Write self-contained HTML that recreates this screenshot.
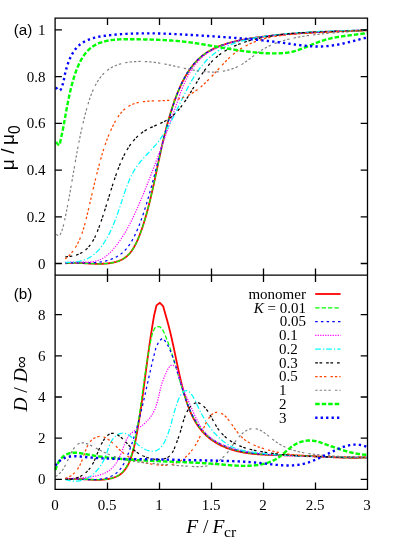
<!DOCTYPE html>
<html><head><meta charset="utf-8"><title>Mobility and diffusion</title>
<style>
html,body{margin:0;padding:0;background:#fff;}
body{width:415px;height:551px;overflow:hidden;font-family:"Liberation Sans",sans-serif;}
svg{display:block;}
</style></head><body>
<svg width="415" height="551" viewBox="0 0 415 551">
<rect width="415" height="551" fill="#fff"/>
<g stroke-linecap="butt" stroke-linejoin="round">
<path d="M65.30 263.30 L65.97 263.23 L66.65 263.16 L67.32 263.10 L68.00 263.04 L68.68 263.00 L69.36 262.96 L70.04 262.93 L70.72 262.90 L71.41 262.88 L72.09 262.86 L72.78 262.85 L73.47 262.85 L74.16 262.85 L74.86 262.85 L75.55 262.86 L76.24 262.87 L76.94 262.89 L77.64 262.91 L78.34 262.93 L79.04 262.96 L79.74 262.99 L80.44 263.02 L81.15 263.05 L81.85 263.09 L82.56 263.12 L83.26 263.16 L83.97 263.20 L84.68 263.24 L85.39 263.28 L86.10 263.32 L86.81 263.36 L87.52 263.41 L88.24 263.45 L88.95 263.49 L89.67 263.52 L90.38 263.56 L91.10 263.60 L91.82 263.63 L92.53 263.67 L93.25 263.70 L93.97 263.72 L94.69 263.75 L95.41 263.77 L96.13 263.79 L96.85 263.80 L97.58 263.81 L98.30 263.82 L99.02 263.82 L99.74 263.82 L100.47 263.81 L101.19 263.80 L101.91 263.78 L102.64 263.76 L103.36 263.73 L104.08 263.69 L104.80 263.65 L105.52 263.60 L106.24 263.54 L106.96 263.48 L107.67 263.41 L108.38 263.33 L109.09 263.24 L109.80 263.15 L110.50 263.04 L111.20 262.93 L111.89 262.81 L112.58 262.68 L113.27 262.54 L113.95 262.39 L114.62 262.23 L115.29 262.06 L115.95 261.88 L116.61 261.68 L117.26 261.48 L117.90 261.27 L118.53 261.04 L119.16 260.80 L119.78 260.55 L120.39 260.29 L120.99 260.02 L121.59 259.73 L122.17 259.43 L122.74 259.11 L123.31 258.79 L123.86 258.45 L124.40 258.09 L124.94 257.72 L125.46 257.34 L125.97 256.94 L126.47 256.53 L126.96 256.11 L127.45 255.67 L127.92 255.22 L128.38 254.76 L128.83 254.29 L129.28 253.81 L129.71 253.31 L130.14 252.81 L130.56 252.29 L130.97 251.77 L131.37 251.23 L131.77 250.69 L132.15 250.14 L132.53 249.57 L132.91 249.00 L133.27 248.43 L133.63 247.84 L133.98 247.25 L134.32 246.65 L134.66 246.04 L134.99 245.43 L135.32 244.81 L135.64 244.19 L135.96 243.56 L136.27 242.92 L136.57 242.28 L136.87 241.64 L137.16 240.99 L137.46 240.34 L137.74 239.69 L138.02 239.03 L138.30 238.37 L138.57 237.71 L138.84 237.04 L139.11 236.37 L139.37 235.71 L139.63 235.04 L139.89 234.37 L140.15 233.70 L140.40 233.03 L140.65 232.36 L140.89 231.68 L141.14 231.01 L141.38 230.34 L141.62 229.66 L141.85 228.99 L142.09 228.31 L142.32 227.63 L142.55 226.96 L142.77 226.28 L143.00 225.60 L143.22 224.92 L143.44 224.24 L143.65 223.56 L143.87 222.88 L144.08 222.20 L144.29 221.52 L144.50 220.84 L144.71 220.16 L144.91 219.48 L145.12 218.80 L145.32 218.11 L145.52 217.43 L145.71 216.75 L145.91 216.07 L146.10 215.39 L146.30 214.70 L146.49 214.02 L146.68 213.34 L146.86 212.65 L147.05 211.97 L147.24 211.29 L147.42 210.61 L147.60 209.92 L147.78 209.24 L147.96 208.56 L148.14 207.88 L148.32 207.20 L148.49 206.51 L148.67 205.83 L148.84 205.15 L149.02 204.47 L149.19 203.79 L149.36 203.11 L149.53 202.43 L149.70 201.74 L149.86 201.06 L150.03 200.38 L150.20 199.70 L150.36 199.02 L150.52 198.34 L150.69 197.66 L150.85 196.98 L151.01 196.30 L151.17 195.62 L151.33 194.94 L151.49 194.26 L151.64 193.58 L151.80 192.90 L151.96 192.22 L152.11 191.54 L152.27 190.87 L152.42 190.19 L152.57 189.51 L152.73 188.83 L152.88 188.15 L153.03 187.47 L153.18 186.79 L153.33 186.11 L153.48 185.44 L153.63 184.76 L153.78 184.08 L153.93 183.40 L154.08 182.72 L154.22 182.04 L154.37 181.37 L154.52 180.69 L154.66 180.01 L154.81 179.33 L154.95 178.66 L155.10 177.98 L155.24 177.30 L155.39 176.62 L155.53 175.95 L155.67 175.27 L155.82 174.59 L155.96 173.91 L156.10 173.24 L156.25 172.56 L156.39 171.88 L156.53 171.21 L156.68 170.53 L156.82 169.85 L156.96 169.17 L157.10 168.50 L157.25 167.82 L157.39 167.14 L157.53 166.47 L157.67 165.79 L157.82 165.11 L157.96 164.44 L158.10 163.76 L158.24 163.08 L158.39 162.41 L158.53 161.73 L158.67 161.06 L158.82 160.38 L158.96 159.70 L159.10 159.03 L159.25 158.35 L159.39 157.67 L159.54 157.00 L159.68 156.32 L159.83 155.64 L159.97 154.97 L160.12 154.29 L160.27 153.62 L160.41 152.94 L160.56 152.26 L160.71 151.59 L160.86 150.91 L161.00 150.23 L161.15 149.56 L161.30 148.88 L161.45 148.21 L161.60 147.53 L161.76 146.85 L161.91 146.18 L162.06 145.50 L162.22 144.82 L162.37 144.15 L162.52 143.47 L162.68 142.79 L162.84 142.12 L162.99 141.44 L163.15 140.76 L163.31 140.09 L163.47 139.41 L163.63 138.74 L163.79 138.06 L163.95 137.38 L164.12 136.71 L164.28 136.03 L164.44 135.35 L164.61 134.68 L164.78 134.00 L164.94 133.32 L165.11 132.64 L165.28 131.97 L165.45 131.29 L165.63 130.61 L165.80 129.94 L165.97 129.26 L166.15 128.58 L166.33 127.91 L166.50 127.23 L166.68 126.55 L166.86 125.87 L167.04 125.20 L167.23 124.52 L167.41 123.84 L167.60 123.16 L167.78 122.48 L167.97 121.81 L168.16 121.13 L168.35 120.45 L168.54 119.77 L168.74 119.10 L168.93 118.42 L169.13 117.74 L169.32 117.06 L169.52 116.38 L169.73 115.70 L169.93 115.02 L170.13 114.35 L170.34 113.67 L170.54 112.99 L170.75 112.31 L170.96 111.63 L171.18 110.95 L171.39 110.27 L171.61 109.59 L171.82 108.91 L172.04 108.23 L172.26 107.55 L172.49 106.87 L172.71 106.19 L172.94 105.51 L173.16 104.83 L173.39 104.15 L173.63 103.47 L173.86 102.79 L174.10 102.11 L174.33 101.44 L174.57 100.76 L174.82 100.08 L175.06 99.40 L175.31 98.72 L175.56 98.05 L175.81 97.37 L176.06 96.70 L176.32 96.02 L176.58 95.35 L176.84 94.68 L177.10 94.01 L177.36 93.34 L177.63 92.67 L177.90 92.00 L178.18 91.34 L178.45 90.67 L178.73 90.01 L179.01 89.35 L179.30 88.69 L179.59 88.04 L179.88 87.38 L180.17 86.73 L180.47 86.08 L180.76 85.43 L181.07 84.78 L181.37 84.14 L181.68 83.50 L181.99 82.86 L182.31 82.22 L182.62 81.59 L182.94 80.96 L183.27 80.33 L183.60 79.70 L183.93 79.08 L184.26 78.46 L184.60 77.84 L184.94 77.23 L185.29 76.62 L185.63 76.01 L185.99 75.41 L186.34 74.81 L186.70 74.21 L187.06 73.62 L187.43 73.03 L187.80 72.44 L188.18 71.86 L188.55 71.28 L188.94 70.71 L189.32 70.14 L189.71 69.58 L190.11 69.01 L190.51 68.46 L190.91 67.90 L191.32 67.36 L191.73 66.81 L192.14 66.27 L192.56 65.74 L192.98 65.21 L193.41 64.68 L193.84 64.16 L194.28 63.65 L194.72 63.14 L195.17 62.63 L195.62 62.13 L196.07 61.64 L196.53 61.15 L197.00 60.67 L197.47 60.19 L197.94 59.72 L198.42 59.25 L198.90 58.79 L199.39 58.33 L199.88 57.89 L200.38 57.44 L200.88 57.00 L201.39 56.57 L201.90 56.15 L202.42 55.73 L202.94 55.32 L203.47 54.91 L204.00 54.51 L204.54 54.12 L205.09 53.73 L205.63 53.35 L206.19 52.98 L206.75 52.61 L207.31 52.25 L207.87 51.89 L208.45 51.54 L209.02 51.20 L209.60 50.86 L210.19 50.52 L210.78 50.20 L211.37 49.88 L211.97 49.56 L212.57 49.25 L213.18 48.94 L213.78 48.64 L214.40 48.35 L215.01 48.06 L215.64 47.77 L216.26 47.49 L216.89 47.22 L217.52 46.95 L218.15 46.68 L218.79 46.42 L219.43 46.17 L220.08 45.92 L220.73 45.67 L221.38 45.43 L222.03 45.19 L222.69 44.96 L223.35 44.73 L224.01 44.50 L224.67 44.28 L225.34 44.07 L226.01 43.85 L226.68 43.65 L227.36 43.44 L228.03 43.24 L228.71 43.04 L229.40 42.85 L230.08 42.66 L230.77 42.48 L231.45 42.29 L232.14 42.11 L232.83 41.94 L233.53 41.77 L234.22 41.60 L234.92 41.43 L235.62 41.27 L236.32 41.11 L237.02 40.95 L237.72 40.80 L238.42 40.65 L239.13 40.50 L239.83 40.35 L240.54 40.21 L241.25 40.07 L241.96 39.93 L242.67 39.80 L243.38 39.66 L244.09 39.53 L244.80 39.41 L245.51 39.28 L246.22 39.16 L246.94 39.03 L247.65 38.91 L248.36 38.80 L249.08 38.68 L249.79 38.57 L250.50 38.45 L251.22 38.34 L251.93 38.23 L252.65 38.12 L253.36 38.02 L254.07 37.91 L254.78 37.81 L255.50 37.71 L256.21 37.60 L256.92 37.50 L257.63 37.41 L258.34 37.31 L259.05 37.21 L259.76 37.11 L260.46 37.02 L261.17 36.93 L261.88 36.83 L262.58 36.74 L263.29 36.65 L264.00 36.56 L264.70 36.47 L265.40 36.39 L266.11 36.30 L266.81 36.21 L267.51 36.13 L268.21 36.05 L268.92 35.96 L269.62 35.88 L270.32 35.80 L271.02 35.72 L271.72 35.64 L272.42 35.56 L273.12 35.49 L273.81 35.41 L274.51 35.34 L275.21 35.26 L275.91 35.19 L276.60 35.12 L277.30 35.05 L278.00 34.98 L278.69 34.91 L279.39 34.84 L280.08 34.77 L280.78 34.70 L281.47 34.64 L282.16 34.57 L282.86 34.50 L283.55 34.44 L284.24 34.38 L284.94 34.32 L285.63 34.25 L286.32 34.19 L287.01 34.13 L287.70 34.07 L288.39 34.02 L289.09 33.96 L289.78 33.90 L290.47 33.84 L291.16 33.79 L291.85 33.73 L292.54 33.68 L293.23 33.63 L293.92 33.57 L294.61 33.52 L295.30 33.47 L295.98 33.42 L296.67 33.37 L297.36 33.32 L298.05 33.27 L298.74 33.22 L299.43 33.18 L300.12 33.13 L300.80 33.08 L301.49 33.04 L302.18 32.99 L302.87 32.95 L303.56 32.90 L304.24 32.86 L304.93 32.82 L305.62 32.78 L306.31 32.73 L307.00 32.69 L307.68 32.65 L308.37 32.61 L309.06 32.57 L309.75 32.53 L310.43 32.49 L311.12 32.46 L311.81 32.42 L312.50 32.38 L313.19 32.35 L313.87 32.31 L314.56 32.27 L315.25 32.24 L315.94 32.20 L316.63 32.17 L317.32 32.13 L318.00 32.10 L318.69 32.07 L319.38 32.04 L320.07 32.00 L320.76 31.97 L321.45 31.94 L322.14 31.91 L322.83 31.88 L323.52 31.85 L324.21 31.82 L324.90 31.79 L325.59 31.76 L326.28 31.73 L326.97 31.70 L327.66 31.67 L328.35 31.64 L329.04 31.61 L329.74 31.59 L330.43 31.56 L331.12 31.53 L331.81 31.50 L332.51 31.48 L333.20 31.45 L333.89 31.42 L334.59 31.40 L335.28 31.37 L335.98 31.35 L336.67 31.32 L337.37 31.30 L338.06 31.27 L338.76 31.25 L339.46 31.22 L340.15 31.20 L340.85 31.17 L341.55 31.15 L342.24 31.12 L342.94 31.10 L343.64 31.08 L344.34 31.05 L345.04 31.03 L345.74 31.00 L346.44 30.98 L347.14 30.96 L347.84 30.93 L348.55 30.91 L349.25 30.89 L349.95 30.86 L350.66 30.84 L351.36 30.82 L352.06 30.79 L352.77 30.77 L353.48 30.75 L354.18 30.72 L354.89 30.70 L355.60 30.68 L356.30 30.66 L357.01 30.63 L357.72 30.61 L358.43 30.59 L359.14 30.56 L359.85 30.54 L360.57 30.52 L361.28 30.49 L361.99 30.47 L362.70 30.44 L363.42 30.42 L364.13 30.40 L364.85 30.37 L365.57 30.35 L366.28 30.32 L367.00 30.30" fill="none" stroke="#ff0000" stroke-width="1.8"/>
<path d="M65.30 263.30 L65.97 263.23 L66.65 263.16 L67.32 263.10 L68.00 263.04 L68.68 263.00 L69.36 262.96 L70.04 262.93 L70.72 262.90 L71.41 262.88 L72.09 262.86 L72.78 262.85 L73.47 262.85 L74.16 262.85 L74.86 262.85 L75.55 262.86 L76.24 262.87 L76.94 262.89 L77.64 262.91 L78.34 262.93 L79.04 262.96 L79.74 262.99 L80.44 263.02 L81.15 263.05 L81.85 263.09 L82.56 263.12 L83.26 263.16 L83.97 263.20 L84.68 263.24 L85.39 263.28 L86.10 263.32 L86.81 263.36 L87.52 263.41 L88.24 263.45 L88.95 263.49 L89.67 263.52 L90.38 263.56 L91.10 263.60 L91.82 263.63 L92.53 263.67 L93.25 263.70 L93.97 263.72 L94.69 263.75 L95.41 263.77 L96.13 263.79 L96.85 263.80 L97.58 263.81 L98.30 263.82 L99.02 263.82 L99.74 263.82 L100.47 263.81 L101.19 263.80 L101.91 263.78 L102.64 263.76 L103.36 263.73 L104.08 263.69 L104.80 263.65 L105.52 263.60 L106.24 263.54 L106.96 263.48 L107.67 263.41 L108.38 263.33 L109.09 263.24 L109.80 263.15 L110.50 263.04 L111.20 262.93 L111.89 262.81 L112.58 262.68 L113.27 262.54 L113.95 262.39 L114.62 262.23 L115.29 262.06 L115.95 261.88 L116.61 261.68 L117.26 261.48 L117.90 261.27 L118.53 261.04 L119.16 260.80 L119.78 260.55 L120.39 260.29 L120.99 260.02 L121.59 259.73 L122.17 259.43 L122.74 259.11 L123.31 258.79 L123.86 258.45 L124.40 258.09 L124.94 257.72 L125.46 257.34 L125.97 256.94 L126.47 256.53 L126.96 256.11 L127.45 255.67 L127.92 255.22 L128.38 254.76 L128.83 254.29 L129.28 253.81 L129.71 253.31 L130.14 252.81 L130.56 252.29 L130.97 251.77 L131.37 251.23 L131.77 250.69 L132.15 250.14 L132.53 249.57 L132.91 249.00 L133.27 248.43 L133.63 247.84 L133.98 247.25 L134.32 246.65 L134.66 246.04 L134.99 245.43 L135.32 244.81 L135.64 244.19 L135.96 243.56 L136.27 242.92 L136.57 242.28 L136.87 241.64 L137.16 240.99 L137.46 240.34 L137.74 239.69 L138.02 239.03 L138.30 238.37 L138.57 237.71 L138.84 237.04 L139.11 236.37 L139.37 235.71 L139.63 235.04 L139.89 234.37 L140.15 233.70 L140.40 233.03 L140.65 232.36 L140.89 231.68 L141.14 231.01 L141.38 230.34 L141.62 229.66 L141.85 228.99 L142.09 228.31 L142.32 227.63 L142.55 226.96 L142.77 226.28 L143.00 225.60 L143.22 224.92 L143.44 224.24 L143.65 223.56 L143.87 222.88 L144.08 222.20 L144.29 221.52 L144.50 220.84 L144.71 220.16 L144.91 219.48 L145.12 218.80 L145.32 218.11 L145.52 217.43 L145.71 216.75 L145.91 216.07 L146.10 215.39 L146.30 214.70 L146.49 214.02 L146.68 213.34 L146.86 212.65 L147.05 211.97 L147.24 211.29 L147.42 210.61 L147.60 209.92 L147.78 209.24 L147.96 208.56 L148.14 207.88 L148.32 207.20 L148.49 206.51 L148.67 205.83 L148.84 205.15 L149.02 204.47 L149.19 203.79 L149.36 203.11 L149.53 202.43 L149.70 201.74 L149.86 201.06 L150.03 200.38 L150.20 199.70 L150.36 199.02 L150.52 198.34 L150.69 197.66 L150.85 196.98 L151.01 196.30 L151.17 195.62 L151.33 194.94 L151.49 194.26 L151.64 193.58 L151.80 192.90 L151.96 192.22 L152.11 191.54 L152.27 190.87 L152.42 190.19 L152.57 189.51 L152.73 188.83 L152.88 188.15 L153.03 187.47 L153.18 186.79 L153.33 186.11 L153.48 185.44 L153.63 184.76 L153.78 184.08 L153.93 183.40 L154.08 182.72 L154.22 182.04 L154.37 181.37 L154.52 180.69 L154.66 180.01 L154.81 179.33 L154.95 178.66 L155.10 177.98 L155.24 177.30 L155.39 176.62 L155.53 175.95 L155.67 175.27 L155.82 174.59 L155.96 173.91 L156.10 173.24 L156.25 172.56 L156.39 171.88 L156.53 171.21 L156.68 170.53 L156.82 169.85 L156.96 169.17 L157.10 168.50 L157.25 167.82 L157.39 167.14 L157.53 166.47 L157.67 165.79 L157.82 165.11 L157.96 164.44 L158.10 163.76 L158.24 163.08 L158.39 162.41 L158.53 161.73 L158.67 161.06 L158.82 160.38 L158.96 159.70 L159.10 159.03 L159.25 158.35 L159.39 157.67 L159.54 157.00 L159.68 156.32 L159.83 155.64 L159.97 154.97 L160.12 154.29 L160.27 153.62 L160.41 152.94 L160.56 152.26 L160.71 151.59 L160.86 150.91 L161.00 150.23 L161.15 149.56 L161.30 148.88 L161.45 148.21 L161.60 147.53 L161.76 146.85 L161.91 146.18 L162.06 145.50 L162.22 144.82 L162.37 144.15 L162.52 143.47 L162.68 142.79 L162.84 142.12 L162.99 141.44 L163.15 140.76 L163.31 140.09 L163.47 139.41 L163.63 138.74 L163.79 138.06 L163.95 137.38 L164.12 136.71 L164.28 136.03 L164.44 135.35 L164.61 134.68 L164.78 134.00 L164.94 133.32 L165.11 132.64 L165.28 131.97 L165.45 131.29 L165.63 130.61 L165.80 129.94 L165.97 129.26 L166.15 128.58 L166.33 127.91 L166.50 127.23 L166.68 126.55 L166.86 125.87 L167.04 125.20 L167.23 124.52 L167.41 123.84 L167.60 123.16 L167.78 122.48 L167.97 121.81 L168.16 121.13 L168.35 120.45 L168.54 119.77 L168.74 119.10 L168.93 118.42 L169.13 117.74 L169.32 117.06 L169.52 116.38 L169.73 115.70 L169.93 115.02 L170.13 114.35 L170.34 113.67 L170.54 112.99 L170.75 112.31 L170.96 111.63 L171.18 110.95 L171.39 110.27 L171.61 109.59 L171.82 108.91 L172.04 108.23 L172.26 107.55 L172.49 106.87 L172.71 106.19 L172.94 105.51 L173.16 104.83 L173.39 104.15 L173.63 103.47 L173.86 102.79 L174.10 102.11 L174.33 101.44 L174.57 100.76 L174.82 100.08 L175.06 99.40 L175.31 98.72 L175.56 98.05 L175.81 97.37 L176.06 96.70 L176.32 96.02 L176.58 95.35 L176.84 94.68 L177.10 94.01 L177.36 93.34 L177.63 92.67 L177.90 92.00 L178.18 91.34 L178.45 90.67 L178.73 90.01 L179.01 89.35 L179.30 88.69 L179.59 88.04 L179.88 87.38 L180.17 86.73 L180.47 86.08 L180.76 85.43 L181.07 84.78 L181.37 84.14 L181.68 83.50 L181.99 82.86 L182.31 82.22 L182.62 81.59 L182.94 80.96 L183.27 80.33 L183.60 79.70 L183.93 79.08 L184.26 78.46 L184.60 77.84 L184.94 77.23 L185.29 76.62 L185.63 76.01 L185.99 75.41 L186.34 74.81 L186.70 74.21 L187.06 73.62 L187.43 73.03 L187.80 72.44 L188.18 71.86 L188.55 71.28 L188.94 70.71 L189.32 70.14 L189.71 69.58 L190.11 69.01 L190.51 68.46 L190.91 67.90 L191.32 67.36 L191.73 66.81 L192.14 66.27 L192.56 65.74 L192.98 65.21 L193.41 64.68 L193.84 64.16 L194.28 63.65 L194.72 63.14 L195.17 62.63 L195.62 62.13 L196.07 61.64 L196.53 61.15 L197.00 60.67 L197.47 60.19 L197.94 59.72 L198.42 59.25 L198.90 58.79 L199.39 58.33 L199.88 57.89 L200.38 57.44 L200.88 57.00 L201.39 56.57 L201.90 56.15 L202.42 55.73 L202.94 55.32 L203.47 54.91 L204.00 54.51 L204.54 54.12 L205.09 53.73 L205.63 53.35 L206.19 52.98 L206.75 52.61 L207.31 52.25 L207.87 51.89 L208.45 51.54 L209.02 51.20 L209.60 50.86 L210.19 50.52 L210.78 50.20 L211.37 49.88 L211.97 49.56 L212.57 49.25 L213.18 48.94 L213.78 48.64 L214.40 48.35 L215.01 48.06 L215.64 47.77 L216.26 47.49 L216.89 47.22 L217.52 46.95 L218.15 46.68 L218.79 46.42 L219.43 46.17 L220.08 45.92 L220.73 45.67 L221.38 45.43 L222.03 45.19 L222.69 44.96 L223.35 44.73 L224.01 44.50 L224.67 44.28 L225.34 44.07 L226.01 43.85 L226.68 43.65 L227.36 43.44 L228.03 43.24 L228.71 43.04 L229.40 42.85 L230.08 42.66 L230.77 42.48 L231.45 42.29 L232.14 42.11 L232.83 41.94 L233.53 41.77 L234.22 41.60 L234.92 41.43 L235.62 41.27 L236.32 41.11 L237.02 40.95 L237.72 40.80 L238.42 40.65 L239.13 40.50 L239.83 40.35 L240.54 40.21 L241.25 40.07 L241.96 39.93 L242.67 39.80 L243.38 39.66 L244.09 39.53 L244.80 39.41 L245.51 39.28 L246.22 39.16 L246.94 39.03 L247.65 38.91 L248.36 38.80 L249.08 38.68 L249.79 38.57 L250.50 38.45 L251.22 38.34 L251.93 38.23 L252.65 38.12 L253.36 38.02 L254.07 37.91 L254.78 37.81 L255.50 37.71 L256.21 37.60 L256.92 37.50 L257.63 37.41 L258.34 37.31 L259.05 37.21 L259.76 37.11 L260.46 37.02 L261.17 36.93 L261.88 36.83 L262.58 36.74 L263.29 36.65 L264.00 36.56 L264.70 36.47 L265.40 36.39 L266.11 36.30 L266.81 36.21 L267.51 36.13 L268.21 36.05 L268.92 35.96 L269.62 35.88 L270.32 35.80 L271.02 35.72 L271.72 35.64 L272.42 35.56 L273.12 35.49 L273.81 35.41 L274.51 35.34 L275.21 35.26 L275.91 35.19 L276.60 35.12 L277.30 35.05 L278.00 34.98 L278.69 34.91 L279.39 34.84 L280.08 34.77 L280.78 34.70 L281.47 34.64 L282.16 34.57 L282.86 34.50 L283.55 34.44 L284.24 34.38 L284.94 34.32 L285.63 34.25 L286.32 34.19 L287.01 34.13 L287.70 34.07 L288.39 34.02 L289.09 33.96 L289.78 33.90 L290.47 33.84 L291.16 33.79 L291.85 33.73 L292.54 33.68 L293.23 33.63 L293.92 33.57 L294.61 33.52 L295.30 33.47 L295.98 33.42 L296.67 33.37 L297.36 33.32 L298.05 33.27 L298.74 33.22 L299.43 33.18 L300.12 33.13 L300.80 33.08 L301.49 33.04 L302.18 32.99 L302.87 32.95 L303.56 32.90 L304.24 32.86 L304.93 32.82 L305.62 32.78 L306.31 32.73 L307.00 32.69 L307.68 32.65 L308.37 32.61 L309.06 32.57 L309.75 32.53 L310.43 32.49 L311.12 32.46 L311.81 32.42 L312.50 32.38 L313.19 32.35 L313.87 32.31 L314.56 32.27 L315.25 32.24 L315.94 32.20 L316.63 32.17 L317.32 32.13 L318.00 32.10 L318.69 32.07 L319.38 32.04 L320.07 32.00 L320.76 31.97 L321.45 31.94 L322.14 31.91 L322.83 31.88 L323.52 31.85 L324.21 31.82 L324.90 31.79 L325.59 31.76 L326.28 31.73 L326.97 31.70 L327.66 31.67 L328.35 31.64 L329.04 31.61 L329.74 31.59 L330.43 31.56 L331.12 31.53 L331.81 31.50 L332.51 31.48 L333.20 31.45 L333.89 31.42 L334.59 31.40 L335.28 31.37 L335.98 31.35 L336.67 31.32 L337.37 31.30 L338.06 31.27 L338.76 31.25 L339.46 31.22 L340.15 31.20 L340.85 31.17 L341.55 31.15 L342.24 31.12 L342.94 31.10 L343.64 31.08 L344.34 31.05 L345.04 31.03 L345.74 31.00 L346.44 30.98 L347.14 30.96 L347.84 30.93 L348.55 30.91 L349.25 30.89 L349.95 30.86 L350.66 30.84 L351.36 30.82 L352.06 30.79 L352.77 30.77 L353.48 30.75 L354.18 30.72 L354.89 30.70 L355.60 30.68 L356.30 30.66 L357.01 30.63 L357.72 30.61 L358.43 30.59 L359.14 30.56 L359.85 30.54 L360.57 30.52 L361.28 30.49 L361.99 30.47 L362.70 30.44 L363.42 30.42 L364.13 30.40 L364.85 30.37 L365.57 30.35 L366.28 30.32 L367.00 30.30" fill="none" stroke="#00ff00" stroke-width="1.25" stroke-dasharray="4.4 2"/>
<path d="M65.30 263.00 L65.95 262.95 L66.60 262.91 L67.26 262.88 L67.93 262.85 L68.60 262.83 L69.27 262.80 L69.95 262.79 L70.63 262.78 L71.31 262.77 L72.00 262.76 L72.69 262.76 L73.38 262.76 L74.08 262.76 L74.78 262.77 L75.49 262.78 L76.19 262.78 L76.90 262.79 L77.61 262.80 L78.32 262.82 L79.04 262.83 L79.76 262.84 L80.47 262.85 L81.19 262.86 L81.92 262.88 L82.64 262.89 L83.36 262.89 L84.09 262.90 L84.81 262.91 L85.54 262.91 L86.27 262.91 L86.99 262.91 L87.72 262.90 L88.45 262.90 L89.17 262.88 L89.90 262.87 L90.63 262.85 L91.35 262.82 L92.08 262.79 L92.80 262.76 L93.52 262.72 L94.24 262.68 L94.96 262.63 L95.68 262.57 L96.40 262.51 L97.11 262.44 L97.82 262.36 L98.53 262.27 L99.24 262.18 L99.95 262.08 L100.65 261.98 L101.35 261.86 L102.05 261.74 L102.74 261.61 L103.43 261.48 L104.12 261.33 L104.80 261.18 L105.48 261.02 L106.15 260.85 L106.82 260.67 L107.49 260.49 L108.15 260.29 L108.81 260.09 L109.46 259.88 L110.11 259.66 L110.75 259.43 L111.39 259.20 L112.02 258.95 L112.65 258.70 L113.27 258.43 L113.89 258.16 L114.49 257.87 L115.10 257.58 L115.69 257.28 L116.28 256.97 L116.87 256.65 L117.44 256.32 L118.01 255.98 L118.57 255.63 L119.13 255.26 L119.67 254.89 L120.21 254.51 L120.74 254.12 L121.27 253.72 L121.78 253.31 L122.29 252.88 L122.79 252.45 L123.28 252.01 L123.76 251.55 L124.24 251.09 L124.70 250.61 L125.16 250.13 L125.61 249.64 L126.06 249.14 L126.50 248.63 L126.93 248.11 L127.35 247.59 L127.77 247.06 L128.18 246.51 L128.58 245.97 L128.98 245.41 L129.37 244.85 L129.76 244.28 L130.14 243.71 L130.51 243.13 L130.88 242.54 L131.24 241.95 L131.60 241.35 L131.95 240.74 L132.30 240.14 L132.64 239.52 L132.97 238.91 L133.31 238.28 L133.63 237.66 L133.96 237.03 L134.28 236.40 L134.59 235.76 L134.90 235.12 L135.21 234.48 L135.51 233.84 L135.81 233.19 L136.11 232.54 L136.40 231.89 L136.69 231.24 L136.98 230.59 L137.27 229.93 L137.55 229.28 L137.82 228.62 L138.10 227.96 L138.37 227.30 L138.64 226.64 L138.91 225.98 L139.17 225.31 L139.43 224.65 L139.69 223.98 L139.95 223.31 L140.20 222.65 L140.45 221.98 L140.70 221.31 L140.95 220.64 L141.19 219.96 L141.43 219.29 L141.67 218.62 L141.91 217.95 L142.15 217.27 L142.38 216.60 L142.61 215.92 L142.84 215.25 L143.07 214.57 L143.30 213.90 L143.52 213.22 L143.74 212.54 L143.97 211.87 L144.18 211.19 L144.40 210.51 L144.62 209.84 L144.83 209.16 L145.05 208.48 L145.26 207.81 L145.47 207.13 L145.68 206.46 L145.89 205.78 L146.10 205.10 L146.31 204.43 L146.51 203.75 L146.72 203.08 L146.92 202.40 L147.12 201.73 L147.32 201.06 L147.52 200.38 L147.72 199.71 L147.92 199.04 L148.12 198.36 L148.31 197.69 L148.51 197.02 L148.70 196.34 L148.89 195.67 L149.09 195.00 L149.28 194.33 L149.47 193.65 L149.66 192.98 L149.85 192.31 L150.03 191.64 L150.22 190.97 L150.41 190.30 L150.59 189.62 L150.78 188.95 L150.96 188.28 L151.14 187.61 L151.33 186.94 L151.51 186.27 L151.69 185.60 L151.87 184.93 L152.05 184.26 L152.23 183.59 L152.41 182.92 L152.59 182.25 L152.76 181.58 L152.94 180.91 L153.12 180.24 L153.29 179.57 L153.47 178.90 L153.64 178.23 L153.82 177.56 L153.99 176.89 L154.16 176.22 L154.33 175.55 L154.51 174.89 L154.68 174.22 L154.85 173.55 L155.02 172.88 L155.19 172.21 L155.36 171.54 L155.53 170.87 L155.70 170.20 L155.87 169.53 L156.04 168.86 L156.21 168.20 L156.38 167.53 L156.55 166.86 L156.72 166.19 L156.89 165.52 L157.05 164.85 L157.22 164.18 L157.39 163.51 L157.56 162.84 L157.73 162.17 L157.89 161.51 L158.06 160.84 L158.23 160.17 L158.40 159.50 L158.56 158.83 L158.73 158.16 L158.90 157.49 L159.07 156.82 L159.23 156.15 L159.40 155.48 L159.57 154.81 L159.74 154.14 L159.90 153.47 L160.07 152.80 L160.24 152.13 L160.41 151.46 L160.58 150.79 L160.75 150.12 L160.91 149.45 L161.08 148.78 L161.25 148.11 L161.42 147.44 L161.59 146.77 L161.76 146.10 L161.93 145.43 L162.11 144.75 L162.28 144.08 L162.45 143.41 L162.62 142.74 L162.79 142.07 L162.97 141.40 L163.14 140.72 L163.31 140.05 L163.49 139.38 L163.66 138.71 L163.84 138.03 L164.01 137.36 L164.19 136.69 L164.37 136.01 L164.54 135.34 L164.72 134.66 L164.90 133.99 L165.08 133.32 L165.26 132.64 L165.44 131.97 L165.62 131.29 L165.80 130.62 L165.99 129.94 L166.17 129.27 L166.35 128.59 L166.54 127.91 L166.73 127.24 L166.91 126.56 L167.10 125.88 L167.29 125.21 L167.48 124.53 L167.67 123.85 L167.86 123.17 L168.05 122.49 L168.24 121.82 L168.43 121.14 L168.63 120.46 L168.82 119.78 L169.02 119.10 L169.22 118.42 L169.42 117.74 L169.62 117.06 L169.82 116.38 L170.02 115.70 L170.22 115.01 L170.42 114.33 L170.63 113.65 L170.83 112.97 L171.04 112.28 L171.25 111.60 L171.46 110.92 L171.67 110.23 L171.88 109.55 L172.09 108.86 L172.31 108.18 L172.52 107.49 L172.74 106.81 L172.96 106.12 L173.18 105.44 L173.40 104.75 L173.62 104.07 L173.85 103.38 L174.08 102.70 L174.30 102.02 L174.53 101.33 L174.77 100.65 L175.00 99.97 L175.24 99.29 L175.47 98.61 L175.71 97.93 L175.96 97.25 L176.20 96.57 L176.45 95.90 L176.69 95.22 L176.95 94.55 L177.20 93.88 L177.46 93.20 L177.71 92.53 L177.97 91.87 L178.24 91.20 L178.50 90.54 L178.77 89.87 L179.04 89.21 L179.32 88.55 L179.60 87.90 L179.88 87.24 L180.16 86.59 L180.44 85.94 L180.73 85.29 L181.03 84.64 L181.32 84.00 L181.62 83.36 L181.92 82.72 L182.23 82.09 L182.53 81.45 L182.85 80.83 L183.16 80.20 L183.48 79.57 L183.80 78.95 L184.13 78.34 L184.46 77.72 L184.79 77.11 L185.13 76.50 L185.47 75.90 L185.81 75.30 L186.16 74.70 L186.52 74.11 L186.87 73.52 L187.23 72.93 L187.60 72.35 L187.97 71.77 L188.34 71.20 L188.72 70.63 L189.10 70.07 L189.48 69.50 L189.87 68.95 L190.27 68.39 L190.67 67.85 L191.07 67.30 L191.48 66.77 L191.90 66.23 L192.31 65.70 L192.74 65.18 L193.16 64.66 L193.60 64.15 L194.04 63.64 L194.48 63.13 L194.93 62.63 L195.38 62.14 L195.84 61.65 L196.30 61.17 L196.77 60.69 L197.24 60.22 L197.72 59.76 L198.20 59.30 L198.69 58.84 L199.19 58.40 L199.69 57.95 L200.20 57.52 L200.71 57.09 L201.23 56.67 L201.75 56.25 L202.28 55.84 L202.81 55.43 L203.35 55.03 L203.90 54.64 L204.44 54.25 L205.00 53.87 L205.56 53.49 L206.12 53.12 L206.69 52.75 L207.26 52.39 L207.84 52.04 L208.42 51.69 L209.01 51.35 L209.60 51.01 L210.20 50.68 L210.80 50.35 L211.40 50.02 L212.01 49.71 L212.62 49.39 L213.24 49.09 L213.86 48.78 L214.48 48.48 L215.11 48.19 L215.74 47.90 L216.37 47.62 L217.01 47.34 L217.65 47.07 L218.30 46.80 L218.94 46.53 L219.59 46.27 L220.25 46.01 L220.90 45.76 L221.56 45.51 L222.22 45.27 L222.89 45.03 L223.56 44.79 L224.23 44.56 L224.90 44.33 L225.57 44.11 L226.25 43.89 L226.93 43.67 L227.61 43.46 L228.29 43.25 L228.98 43.05 L229.67 42.85 L230.35 42.65 L231.05 42.46 L231.74 42.27 L232.43 42.08 L233.13 41.90 L233.82 41.72 L234.52 41.54 L235.22 41.37 L235.92 41.20 L236.63 41.03 L237.33 40.86 L238.03 40.70 L238.74 40.54 L239.44 40.39 L240.15 40.24 L240.86 40.09 L241.56 39.94 L242.27 39.79 L242.98 39.65 L243.69 39.51 L244.40 39.38 L245.11 39.24 L245.81 39.11 L246.52 38.98 L247.23 38.85 L247.94 38.73 L248.65 38.61 L249.36 38.48 L250.07 38.37 L250.77 38.25 L251.48 38.13 L252.19 38.02 L252.89 37.91 L253.60 37.80 L254.30 37.70 L255.00 37.59 L255.71 37.49 L256.41 37.38 L257.11 37.28 L257.81 37.19 L258.51 37.09 L259.21 36.99 L259.91 36.90 L260.60 36.81 L261.30 36.72 L261.99 36.63 L262.69 36.54 L263.38 36.45 L264.08 36.37 L264.77 36.29 L265.47 36.21 L266.16 36.12 L266.85 36.05 L267.54 35.97 L268.23 35.89 L268.92 35.82 L269.61 35.74 L270.30 35.67 L270.99 35.60 L271.68 35.53 L272.37 35.46 L273.06 35.39 L273.74 35.32 L274.43 35.26 L275.12 35.19 L275.81 35.13 L276.49 35.07 L277.18 35.00 L277.87 34.94 L278.55 34.88 L279.24 34.83 L279.92 34.77 L280.61 34.71 L281.29 34.65 L281.98 34.60 L282.66 34.54 L283.35 34.49 L284.03 34.44 L284.72 34.38 L285.40 34.33 L286.09 34.28 L286.77 34.23 L287.46 34.18 L288.14 34.13 L288.83 34.08 L289.52 34.04 L290.20 33.99 L290.89 33.94 L291.57 33.89 L292.26 33.85 L292.94 33.80 L293.63 33.76 L294.32 33.71 L295.00 33.67 L295.69 33.62 L296.38 33.58 L297.06 33.54 L297.75 33.49 L298.44 33.45 L299.13 33.41 L299.82 33.36 L300.51 33.32 L301.20 33.28 L301.89 33.24 L302.58 33.19 L303.27 33.15 L303.96 33.11 L304.65 33.07 L305.34 33.03 L306.04 32.98 L306.73 32.94 L307.43 32.90 L308.12 32.86 L308.82 32.82 L309.51 32.77 L310.21 32.73 L310.90 32.69 L311.60 32.64 L312.30 32.60 L313.00 32.56 L313.70 32.52 L314.40 32.47 L315.10 32.43 L315.80 32.38 L316.50 32.34 L317.21 32.30 L317.91 32.25 L318.61 32.21 L319.31 32.17 L320.02 32.12 L320.72 32.08 L321.43 32.04 L322.13 31.99 L322.84 31.95 L323.54 31.91 L324.25 31.87 L324.95 31.82 L325.66 31.78 L326.37 31.74 L327.07 31.70 L327.78 31.66 L328.48 31.61 L329.19 31.57 L329.90 31.53 L330.61 31.49 L331.31 31.45 L332.02 31.41 L332.73 31.37 L333.43 31.34 L334.14 31.30 L334.85 31.26 L335.56 31.22 L336.26 31.18 L336.97 31.15 L337.68 31.11 L338.38 31.08 L339.09 31.04 L339.80 31.01 L340.50 30.97 L341.21 30.94 L341.91 30.91 L342.62 30.88 L343.32 30.84 L344.03 30.81 L344.73 30.78 L345.44 30.76 L346.14 30.73 L346.85 30.70 L347.55 30.67 L348.25 30.65 L348.95 30.62 L349.66 30.60 L350.36 30.57 L351.06 30.55 L351.76 30.53 L352.46 30.51 L353.16 30.49 L353.86 30.47 L354.56 30.45 L355.25 30.43 L355.95 30.41 L356.65 30.40 L357.34 30.39 L358.04 30.37 L358.73 30.36 L359.42 30.35 L360.12 30.34 L360.81 30.33 L361.50 30.32 L362.19 30.31 L362.88 30.31 L363.57 30.30 L364.26 30.30 L364.94 30.30 L365.63 30.30 L366.32 30.30 L367.00 30.30" fill="none" stroke="#0000ff" stroke-width="1.25" stroke-dasharray="2.5 3.2"/>
<path d="M65.30 262.80 L65.92 262.69 L66.54 262.58 L67.18 262.49 L67.83 262.42 L68.48 262.35 L69.15 262.29 L69.82 262.24 L70.50 262.20 L71.19 262.16 L71.89 262.14 L72.59 262.12 L73.30 262.11 L74.01 262.10 L74.73 262.09 L75.46 262.09 L76.18 262.10 L76.92 262.10 L77.65 262.11 L78.39 262.12 L79.14 262.13 L79.88 262.14 L80.63 262.15 L81.37 262.16 L82.12 262.16 L82.87 262.17 L83.62 262.17 L84.37 262.16 L85.12 262.16 L85.87 262.14 L86.61 262.13 L87.35 262.10 L88.09 262.07 L88.83 262.03 L89.56 261.98 L90.29 261.92 L91.02 261.85 L91.74 261.77 L92.45 261.68 L93.16 261.58 L93.86 261.47 L94.55 261.34 L95.24 261.20 L95.91 261.05 L96.58 260.88 L97.24 260.69 L97.89 260.49 L98.53 260.27 L99.16 260.04 L99.78 259.79 L100.39 259.52 L101.00 259.24 L101.59 258.95 L102.18 258.64 L102.76 258.32 L103.32 257.99 L103.89 257.64 L104.44 257.28 L104.99 256.91 L105.53 256.53 L106.06 256.13 L106.58 255.73 L107.10 255.31 L107.61 254.89 L108.12 254.45 L108.61 254.01 L109.11 253.56 L109.59 253.10 L110.08 252.63 L110.55 252.15 L111.02 251.67 L111.49 251.18 L111.95 250.68 L112.40 250.18 L112.85 249.67 L113.30 249.16 L113.74 248.64 L114.18 248.11 L114.62 247.59 L115.05 247.05 L115.48 246.52 L115.90 245.98 L116.32 245.44 L116.74 244.90 L117.16 244.35 L117.57 243.80 L117.98 243.25 L118.38 242.70 L118.78 242.14 L119.18 241.58 L119.58 241.02 L119.97 240.45 L120.37 239.88 L120.75 239.31 L121.14 238.74 L121.52 238.16 L121.90 237.58 L122.28 237.00 L122.65 236.42 L123.02 235.83 L123.39 235.24 L123.76 234.65 L124.12 234.06 L124.48 233.46 L124.84 232.87 L125.20 232.27 L125.55 231.67 L125.90 231.06 L126.25 230.46 L126.60 229.85 L126.94 229.24 L127.28 228.63 L127.62 228.02 L127.96 227.41 L128.30 226.79 L128.63 226.17 L128.96 225.55 L129.29 224.93 L129.62 224.31 L129.94 223.68 L130.26 223.06 L130.58 222.43 L130.90 221.80 L131.22 221.17 L131.54 220.54 L131.85 219.91 L132.16 219.28 L132.47 218.64 L132.78 218.01 L133.09 217.37 L133.39 216.73 L133.70 216.09 L134.00 215.45 L134.30 214.81 L134.60 214.17 L134.90 213.53 L135.19 212.88 L135.49 212.24 L135.78 211.59 L136.07 210.95 L136.36 210.30 L136.65 209.65 L136.94 209.01 L137.23 208.36 L137.51 207.71 L137.80 207.06 L138.08 206.41 L138.36 205.76 L138.65 205.11 L138.93 204.46 L139.21 203.81 L139.49 203.16 L139.76 202.51 L140.04 201.86 L140.32 201.21 L140.59 200.56 L140.87 199.90 L141.14 199.25 L141.41 198.60 L141.69 197.95 L141.96 197.30 L142.23 196.65 L142.50 196.00 L142.77 195.35 L143.04 194.70 L143.31 194.05 L143.58 193.40 L143.84 192.75 L144.11 192.10 L144.38 191.45 L144.64 190.80 L144.91 190.15 L145.17 189.50 L145.44 188.85 L145.70 188.20 L145.96 187.55 L146.23 186.90 L146.49 186.26 L146.75 185.61 L147.01 184.96 L147.27 184.31 L147.53 183.66 L147.79 183.01 L148.05 182.36 L148.30 181.71 L148.56 181.06 L148.82 180.42 L149.08 179.77 L149.33 179.12 L149.59 178.47 L149.84 177.82 L150.10 177.17 L150.35 176.52 L150.60 175.88 L150.86 175.23 L151.11 174.58 L151.36 173.93 L151.61 173.28 L151.86 172.63 L152.11 171.98 L152.36 171.34 L152.61 170.69 L152.86 170.04 L153.11 169.39 L153.36 168.74 L153.61 168.09 L153.86 167.44 L154.10 166.79 L154.35 166.15 L154.60 165.50 L154.84 164.85 L155.09 164.20 L155.33 163.55 L155.58 162.90 L155.82 162.25 L156.07 161.60 L156.31 160.95 L156.55 160.30 L156.80 159.65 L157.04 159.00 L157.28 158.35 L157.52 157.70 L157.76 157.05 L158.01 156.40 L158.25 155.75 L158.49 155.10 L158.73 154.45 L158.97 153.80 L159.21 153.15 L159.45 152.50 L159.69 151.85 L159.92 151.20 L160.16 150.55 L160.40 149.90 L160.64 149.25 L160.88 148.60 L161.11 147.94 L161.35 147.29 L161.59 146.64 L161.82 145.99 L162.06 145.34 L162.30 144.68 L162.53 144.03 L162.77 143.38 L163.00 142.72 L163.24 142.07 L163.47 141.42 L163.71 140.76 L163.94 140.11 L164.18 139.46 L164.41 138.80 L164.65 138.15 L164.88 137.49 L165.11 136.84 L165.35 136.18 L165.58 135.53 L165.81 134.87 L166.05 134.22 L166.28 133.56 L166.51 132.91 L166.74 132.25 L166.98 131.59 L167.21 130.94 L167.44 130.28 L167.67 129.62 L167.91 128.96 L168.14 128.31 L168.37 127.65 L168.60 126.99 L168.83 126.33 L169.06 125.67 L169.29 125.01 L169.53 124.35 L169.76 123.69 L169.99 123.03 L170.22 122.37 L170.45 121.71 L170.68 121.05 L170.91 120.39 L171.14 119.73 L171.37 119.07 L171.60 118.41 L171.83 117.74 L172.07 117.08 L172.30 116.42 L172.53 115.75 L172.76 115.09 L172.99 114.43 L173.22 113.76 L173.45 113.10 L173.68 112.43 L173.91 111.77 L174.14 111.10 L174.37 110.43 L174.60 109.77 L174.83 109.10 L175.06 108.43 L175.29 107.77 L175.53 107.10 L175.76 106.43 L175.99 105.76 L176.22 105.09 L176.45 104.42 L176.68 103.75 L176.91 103.08 L177.14 102.41 L177.38 101.74 L177.61 101.07 L177.84 100.40 L178.07 99.73 L178.31 99.06 L178.54 98.39 L178.78 97.72 L179.02 97.05 L179.26 96.38 L179.49 95.71 L179.74 95.05 L179.98 94.38 L180.22 93.71 L180.47 93.05 L180.71 92.39 L180.96 91.72 L181.21 91.06 L181.46 90.40 L181.72 89.74 L181.97 89.08 L182.23 88.43 L182.49 87.77 L182.76 87.12 L183.02 86.47 L183.29 85.82 L183.56 85.17 L183.83 84.52 L184.11 83.88 L184.39 83.24 L184.67 82.60 L184.96 81.96 L185.24 81.33 L185.54 80.69 L185.83 80.06 L186.13 79.44 L186.43 78.81 L186.74 78.19 L187.05 77.57 L187.36 76.96 L187.68 76.34 L188.00 75.73 L188.32 75.13 L188.65 74.52 L188.99 73.92 L189.32 73.32 L189.67 72.73 L190.01 72.14 L190.36 71.55 L190.72 70.97 L191.08 70.39 L191.45 69.82 L191.82 69.25 L192.19 68.68 L192.58 68.12 L192.96 67.56 L193.35 67.00 L193.75 66.45 L194.15 65.91 L194.56 65.37 L194.98 64.83 L195.40 64.30 L195.82 63.77 L196.26 63.25 L196.69 62.73 L197.14 62.22 L197.59 61.71 L198.05 61.21 L198.51 60.71 L198.98 60.22 L199.45 59.73 L199.94 59.25 L200.43 58.78 L200.92 58.31 L201.43 57.84 L201.94 57.39 L202.46 56.93 L202.98 56.49 L203.52 56.05 L204.06 55.61 L204.60 55.18 L205.16 54.76 L205.72 54.35 L206.29 53.94 L206.87 53.53 L207.45 53.14 L208.04 52.75 L208.63 52.36 L209.23 51.98 L209.84 51.61 L210.45 51.24 L211.07 50.88 L211.69 50.52 L212.32 50.17 L212.95 49.83 L213.59 49.49 L214.23 49.16 L214.88 48.83 L215.53 48.51 L216.18 48.19 L216.84 47.88 L217.50 47.58 L218.16 47.28 L218.82 46.98 L219.49 46.70 L220.16 46.41 L220.84 46.14 L221.51 45.87 L222.19 45.60 L222.87 45.34 L223.55 45.08 L224.23 44.83 L224.91 44.59 L225.60 44.35 L226.28 44.11 L226.97 43.88 L227.65 43.66 L228.34 43.44 L229.02 43.22 L229.70 43.01 L230.39 42.81 L231.07 42.61 L231.75 42.41 L232.43 42.22 L233.11 42.04 L233.79 41.86 L234.47 41.68 L235.15 41.51 L235.83 41.34 L236.51 41.18 L237.19 41.02 L237.86 40.86 L238.54 40.71 L239.22 40.56 L239.89 40.41 L240.57 40.27 L241.25 40.13 L241.92 40.00 L242.60 39.87 L243.27 39.74 L243.95 39.61 L244.62 39.49 L245.30 39.37 L245.97 39.25 L246.65 39.13 L247.33 39.02 L248.00 38.91 L248.68 38.80 L249.35 38.69 L250.03 38.58 L250.71 38.48 L251.39 38.38 L252.06 38.28 L252.74 38.18 L253.42 38.08 L254.10 37.98 L254.78 37.89 L255.46 37.79 L256.14 37.70 L256.82 37.61 L257.51 37.52 L258.19 37.43 L258.87 37.34 L259.56 37.25 L260.24 37.16 L260.93 37.07 L261.61 36.98 L262.30 36.89 L262.99 36.81 L263.68 36.72 L264.36 36.64 L265.05 36.56 L265.74 36.47 L266.43 36.39 L267.12 36.31 L267.82 36.23 L268.51 36.15 L269.20 36.07 L269.89 35.99 L270.59 35.91 L271.28 35.83 L271.97 35.76 L272.67 35.68 L273.36 35.61 L274.06 35.53 L274.75 35.46 L275.45 35.39 L276.15 35.31 L276.84 35.24 L277.54 35.17 L278.24 35.10 L278.94 35.03 L279.63 34.96 L280.33 34.89 L281.03 34.82 L281.73 34.76 L282.43 34.69 L283.13 34.62 L283.83 34.56 L284.53 34.49 L285.23 34.43 L285.93 34.37 L286.63 34.30 L287.33 34.24 L288.03 34.18 L288.73 34.12 L289.43 34.06 L290.14 34.00 L290.84 33.94 L291.54 33.88 L292.24 33.82 L292.94 33.77 L293.64 33.71 L294.35 33.65 L295.05 33.60 L295.75 33.54 L296.45 33.49 L297.15 33.43 L297.86 33.38 L298.56 33.33 L299.26 33.28 L299.96 33.22 L300.66 33.17 L301.36 33.12 L302.07 33.07 L302.77 33.02 L303.47 32.97 L304.17 32.92 L304.87 32.88 L305.57 32.83 L306.28 32.78 L306.98 32.74 L307.68 32.69 L308.38 32.64 L309.08 32.60 L309.78 32.56 L310.48 32.51 L311.18 32.47 L311.88 32.43 L312.58 32.38 L313.28 32.34 L313.98 32.30 L314.67 32.26 L315.37 32.22 L316.07 32.18 L316.77 32.14 L317.47 32.10 L318.16 32.06 L318.86 32.02 L319.56 31.99 L320.25 31.95 L320.95 31.91 L321.65 31.88 L322.34 31.84 L323.04 31.80 L323.74 31.77 L324.43 31.73 L325.13 31.70 L325.82 31.67 L326.52 31.63 L327.21 31.60 L327.91 31.57 L328.60 31.54 L329.30 31.50 L330.00 31.47 L330.69 31.44 L331.39 31.41 L332.08 31.38 L332.78 31.35 L333.47 31.32 L334.17 31.29 L334.86 31.27 L335.56 31.24 L336.25 31.21 L336.95 31.18 L337.64 31.15 L338.34 31.13 L339.03 31.10 L339.73 31.08 L340.42 31.05 L341.12 31.02 L341.81 31.00 L342.51 30.98 L343.21 30.95 L343.90 30.93 L344.60 30.90 L345.29 30.88 L345.99 30.86 L346.69 30.83 L347.38 30.81 L348.08 30.79 L348.78 30.77 L349.47 30.75 L350.17 30.73 L350.87 30.71 L351.57 30.68 L352.27 30.66 L352.96 30.64 L353.66 30.62 L354.36 30.61 L355.06 30.59 L355.76 30.57 L356.46 30.55 L357.16 30.53 L357.86 30.51 L358.56 30.49 L359.26 30.48 L359.96 30.46 L360.67 30.44 L361.37 30.43 L362.07 30.41 L362.77 30.39 L363.48 30.38 L364.18 30.36 L364.89 30.35 L365.59 30.33 L366.29 30.31 L367.00 30.30" fill="none" stroke="#ff00ff" stroke-width="1.25" stroke-dasharray="1.2 1.3"/>
<path d="M65.30 262.20 L66.01 262.25 L66.72 262.29 L67.44 262.33 L68.15 262.35 L68.87 262.36 L69.59 262.36 L70.31 262.35 L71.02 262.34 L71.74 262.31 L72.46 262.27 L73.17 262.22 L73.89 262.16 L74.60 262.09 L75.31 262.01 L76.02 261.92 L76.73 261.81 L77.43 261.70 L78.13 261.57 L78.83 261.44 L79.53 261.29 L80.22 261.13 L80.90 260.96 L81.58 260.78 L82.26 260.58 L82.93 260.38 L83.59 260.16 L84.25 259.93 L84.91 259.69 L85.55 259.44 L86.19 259.17 L86.82 258.89 L87.45 258.60 L88.06 258.30 L88.67 257.98 L89.27 257.66 L89.87 257.31 L90.45 256.96 L91.02 256.60 L91.59 256.22 L92.15 255.83 L92.70 255.43 L93.24 255.02 L93.77 254.60 L94.30 254.16 L94.81 253.72 L95.32 253.27 L95.83 252.81 L96.32 252.34 L96.81 251.86 L97.29 251.37 L97.76 250.88 L98.23 250.37 L98.69 249.86 L99.15 249.34 L99.59 248.81 L100.03 248.28 L100.47 247.74 L100.90 247.20 L101.32 246.65 L101.73 246.09 L102.14 245.53 L102.55 244.96 L102.95 244.39 L103.34 243.82 L103.73 243.24 L104.11 242.65 L104.49 242.07 L104.87 241.48 L105.23 240.88 L105.60 240.29 L105.96 239.69 L106.31 239.09 L106.66 238.49 L107.01 237.88 L107.35 237.28 L107.68 236.67 L108.02 236.06 L108.34 235.44 L108.67 234.83 L108.99 234.21 L109.31 233.59 L109.62 232.96 L109.93 232.34 L110.23 231.71 L110.54 231.08 L110.83 230.45 L111.13 229.82 L111.42 229.19 L111.71 228.55 L111.99 227.91 L112.28 227.27 L112.55 226.63 L112.83 225.99 L113.10 225.35 L113.37 224.70 L113.64 224.05 L113.91 223.41 L114.17 222.76 L114.43 222.11 L114.69 221.45 L114.94 220.80 L115.19 220.14 L115.44 219.49 L115.69 218.83 L115.94 218.17 L116.18 217.51 L116.43 216.85 L116.67 216.19 L116.91 215.53 L117.14 214.87 L117.38 214.21 L117.61 213.54 L117.85 212.88 L118.08 212.21 L118.31 211.54 L118.54 210.88 L118.77 210.21 L118.99 209.54 L119.22 208.87 L119.44 208.21 L119.67 207.54 L119.89 206.87 L120.11 206.20 L120.34 205.53 L120.56 204.86 L120.78 204.19 L121.00 203.52 L121.22 202.85 L121.44 202.18 L121.66 201.51 L121.89 200.84 L122.11 200.17 L122.33 199.50 L122.55 198.83 L122.77 198.16 L122.99 197.49 L123.21 196.82 L123.44 196.15 L123.66 195.48 L123.88 194.81 L124.11 194.15 L124.33 193.48 L124.56 192.82 L124.79 192.15 L125.02 191.49 L125.25 190.82 L125.48 190.16 L125.71 189.50 L125.95 188.84 L126.18 188.18 L126.42 187.52 L126.66 186.86 L126.90 186.20 L127.15 185.55 L127.40 184.90 L127.65 184.25 L127.90 183.60 L128.16 182.95 L128.42 182.30 L128.68 181.66 L128.95 181.01 L129.22 180.37 L129.49 179.74 L129.77 179.10 L130.06 178.47 L130.34 177.83 L130.63 177.21 L130.93 176.58 L131.23 175.96 L131.54 175.33 L131.85 174.72 L132.17 174.10 L132.49 173.49 L132.82 172.88 L133.15 172.27 L133.49 171.67 L133.83 171.07 L134.18 170.47 L134.54 169.88 L134.91 169.29 L135.28 168.70 L135.65 168.12 L136.04 167.54 L136.43 166.97 L136.83 166.39 L137.24 165.83 L137.65 165.26 L138.07 164.70 L138.49 164.14 L138.93 163.59 L139.36 163.04 L139.81 162.49 L140.25 161.95 L140.71 161.40 L141.16 160.86 L141.62 160.33 L142.09 159.79 L142.56 159.26 L143.03 158.73 L143.50 158.20 L143.98 157.67 L144.46 157.14 L144.94 156.61 L145.43 156.09 L145.91 155.57 L146.40 155.04 L146.89 154.52 L147.37 154.00 L147.86 153.48 L148.35 152.96 L148.84 152.44 L149.33 151.92 L149.82 151.40 L150.30 150.88 L150.79 150.35 L151.27 149.83 L151.75 149.31 L152.23 148.79 L152.71 148.26 L153.19 147.74 L153.66 147.21 L154.12 146.68 L154.59 146.15 L155.05 145.62 L155.50 145.08 L155.96 144.55 L156.40 144.01 L156.85 143.47 L157.28 142.93 L157.72 142.38 L158.15 141.84 L158.57 141.29 L158.99 140.74 L159.41 140.19 L159.82 139.63 L160.23 139.08 L160.63 138.52 L161.03 137.96 L161.43 137.40 L161.82 136.83 L162.21 136.27 L162.60 135.70 L162.98 135.13 L163.36 134.56 L163.73 133.99 L164.10 133.42 L164.47 132.84 L164.84 132.26 L165.20 131.68 L165.56 131.10 L165.92 130.52 L166.27 129.94 L166.62 129.35 L166.97 128.76 L167.32 128.17 L167.66 127.58 L168.00 126.99 L168.34 126.40 L168.68 125.80 L169.02 125.21 L169.35 124.61 L169.68 124.01 L170.01 123.41 L170.33 122.81 L170.66 122.20 L170.98 121.60 L171.30 120.99 L171.62 120.39 L171.94 119.78 L172.25 119.17 L172.57 118.56 L172.88 117.95 L173.20 117.34 L173.51 116.72 L173.82 116.11 L174.13 115.49 L174.43 114.87 L174.74 114.25 L175.05 113.63 L175.35 113.01 L175.66 112.39 L175.96 111.77 L176.27 111.15 L176.57 110.52 L176.88 109.90 L177.18 109.27 L177.48 108.64 L177.79 108.02 L178.09 107.39 L178.39 106.76 L178.69 106.13 L179.00 105.50 L179.30 104.86 L179.60 104.23 L179.91 103.60 L180.21 102.96 L180.52 102.33 L180.82 101.69 L181.13 101.06 L181.44 100.42 L181.75 99.79 L182.06 99.15 L182.37 98.51 L182.68 97.87 L182.99 97.23 L183.30 96.59 L183.62 95.95 L183.93 95.32 L184.25 94.68 L184.57 94.04 L184.89 93.40 L185.21 92.76 L185.53 92.12 L185.85 91.48 L186.18 90.85 L186.51 90.21 L186.83 89.57 L187.16 88.94 L187.50 88.31 L187.83 87.67 L188.17 87.04 L188.50 86.41 L188.84 85.78 L189.18 85.15 L189.53 84.52 L189.87 83.90 L190.22 83.27 L190.57 82.65 L190.92 82.03 L191.28 81.41 L191.63 80.79 L191.99 80.18 L192.35 79.57 L192.72 78.95 L193.08 78.35 L193.45 77.74 L193.82 77.13 L194.20 76.53 L194.57 75.93 L194.95 75.34 L195.33 74.74 L195.72 74.15 L196.11 73.56 L196.50 72.98 L196.89 72.40 L197.29 71.82 L197.69 71.24 L198.09 70.67 L198.50 70.10 L198.91 69.53 L199.32 68.97 L199.73 68.41 L200.15 67.86 L200.57 67.31 L201.00 66.76 L201.43 66.22 L201.86 65.68 L202.30 65.14 L202.74 64.61 L203.18 64.08 L203.63 63.56 L204.08 63.04 L204.54 62.53 L205.00 62.02 L205.46 61.52 L205.92 61.02 L206.40 60.52 L206.87 60.04 L207.35 59.55 L207.83 59.07 L208.32 58.60 L208.81 58.13 L209.31 57.67 L209.81 57.21 L210.31 56.76 L210.82 56.31 L211.33 55.87 L211.85 55.43 L212.37 55.00 L212.90 54.58 L213.43 54.16 L213.97 53.75 L214.51 53.35 L215.06 52.95 L215.61 52.56 L216.16 52.17 L216.72 51.79 L217.29 51.42 L217.86 51.05 L218.43 50.69 L219.01 50.33 L219.59 49.98 L220.18 49.64 L220.77 49.30 L221.36 48.97 L221.96 48.64 L222.57 48.32 L223.17 48.00 L223.78 47.69 L224.40 47.39 L225.01 47.09 L225.64 46.79 L226.26 46.50 L226.89 46.22 L227.52 45.94 L228.16 45.66 L228.79 45.39 L229.43 45.13 L230.08 44.87 L230.73 44.61 L231.38 44.36 L232.03 44.11 L232.68 43.87 L233.34 43.63 L234.00 43.40 L234.67 43.17 L235.33 42.95 L236.00 42.72 L236.67 42.51 L237.35 42.29 L238.02 42.09 L238.70 41.88 L239.38 41.68 L240.06 41.48 L240.74 41.29 L241.43 41.10 L242.11 40.91 L242.80 40.73 L243.49 40.55 L244.18 40.37 L244.88 40.20 L245.57 40.03 L246.27 39.86 L246.96 39.70 L247.66 39.53 L248.36 39.38 L249.06 39.22 L249.76 39.07 L250.47 38.92 L251.17 38.77 L251.87 38.63 L252.58 38.49 L253.28 38.35 L253.99 38.21 L254.69 38.07 L255.40 37.94 L256.10 37.81 L256.81 37.68 L257.52 37.56 L258.23 37.43 L258.93 37.31 L259.64 37.19 L260.35 37.07 L261.05 36.96 L261.76 36.84 L262.46 36.73 L263.17 36.62 L263.87 36.51 L264.58 36.40 L265.28 36.29 L265.99 36.19 L266.69 36.08 L267.39 35.98 L268.09 35.88 L268.80 35.78 L269.50 35.68 L270.20 35.58 L270.90 35.49 L271.60 35.39 L272.30 35.30 L273.00 35.21 L273.70 35.12 L274.40 35.03 L275.10 34.94 L275.80 34.85 L276.49 34.77 L277.19 34.68 L277.89 34.60 L278.59 34.52 L279.28 34.44 L279.98 34.36 L280.68 34.28 L281.37 34.21 L282.07 34.13 L282.76 34.06 L283.46 33.98 L284.15 33.91 L284.85 33.84 L285.54 33.77 L286.24 33.70 L286.93 33.64 L287.62 33.57 L288.32 33.50 L289.01 33.44 L289.70 33.38 L290.40 33.31 L291.09 33.25 L291.78 33.19 L292.47 33.13 L293.17 33.08 L293.86 33.02 L294.55 32.96 L295.24 32.91 L295.93 32.85 L296.63 32.80 L297.32 32.75 L298.01 32.69 L298.70 32.64 L299.39 32.59 L300.08 32.54 L300.77 32.50 L301.46 32.45 L302.15 32.40 L302.85 32.36 L303.54 32.31 L304.23 32.27 L304.92 32.22 L305.61 32.18 L306.30 32.14 L306.99 32.10 L307.68 32.06 L308.37 32.02 L309.06 31.98 L309.75 31.94 L310.44 31.90 L311.13 31.86 L311.82 31.83 L312.51 31.79 L313.20 31.75 L313.89 31.72 L314.58 31.68 L315.27 31.65 L315.96 31.62 L316.65 31.58 L317.35 31.55 L318.04 31.52 L318.73 31.49 L319.42 31.46 L320.11 31.43 L320.80 31.40 L321.49 31.37 L322.18 31.34 L322.88 31.31 L323.57 31.28 L324.26 31.26 L324.95 31.23 L325.64 31.20 L326.34 31.18 L327.03 31.15 L327.72 31.12 L328.41 31.10 L329.11 31.07 L329.80 31.05 L330.49 31.02 L331.19 31.00 L331.88 30.97 L332.57 30.95 L333.27 30.93 L333.96 30.90 L334.66 30.88 L335.35 30.86 L336.05 30.83 L336.74 30.81 L337.44 30.79 L338.14 30.77 L338.83 30.74 L339.53 30.72 L340.23 30.70 L340.92 30.68 L341.62 30.65 L342.32 30.63 L343.02 30.61 L343.72 30.59 L344.42 30.57 L345.12 30.54 L345.81 30.52 L346.51 30.50 L347.22 30.48 L347.92 30.46 L348.62 30.43 L349.32 30.41 L350.02 30.39 L350.72 30.37 L351.43 30.35 L352.13 30.32 L352.83 30.30 L353.54 30.28 L354.24 30.25 L354.95 30.23 L355.65 30.21 L356.36 30.18 L357.06 30.16 L357.77 30.14 L358.48 30.11 L359.18 30.09 L359.89 30.06 L360.60 30.04 L361.31 30.01 L362.02 29.99 L362.73 29.96 L363.44 29.94 L364.15 29.91 L364.86 29.88 L365.57 29.85 L366.29 29.83 L367.00 29.80" fill="none" stroke="#00ffff" stroke-width="1.25" stroke-dasharray="5.6 2.2 1.2 2"/>
<path d="M65.30 256.80 L66.07 256.77 L66.83 256.74 L67.58 256.69 L68.33 256.62 L69.07 256.55 L69.81 256.46 L70.54 256.35 L71.26 256.24 L71.98 256.11 L72.68 255.97 L73.38 255.81 L74.07 255.64 L74.76 255.46 L75.44 255.26 L76.10 255.06 L76.76 254.84 L77.41 254.60 L78.06 254.35 L78.69 254.09 L79.32 253.82 L79.93 253.53 L80.54 253.23 L81.13 252.92 L81.72 252.60 L82.30 252.26 L82.86 251.91 L83.42 251.54 L83.97 251.17 L84.50 250.78 L85.03 250.37 L85.54 249.96 L86.04 249.53 L86.54 249.09 L87.02 248.64 L87.49 248.17 L87.95 247.69 L88.39 247.21 L88.83 246.71 L89.26 246.20 L89.68 245.68 L90.10 245.15 L90.50 244.61 L90.89 244.06 L91.28 243.50 L91.65 242.93 L92.02 242.36 L92.38 241.78 L92.73 241.19 L93.08 240.59 L93.42 239.99 L93.75 239.38 L94.08 238.76 L94.39 238.14 L94.71 237.51 L95.01 236.88 L95.32 236.24 L95.61 235.60 L95.90 234.95 L96.19 234.30 L96.47 233.65 L96.75 233.00 L97.02 232.34 L97.29 231.68 L97.55 231.01 L97.81 230.35 L98.07 229.68 L98.33 229.02 L98.58 228.35 L98.83 227.68 L99.08 227.02 L99.32 226.35 L99.57 225.68 L99.81 225.02 L100.05 224.35 L100.29 223.69 L100.52 223.02 L100.76 222.36 L100.99 221.69 L101.22 221.03 L101.45 220.36 L101.68 219.70 L101.90 219.04 L102.13 218.37 L102.35 217.71 L102.57 217.05 L102.79 216.38 L103.01 215.72 L103.23 215.06 L103.45 214.40 L103.66 213.73 L103.88 213.07 L104.09 212.41 L104.30 211.75 L104.51 211.09 L104.72 210.42 L104.93 209.76 L105.14 209.10 L105.35 208.44 L105.55 207.78 L105.76 207.12 L105.97 206.46 L106.17 205.80 L106.38 205.13 L106.58 204.47 L106.78 203.81 L106.99 203.15 L107.19 202.49 L107.39 201.83 L107.60 201.17 L107.80 200.51 L108.00 199.85 L108.20 199.18 L108.41 198.52 L108.61 197.86 L108.81 197.20 L109.01 196.54 L109.22 195.88 L109.42 195.22 L109.62 194.55 L109.83 193.89 L110.03 193.23 L110.23 192.57 L110.44 191.91 L110.64 191.24 L110.85 190.58 L111.06 189.92 L111.26 189.26 L111.47 188.59 L111.68 187.93 L111.89 187.26 L112.10 186.60 L112.31 185.94 L112.52 185.27 L112.74 184.61 L112.95 183.94 L113.17 183.28 L113.38 182.61 L113.60 181.95 L113.82 181.28 L114.04 180.61 L114.26 179.95 L114.49 179.28 L114.71 178.61 L114.94 177.95 L115.16 177.28 L115.39 176.61 L115.63 175.94 L115.86 175.27 L116.09 174.60 L116.33 173.93 L116.57 173.26 L116.81 172.59 L117.05 171.92 L117.29 171.25 L117.54 170.58 L117.79 169.91 L118.04 169.24 L118.29 168.57 L118.55 167.90 L118.81 167.24 L119.07 166.57 L119.33 165.90 L119.60 165.24 L119.87 164.57 L120.14 163.91 L120.42 163.25 L120.69 162.59 L120.97 161.93 L121.26 161.28 L121.55 160.62 L121.84 159.97 L122.13 159.32 L122.43 158.67 L122.73 158.03 L123.04 157.38 L123.34 156.74 L123.66 156.11 L123.97 155.47 L124.29 154.84 L124.62 154.21 L124.95 153.58 L125.28 152.96 L125.61 152.34 L125.95 151.73 L126.30 151.11 L126.65 150.51 L127.00 149.90 L127.36 149.30 L127.72 148.71 L128.09 148.11 L128.46 147.53 L128.84 146.94 L129.22 146.36 L129.61 145.79 L130.00 145.22 L130.40 144.66 L130.80 144.10 L131.21 143.54 L131.62 143.00 L132.04 142.45 L132.47 141.91 L132.90 141.38 L133.33 140.86 L133.77 140.34 L134.22 139.82 L134.67 139.31 L135.13 138.81 L135.60 138.32 L136.07 137.83 L136.54 137.34 L137.03 136.87 L137.51 136.40 L138.01 135.94 L138.51 135.48 L139.02 135.03 L139.54 134.59 L140.06 134.16 L140.59 133.73 L141.12 133.31 L141.66 132.90 L142.21 132.50 L142.77 132.11 L143.33 131.72 L143.90 131.34 L144.48 130.97 L145.06 130.61 L145.66 130.26 L146.26 129.91 L146.86 129.57 L147.47 129.24 L148.09 128.92 L148.71 128.61 L149.34 128.29 L149.97 127.99 L150.61 127.69 L151.25 127.39 L151.89 127.10 L152.54 126.81 L153.19 126.52 L153.84 126.24 L154.49 125.96 L155.14 125.67 L155.79 125.39 L156.45 125.11 L157.10 124.83 L157.75 124.55 L158.40 124.27 L159.05 123.98 L159.69 123.70 L160.34 123.41 L160.98 123.11 L161.61 122.82 L162.24 122.52 L162.87 122.21 L163.50 121.90 L164.11 121.59 L164.73 121.26 L165.33 120.93 L165.93 120.60 L166.52 120.25 L167.11 119.90 L167.69 119.54 L168.25 119.17 L168.82 118.79 L169.37 118.40 L169.92 118.01 L170.46 117.61 L170.99 117.20 L171.52 116.78 L172.03 116.35 L172.55 115.92 L173.05 115.48 L173.55 115.04 L174.05 114.58 L174.54 114.12 L175.02 113.65 L175.50 113.18 L175.97 112.70 L176.43 112.22 L176.90 111.73 L177.35 111.23 L177.80 110.72 L178.25 110.22 L178.69 109.70 L179.13 109.18 L179.56 108.66 L179.99 108.13 L180.42 107.60 L180.84 107.06 L181.26 106.51 L181.67 105.97 L182.09 105.41 L182.49 104.86 L182.90 104.30 L183.30 103.74 L183.70 103.17 L184.10 102.60 L184.49 102.03 L184.89 101.45 L185.28 100.87 L185.67 100.29 L186.05 99.70 L186.44 99.11 L186.82 98.52 L187.20 97.93 L187.58 97.33 L187.96 96.74 L188.34 96.14 L188.72 95.54 L189.09 94.93 L189.46 94.33 L189.84 93.72 L190.21 93.12 L190.58 92.51 L190.95 91.90 L191.32 91.29 L191.69 90.68 L192.06 90.06 L192.43 89.45 L192.80 88.84 L193.17 88.22 L193.54 87.61 L193.91 86.99 L194.28 86.38 L194.65 85.76 L195.02 85.15 L195.39 84.53 L195.77 83.92 L196.14 83.31 L196.51 82.70 L196.89 82.08 L197.26 81.47 L197.64 80.86 L198.01 80.25 L198.39 79.65 L198.77 79.04 L199.15 78.44 L199.54 77.83 L199.92 77.23 L200.31 76.63 L200.70 76.04 L201.09 75.44 L201.48 74.85 L201.87 74.26 L202.27 73.67 L202.67 73.09 L203.07 72.51 L203.47 71.93 L203.88 71.35 L204.29 70.78 L204.70 70.21 L205.12 69.64 L205.54 69.08 L205.96 68.52 L206.38 67.96 L206.81 67.41 L207.24 66.86 L207.67 66.32 L208.11 65.78 L208.55 65.24 L209.00 64.71 L209.45 64.18 L209.90 63.66 L210.36 63.15 L210.82 62.63 L211.28 62.13 L211.75 61.63 L212.23 61.13 L212.71 60.64 L213.19 60.15 L213.68 59.67 L214.17 59.20 L214.67 58.73 L215.17 58.27 L215.68 57.81 L216.19 57.36 L216.71 56.92 L217.23 56.48 L217.76 56.05 L218.29 55.63 L218.83 55.21 L219.37 54.79 L219.91 54.38 L220.46 53.98 L221.02 53.58 L221.58 53.19 L222.14 52.81 L222.71 52.42 L223.28 52.05 L223.85 51.68 L224.43 51.31 L225.02 50.96 L225.60 50.60 L226.19 50.25 L226.79 49.91 L227.39 49.57 L227.99 49.24 L228.59 48.91 L229.20 48.58 L229.81 48.27 L230.43 47.95 L231.05 47.64 L231.67 47.34 L232.29 47.04 L232.92 46.74 L233.55 46.45 L234.19 46.17 L234.82 45.88 L235.46 45.61 L236.10 45.33 L236.75 45.07 L237.39 44.80 L238.04 44.54 L238.70 44.28 L239.35 44.03 L240.01 43.79 L240.67 43.54 L241.33 43.30 L241.99 43.07 L242.65 42.83 L243.32 42.61 L243.99 42.38 L244.66 42.16 L245.33 41.94 L246.01 41.73 L246.68 41.52 L247.36 41.32 L248.04 41.11 L248.72 40.91 L249.40 40.72 L250.08 40.52 L250.77 40.34 L251.45 40.15 L252.14 39.97 L252.82 39.79 L253.51 39.61 L254.20 39.44 L254.89 39.27 L255.58 39.10 L256.27 38.93 L256.96 38.77 L257.66 38.61 L258.35 38.45 L259.04 38.30 L259.73 38.15 L260.43 38.00 L261.12 37.85 L261.82 37.71 L262.51 37.57 L263.20 37.43 L263.90 37.29 L264.59 37.16 L265.29 37.03 L265.98 36.90 L266.67 36.77 L267.37 36.64 L268.06 36.52 L268.75 36.40 L269.45 36.28 L270.14 36.17 L270.84 36.05 L271.53 35.94 L272.22 35.83 L272.92 35.72 L273.61 35.61 L274.31 35.51 L275.00 35.41 L275.69 35.31 L276.39 35.21 L277.08 35.11 L277.77 35.02 L278.47 34.92 L279.16 34.83 L279.86 34.75 L280.55 34.66 L281.24 34.57 L281.94 34.49 L282.63 34.41 L283.32 34.33 L284.02 34.25 L284.71 34.17 L285.41 34.10 L286.10 34.02 L286.79 33.95 L287.49 33.88 L288.18 33.81 L288.88 33.74 L289.57 33.68 L290.26 33.61 L290.96 33.55 L291.65 33.49 L292.35 33.43 L293.04 33.37 L293.73 33.31 L294.43 33.25 L295.12 33.20 L295.82 33.15 L296.51 33.09 L297.20 33.04 L297.90 32.99 L298.59 32.94 L299.29 32.90 L299.98 32.85 L300.68 32.81 L301.37 32.76 L302.07 32.72 L302.76 32.68 L303.45 32.64 L304.15 32.60 L304.84 32.56 L305.54 32.52 L306.23 32.48 L306.93 32.45 L307.62 32.41 L308.32 32.38 L309.01 32.34 L309.71 32.31 L310.40 32.28 L311.10 32.25 L311.79 32.22 L312.49 32.19 L313.18 32.16 L313.88 32.13 L314.58 32.10 L315.27 32.08 L315.97 32.05 L316.66 32.03 L317.36 32.00 L318.05 31.98 L318.75 31.95 L319.45 31.93 L320.14 31.91 L320.84 31.88 L321.53 31.86 L322.23 31.84 L322.93 31.82 L323.62 31.80 L324.32 31.78 L325.02 31.76 L325.71 31.74 L326.41 31.72 L327.11 31.70 L327.80 31.68 L328.50 31.66 L329.20 31.65 L329.89 31.63 L330.59 31.61 L331.29 31.59 L331.99 31.57 L332.68 31.55 L333.38 31.54 L334.08 31.52 L334.78 31.50 L335.48 31.48 L336.17 31.47 L336.87 31.45 L337.57 31.43 L338.27 31.41 L338.97 31.39 L339.66 31.38 L340.36 31.36 L341.06 31.34 L341.76 31.32 L342.46 31.30 L343.16 31.28 L343.86 31.26 L344.56 31.24 L345.26 31.22 L345.96 31.20 L346.66 31.18 L347.36 31.16 L348.06 31.14 L348.76 31.11 L349.46 31.09 L350.16 31.07 L350.86 31.04 L351.56 31.02 L352.26 30.99 L352.96 30.97 L353.66 30.94 L354.36 30.91 L355.06 30.89 L355.76 30.86 L356.46 30.83 L357.16 30.80 L357.87 30.77 L358.57 30.74 L359.27 30.71 L359.97 30.67 L360.67 30.64 L361.38 30.61 L362.08 30.57 L362.78 30.54 L363.48 30.50 L364.19 30.46 L364.89 30.42 L365.59 30.38 L366.30 30.34 L367.00 30.30" fill="none" stroke="#000000" stroke-width="1.25" stroke-dasharray="2.7 1.6 2.7 3.9"/>
<path d="M65.30 259.00 L65.85 258.55 L66.38 258.10 L66.91 257.64 L67.42 257.17 L67.93 256.69 L68.43 256.21 L68.92 255.73 L69.40 255.23 L69.87 254.73 L70.33 254.22 L70.78 253.71 L71.23 253.19 L71.66 252.67 L72.09 252.14 L72.51 251.60 L72.93 251.06 L73.33 250.51 L73.73 249.96 L74.12 249.41 L74.50 248.84 L74.87 248.28 L75.24 247.70 L75.60 247.13 L75.95 246.54 L76.30 245.96 L76.64 245.37 L76.97 244.77 L77.30 244.17 L77.62 243.57 L77.93 242.96 L78.24 242.35 L78.54 241.73 L78.84 241.11 L79.13 240.49 L79.41 239.86 L79.69 239.23 L79.97 238.59 L80.23 237.95 L80.50 237.31 L80.76 236.67 L81.01 236.02 L81.26 235.37 L81.50 234.72 L81.74 234.06 L81.98 233.41 L82.21 232.74 L82.44 232.08 L82.66 231.42 L82.88 230.75 L83.09 230.08 L83.31 229.40 L83.52 228.73 L83.72 228.05 L83.92 227.38 L84.12 226.70 L84.32 226.02 L84.51 225.33 L84.70 224.65 L84.89 223.97 L85.07 223.28 L85.25 222.59 L85.43 221.90 L85.61 221.22 L85.79 220.53 L85.96 219.84 L86.13 219.14 L86.31 218.45 L86.47 217.76 L86.64 217.07 L86.81 216.38 L86.97 215.69 L87.14 214.99 L87.30 214.30 L87.47 213.61 L87.63 212.92 L87.79 212.23 L87.95 211.54 L88.11 210.85 L88.27 210.16 L88.43 209.47 L88.59 208.78 L88.75 208.09 L88.91 207.40 L89.07 206.72 L89.23 206.03 L89.39 205.34 L89.54 204.66 L89.70 203.97 L89.86 203.29 L90.02 202.60 L90.18 201.92 L90.33 201.24 L90.49 200.55 L90.65 199.87 L90.80 199.19 L90.96 198.51 L91.12 197.83 L91.27 197.14 L91.43 196.46 L91.59 195.78 L91.75 195.10 L91.90 194.42 L92.06 193.75 L92.22 193.07 L92.37 192.39 L92.53 191.71 L92.69 191.03 L92.85 190.35 L93.01 189.68 L93.16 189.00 L93.32 188.32 L93.48 187.65 L93.64 186.97 L93.80 186.30 L93.96 185.62 L94.12 184.95 L94.28 184.27 L94.44 183.60 L94.60 182.92 L94.76 182.25 L94.92 181.57 L95.09 180.90 L95.25 180.23 L95.41 179.56 L95.58 178.88 L95.74 178.21 L95.91 177.54 L96.07 176.87 L96.24 176.19 L96.40 175.52 L96.57 174.85 L96.74 174.18 L96.91 173.51 L97.08 172.84 L97.25 172.17 L97.42 171.50 L97.59 170.83 L97.76 170.16 L97.94 169.49 L98.11 168.82 L98.28 168.15 L98.46 167.48 L98.64 166.81 L98.81 166.14 L98.99 165.47 L99.17 164.80 L99.35 164.13 L99.53 163.46 L99.71 162.79 L99.90 162.12 L100.08 161.45 L100.27 160.79 L100.45 160.12 L100.64 159.45 L100.83 158.78 L101.02 158.11 L101.21 157.44 L101.40 156.77 L101.59 156.11 L101.79 155.44 L101.98 154.77 L102.18 154.10 L102.38 153.44 L102.58 152.77 L102.79 152.10 L102.99 151.43 L103.20 150.77 L103.41 150.10 L103.62 149.43 L103.83 148.76 L104.04 148.10 L104.26 147.43 L104.48 146.77 L104.70 146.10 L104.92 145.43 L105.15 144.77 L105.38 144.10 L105.61 143.44 L105.84 142.77 L106.08 142.11 L106.32 141.44 L106.56 140.78 L106.81 140.11 L107.05 139.45 L107.30 138.78 L107.56 138.12 L107.81 137.46 L108.07 136.79 L108.34 136.13 L108.60 135.47 L108.87 134.80 L109.15 134.14 L109.42 133.48 L109.70 132.82 L109.99 132.16 L110.28 131.50 L110.57 130.83 L110.86 130.17 L111.16 129.51 L111.46 128.85 L111.77 128.19 L112.08 127.53 L112.40 126.88 L112.72 126.22 L113.04 125.56 L113.37 124.91 L113.70 124.26 L114.04 123.61 L114.38 122.97 L114.73 122.33 L115.08 121.69 L115.44 121.06 L115.80 120.43 L116.17 119.81 L116.54 119.19 L116.92 118.58 L117.30 117.98 L117.69 117.38 L118.09 116.79 L118.49 116.21 L118.90 115.63 L119.31 115.06 L119.73 114.50 L120.16 113.95 L120.59 113.41 L121.03 112.88 L121.48 112.35 L121.94 111.84 L122.40 111.34 L122.86 110.85 L123.34 110.37 L123.82 109.90 L124.31 109.45 L124.81 109.01 L125.31 108.58 L125.82 108.16 L126.34 107.76 L126.87 107.37 L127.41 107.00 L127.95 106.64 L128.50 106.29 L129.06 105.96 L129.63 105.64 L130.20 105.34 L130.78 105.05 L131.37 104.78 L131.97 104.52 L132.57 104.27 L133.18 104.03 L133.80 103.80 L134.42 103.59 L135.05 103.39 L135.69 103.19 L136.33 103.01 L136.98 102.84 L137.63 102.68 L138.29 102.53 L138.95 102.38 L139.62 102.25 L140.29 102.12 L140.97 102.01 L141.65 101.90 L142.33 101.80 L143.02 101.70 L143.71 101.61 L144.41 101.53 L145.11 101.46 L145.82 101.39 L146.52 101.33 L147.23 101.27 L147.95 101.22 L148.66 101.17 L149.38 101.12 L150.10 101.08 L150.82 101.05 L151.55 101.01 L152.28 100.98 L153.00 100.95 L153.73 100.93 L154.46 100.90 L155.20 100.88 L155.93 100.86 L156.66 100.84 L157.40 100.82 L158.13 100.80 L158.87 100.78 L159.60 100.76 L160.33 100.74 L161.07 100.72 L161.80 100.70 L162.54 100.67 L163.27 100.65 L164.00 100.62 L164.73 100.59 L165.46 100.55 L166.19 100.51 L166.91 100.47 L167.63 100.42 L168.36 100.37 L169.07 100.32 L169.79 100.26 L170.51 100.19 L171.22 100.12 L171.93 100.04 L172.63 99.96 L173.33 99.87 L174.03 99.77 L174.73 99.67 L175.42 99.55 L176.11 99.43 L176.79 99.30 L177.47 99.17 L178.14 99.02 L178.81 98.86 L179.48 98.70 L180.13 98.52 L180.79 98.34 L181.44 98.14 L182.08 97.94 L182.72 97.72 L183.36 97.50 L183.99 97.26 L184.62 97.02 L185.24 96.77 L185.85 96.51 L186.47 96.24 L187.08 95.96 L187.68 95.68 L188.28 95.38 L188.88 95.08 L189.47 94.77 L190.06 94.46 L190.64 94.13 L191.22 93.80 L191.80 93.46 L192.37 93.11 L192.94 92.76 L193.51 92.40 L194.07 92.03 L194.63 91.65 L195.18 91.27 L195.73 90.88 L196.28 90.49 L196.83 90.09 L197.37 89.69 L197.91 89.28 L198.45 88.86 L198.98 88.44 L199.52 88.01 L200.05 87.58 L200.57 87.14 L201.10 86.69 L201.62 86.25 L202.14 85.80 L202.65 85.34 L203.17 84.88 L203.68 84.41 L204.19 83.94 L204.70 83.47 L205.20 82.99 L205.71 82.51 L206.21 82.03 L206.71 81.54 L207.21 81.05 L207.70 80.56 L208.20 80.06 L208.69 79.56 L209.19 79.06 L209.68 78.56 L210.17 78.05 L210.65 77.54 L211.14 77.03 L211.63 76.52 L212.11 76.01 L212.60 75.49 L213.08 74.98 L213.56 74.46 L214.05 73.94 L214.53 73.42 L215.01 72.90 L215.49 72.37 L215.97 71.85 L216.45 71.33 L216.93 70.80 L217.41 70.28 L217.88 69.76 L218.36 69.23 L218.84 68.71 L219.32 68.19 L219.80 67.67 L220.28 67.15 L220.76 66.63 L221.23 66.11 L221.71 65.59 L222.19 65.07 L222.68 64.56 L223.16 64.04 L223.64 63.53 L224.12 63.02 L224.61 62.51 L225.09 62.01 L225.58 61.50 L226.07 61.00 L226.56 60.50 L227.06 60.01 L227.55 59.51 L228.05 59.02 L228.55 58.54 L229.05 58.06 L229.55 57.58 L230.06 57.10 L230.57 56.63 L231.08 56.16 L231.60 55.70 L232.12 55.24 L232.64 54.79 L233.17 54.34 L233.70 53.89 L234.23 53.45 L234.77 53.01 L235.31 52.59 L235.86 52.16 L236.41 51.74 L236.97 51.33 L237.53 50.92 L238.09 50.52 L238.66 50.12 L239.23 49.73 L239.81 49.35 L240.40 48.97 L240.98 48.60 L241.57 48.23 L242.17 47.87 L242.77 47.52 L243.37 47.17 L243.98 46.83 L244.58 46.49 L245.20 46.16 L245.81 45.83 L246.43 45.51 L247.06 45.20 L247.68 44.89 L248.31 44.58 L248.94 44.28 L249.57 43.99 L250.21 43.70 L250.85 43.42 L251.49 43.15 L252.13 42.88 L252.77 42.61 L253.42 42.35 L254.07 42.09 L254.72 41.84 L255.37 41.60 L256.02 41.36 L256.67 41.13 L257.33 40.90 L257.99 40.67 L258.64 40.45 L259.30 40.24 L259.97 40.03 L260.63 39.82 L261.29 39.62 L261.96 39.43 L262.63 39.23 L263.29 39.05 L263.96 38.86 L264.63 38.69 L265.31 38.51 L265.98 38.34 L266.65 38.18 L267.33 38.01 L268.01 37.86 L268.68 37.70 L269.36 37.55 L270.04 37.41 L270.72 37.26 L271.41 37.12 L272.09 36.99 L272.77 36.86 L273.46 36.73 L274.15 36.60 L274.83 36.48 L275.52 36.36 L276.21 36.25 L276.90 36.13 L277.59 36.03 L278.28 35.92 L278.97 35.82 L279.66 35.72 L280.36 35.62 L281.05 35.52 L281.75 35.43 L282.44 35.34 L283.14 35.25 L283.83 35.17 L284.53 35.09 L285.23 35.01 L285.92 34.93 L286.62 34.85 L287.32 34.78 L288.02 34.71 L288.72 34.64 L289.42 34.57 L290.12 34.51 L290.82 34.44 L291.52 34.38 L292.23 34.32 L292.93 34.26 L293.63 34.21 L294.33 34.15 L295.03 34.10 L295.74 34.04 L296.44 33.99 L297.14 33.94 L297.85 33.89 L298.55 33.84 L299.25 33.80 L299.95 33.75 L300.66 33.71 L301.36 33.66 L302.06 33.62 L302.77 33.57 L303.47 33.53 L304.17 33.49 L304.87 33.45 L305.58 33.41 L306.28 33.37 L306.98 33.33 L307.68 33.29 L308.38 33.25 L309.09 33.21 L309.79 33.17 L310.49 33.13 L311.19 33.09 L311.89 33.05 L312.59 33.01 L313.29 32.97 L313.98 32.93 L314.68 32.89 L315.38 32.85 L316.08 32.81 L316.78 32.77 L317.47 32.73 L318.17 32.69 L318.87 32.65 L319.57 32.61 L320.26 32.57 L320.96 32.53 L321.65 32.49 L322.35 32.46 L323.05 32.42 L323.74 32.38 L324.44 32.34 L325.13 32.30 L325.83 32.26 L326.52 32.22 L327.22 32.18 L327.91 32.14 L328.61 32.10 L329.30 32.07 L330.00 32.03 L330.69 31.99 L331.39 31.95 L332.08 31.91 L332.78 31.88 L333.47 31.84 L334.17 31.80 L334.86 31.76 L335.55 31.73 L336.25 31.69 L336.94 31.66 L337.64 31.62 L338.33 31.58 L339.03 31.55 L339.72 31.51 L340.42 31.48 L341.11 31.44 L341.81 31.41 L342.50 31.37 L343.20 31.34 L343.89 31.30 L344.59 31.27 L345.29 31.24 L345.98 31.21 L346.68 31.17 L347.38 31.14 L348.07 31.11 L348.77 31.08 L349.47 31.05 L350.16 31.01 L350.86 30.98 L351.56 30.95 L352.26 30.92 L352.96 30.90 L353.65 30.87 L354.35 30.84 L355.05 30.81 L355.75 30.78 L356.45 30.75 L357.15 30.73 L357.85 30.70 L358.56 30.68 L359.26 30.65 L359.96 30.62 L360.66 30.60 L361.36 30.58 L362.07 30.55 L362.77 30.53 L363.47 30.51 L364.18 30.48 L364.88 30.46 L365.59 30.44 L366.29 30.42 L367.00 30.40" fill="none" stroke="#ff4500" stroke-width="1.25" stroke-dasharray="2.4 2 2.4 2 2.4 4.1"/>
<path d="M56.10 234.20 L56.35 234.41 L56.60 234.61 L56.85 234.80 L57.10 234.96 L57.35 235.09 L57.60 235.20 L57.85 235.27 L58.10 235.31 L58.35 235.34 L58.60 235.36 L58.85 235.38 L59.10 235.39 L59.35 235.40 L59.60 235.34 L59.85 235.13 L60.10 234.78 L60.35 234.32 L60.60 233.78 L60.85 233.18 L61.10 232.55 L61.35 231.92 L61.60 231.30 L61.85 230.67 L62.10 229.98 L62.35 229.24 L62.60 228.44 L62.85 227.59 L63.10 226.70 L63.35 225.77 L63.60 224.80 L63.80 224.00 L63.96 223.30 L64.11 222.60 L64.26 221.90 L64.42 221.20 L64.57 220.50 L64.72 219.81 L64.87 219.11 L65.02 218.41 L65.17 217.71 L65.31 217.02 L65.46 216.32 L65.60 215.63 L65.75 214.93 L65.89 214.24 L66.03 213.54 L66.17 212.85 L66.31 212.16 L66.45 211.46 L66.59 210.77 L66.73 210.08 L66.86 209.39 L67.00 208.69 L67.14 208.00 L67.27 207.31 L67.40 206.62 L67.54 205.93 L67.67 205.24 L67.80 204.55 L67.93 203.86 L68.06 203.18 L68.19 202.49 L68.32 201.80 L68.45 201.11 L68.57 200.42 L68.70 199.74 L68.83 199.05 L68.95 198.36 L69.08 197.68 L69.20 196.99 L69.33 196.30 L69.45 195.62 L69.57 194.93 L69.69 194.25 L69.82 193.56 L69.94 192.88 L70.06 192.20 L70.18 191.51 L70.30 190.83 L70.42 190.14 L70.54 189.46 L70.66 188.78 L70.78 188.09 L70.90 187.41 L71.02 186.73 L71.13 186.05 L71.25 185.36 L71.37 184.68 L71.49 184.00 L71.61 183.32 L71.72 182.64 L71.84 181.95 L71.96 181.27 L72.07 180.59 L72.19 179.91 L72.31 179.23 L72.42 178.55 L72.54 177.87 L72.65 177.19 L72.77 176.51 L72.89 175.82 L73.00 175.14 L73.12 174.46 L73.23 173.78 L73.35 173.10 L73.47 172.42 L73.58 171.74 L73.70 171.06 L73.82 170.38 L73.93 169.70 L74.05 169.02 L74.17 168.34 L74.28 167.66 L74.40 166.98 L74.52 166.30 L74.63 165.62 L74.75 164.94 L74.87 164.26 L74.99 163.58 L75.11 162.90 L75.23 162.22 L75.35 161.54 L75.47 160.86 L75.59 160.18 L75.71 159.50 L75.83 158.82 L75.95 158.14 L76.07 157.46 L76.19 156.78 L76.31 156.10 L76.44 155.42 L76.56 154.74 L76.68 154.06 L76.81 153.38 L76.93 152.69 L77.06 152.01 L77.18 151.33 L77.31 150.65 L77.44 149.97 L77.56 149.29 L77.69 148.60 L77.82 147.92 L77.95 147.24 L78.08 146.56 L78.21 145.87 L78.34 145.19 L78.48 144.51 L78.61 143.83 L78.74 143.14 L78.88 142.46 L79.01 141.77 L79.15 141.09 L79.29 140.41 L79.42 139.72 L79.56 139.04 L79.70 138.35 L79.84 137.67 L79.98 136.98 L80.13 136.30 L80.27 135.61 L80.41 134.92 L80.56 134.24 L80.70 133.55 L80.85 132.86 L81.00 132.18 L81.15 131.49 L81.30 130.80 L81.45 130.11 L81.60 129.42 L81.76 128.74 L81.91 128.05 L82.07 127.36 L82.22 126.67 L82.38 125.98 L82.54 125.29 L82.70 124.59 L82.86 123.90 L83.03 123.21 L83.19 122.52 L83.35 121.83 L83.52 121.13 L83.69 120.44 L83.86 119.75 L84.03 119.05 L84.20 118.36 L84.37 117.66 L84.55 116.97 L84.72 116.27 L84.90 115.58 L85.08 114.88 L85.26 114.18 L85.44 113.49 L85.63 112.79 L85.81 112.09 L86.00 111.39 L86.18 110.69 L86.37 109.99 L86.56 109.29 L86.76 108.59 L86.95 107.89 L87.15 107.19 L87.35 106.49 L87.55 105.80 L87.75 105.10 L87.96 104.40 L88.17 103.71 L88.38 103.01 L88.59 102.32 L88.81 101.63 L89.03 100.94 L89.25 100.25 L89.47 99.56 L89.70 98.88 L89.93 98.19 L90.17 97.51 L90.41 96.83 L90.65 96.16 L90.90 95.49 L91.15 94.82 L91.40 94.15 L91.66 93.49 L91.92 92.82 L92.18 92.17 L92.45 91.51 L92.73 90.86 L93.01 90.22 L93.29 89.58 L93.58 88.94 L93.87 88.30 L94.17 87.68 L94.47 87.05 L94.78 86.43 L95.09 85.82 L95.41 85.21 L95.73 84.60 L96.06 84.00 L96.39 83.41 L96.73 82.82 L97.08 82.23 L97.43 81.66 L97.78 81.09 L98.15 80.52 L98.51 79.96 L98.89 79.41 L99.27 78.86 L99.66 78.32 L100.05 77.79 L100.45 77.27 L100.86 76.75 L101.27 76.24 L101.69 75.73 L102.12 75.24 L102.55 74.75 L102.99 74.27 L103.44 73.79 L103.90 73.33 L104.36 72.87 L104.83 72.43 L105.31 71.99 L105.80 71.55 L106.29 71.13 L106.79 70.72 L107.30 70.32 L107.82 69.92 L108.35 69.54 L108.88 69.16 L109.42 68.79 L109.98 68.44 L110.54 68.09 L111.10 67.76 L111.68 67.43 L112.27 67.12 L112.86 66.81 L113.46 66.51 L114.07 66.23 L114.69 65.95 L115.32 65.69 L115.95 65.43 L116.59 65.18 L117.24 64.95 L117.89 64.72 L118.55 64.50 L119.21 64.29 L119.88 64.09 L120.55 63.89 L121.23 63.71 L121.92 63.53 L122.61 63.37 L123.30 63.21 L124.00 63.05 L124.70 62.91 L125.40 62.77 L126.10 62.64 L126.81 62.52 L127.53 62.41 L128.24 62.30 L128.95 62.20 L129.67 62.11 L130.39 62.02 L131.11 61.94 L131.83 61.87 L132.55 61.80 L133.27 61.74 L133.99 61.69 L134.71 61.64 L135.43 61.60 L136.15 61.56 L136.87 61.53 L137.59 61.51 L138.30 61.49 L139.02 61.47 L139.73 61.47 L140.44 61.46 L141.15 61.46 L141.86 61.47 L142.57 61.48 L143.27 61.50 L143.98 61.52 L144.68 61.54 L145.38 61.57 L146.08 61.61 L146.78 61.65 L147.48 61.69 L148.18 61.74 L148.88 61.79 L149.57 61.85 L150.27 61.91 L150.97 61.98 L151.66 62.05 L152.35 62.12 L153.05 62.20 L153.74 62.28 L154.43 62.36 L155.12 62.45 L155.82 62.54 L156.51 62.64 L157.20 62.74 L157.89 62.84 L158.58 62.95 L159.27 63.06 L159.96 63.17 L160.65 63.29 L161.34 63.41 L162.03 63.53 L162.72 63.65 L163.41 63.78 L164.10 63.91 L164.80 64.05 L165.49 64.18 L166.18 64.32 L166.87 64.46 L167.56 64.60 L168.25 64.74 L168.94 64.89 L169.63 65.04 L170.32 65.18 L171.01 65.33 L171.71 65.49 L172.40 65.64 L173.09 65.79 L173.78 65.94 L174.47 66.10 L175.16 66.25 L175.85 66.41 L176.54 66.57 L177.24 66.72 L177.93 66.88 L178.62 67.04 L179.31 67.19 L180.00 67.35 L180.69 67.50 L181.38 67.66 L182.07 67.81 L182.77 67.97 L183.46 68.12 L184.15 68.27 L184.84 68.42 L185.53 68.57 L186.22 68.72 L186.91 68.86 L187.60 69.01 L188.29 69.15 L188.99 69.29 L189.68 69.43 L190.37 69.57 L191.06 69.70 L191.75 69.83 L192.44 69.96 L193.13 70.09 L193.82 70.21 L194.51 70.34 L195.20 70.45 L195.89 70.57 L196.58 70.68 L197.27 70.79 L197.96 70.89 L198.65 70.99 L199.34 71.09 L200.03 71.18 L200.72 71.27 L201.41 71.36 L202.10 71.44 L202.79 71.51 L203.48 71.58 L204.17 71.65 L204.86 71.71 L205.55 71.77 L206.24 71.82 L206.93 71.87 L207.62 71.91 L208.31 71.95 L209.00 71.98 L209.69 72.00 L210.38 72.02 L211.07 72.03 L211.75 72.04 L212.44 72.04 L213.13 72.03 L213.82 72.02 L214.51 72.00 L215.19 71.98 L215.88 71.95 L216.57 71.91 L217.26 71.86 L217.94 71.81 L218.63 71.74 L219.32 71.68 L220.00 71.60 L220.69 71.52 L221.37 71.43 L222.06 71.33 L222.74 71.22 L223.42 71.11 L224.10 70.99 L224.78 70.86 L225.45 70.72 L226.13 70.58 L226.80 70.43 L227.47 70.27 L228.14 70.10 L228.81 69.92 L229.47 69.73 L230.13 69.54 L230.79 69.34 L231.45 69.12 L232.10 68.90 L232.76 68.67 L233.40 68.44 L234.05 68.19 L234.69 67.94 L235.33 67.67 L235.97 67.40 L236.60 67.11 L237.23 66.82 L237.85 66.52 L238.47 66.21 L239.09 65.89 L239.70 65.56 L240.31 65.22 L240.91 64.88 L241.51 64.52 L242.11 64.16 L242.70 63.78 L243.29 63.41 L243.88 63.02 L244.47 62.63 L245.05 62.23 L245.63 61.83 L246.21 61.42 L246.78 61.01 L247.36 60.59 L247.93 60.17 L248.50 59.75 L249.07 59.33 L249.64 58.90 L250.21 58.47 L250.77 58.04 L251.34 57.61 L251.91 57.17 L252.47 56.74 L253.04 56.31 L253.61 55.88 L254.17 55.45 L254.74 55.02 L255.31 54.59 L255.88 54.17 L256.45 53.75 L257.02 53.33 L257.60 52.92 L258.17 52.51 L258.75 52.11 L259.33 51.71 L259.92 51.32 L260.50 50.93 L261.09 50.55 L261.68 50.18 L262.27 49.81 L262.87 49.45 L263.47 49.09 L264.07 48.74 L264.67 48.40 L265.28 48.06 L265.89 47.73 L266.50 47.40 L267.11 47.08 L267.72 46.76 L268.34 46.45 L268.96 46.15 L269.58 45.85 L270.21 45.56 L270.83 45.27 L271.46 44.98 L272.09 44.71 L272.72 44.43 L273.36 44.16 L273.99 43.90 L274.63 43.64 L275.27 43.39 L275.92 43.14 L276.56 42.89 L277.21 42.66 L277.85 42.42 L278.50 42.19 L279.15 41.96 L279.81 41.74 L280.46 41.52 L281.12 41.31 L281.78 41.10 L282.44 40.90 L283.10 40.70 L283.76 40.50 L284.42 40.31 L285.09 40.12 L285.76 39.93 L286.42 39.75 L287.09 39.57 L287.76 39.40 L288.44 39.23 L289.11 39.06 L289.79 38.90 L290.46 38.74 L291.14 38.58 L291.82 38.43 L292.50 38.28 L293.18 38.13 L293.86 37.98 L294.54 37.84 L295.22 37.70 L295.91 37.57 L296.59 37.43 L297.28 37.30 L297.97 37.18 L298.66 37.05 L299.34 36.93 L300.03 36.81 L300.72 36.69 L301.42 36.58 L302.11 36.46 L302.80 36.35 L303.49 36.24 L304.19 36.14 L304.88 36.03 L305.58 35.93 L306.27 35.83 L306.97 35.73 L307.66 35.63 L308.36 35.54 L309.05 35.44 L309.75 35.35 L310.45 35.26 L311.15 35.17 L311.84 35.08 L312.54 35.00 L313.24 34.91 L313.94 34.83 L314.64 34.75 L315.34 34.67 L316.03 34.58 L316.73 34.50 L317.43 34.43 L318.13 34.35 L318.83 34.27 L319.53 34.20 L320.23 34.12 L320.93 34.05 L321.62 33.98 L322.32 33.90 L323.02 33.83 L323.72 33.76 L324.42 33.70 L325.12 33.63 L325.82 33.56 L326.52 33.49 L327.22 33.43 L327.92 33.36 L328.62 33.30 L329.32 33.24 L330.01 33.17 L330.71 33.11 L331.41 33.05 L332.11 32.99 L332.81 32.93 L333.51 32.88 L334.21 32.82 L334.91 32.76 L335.61 32.70 L336.31 32.65 L337.01 32.59 L337.70 32.54 L338.40 32.49 L339.10 32.43 L339.80 32.38 L340.50 32.33 L341.20 32.28 L341.90 32.23 L342.60 32.18 L343.30 32.13 L343.99 32.08 L344.69 32.03 L345.39 31.98 L346.09 31.94 L346.79 31.89 L347.49 31.84 L348.18 31.80 L348.88 31.75 L349.58 31.71 L350.28 31.66 L350.98 31.62 L351.67 31.58 L352.37 31.53 L353.07 31.49 L353.77 31.45 L354.47 31.41 L355.16 31.37 L355.86 31.32 L356.56 31.28 L357.25 31.24 L357.95 31.20 L358.65 31.16 L359.34 31.12 L360.04 31.08 L360.74 31.04 L361.43 31.00 L362.13 30.97 L362.83 30.93 L363.52 30.89 L364.22 30.85 L364.91 30.81 L365.61 30.77 L366.30 30.74 L367.00 30.70" fill="none" stroke="#808080" stroke-width="1.2" stroke-dasharray="2.4 2 2.4 2 2.4 2 2.4 4.15"/>
<path d="M56.10 141.80 L56.35 142.20 L56.60 142.57 L56.85 142.92 L57.10 143.25 L57.35 143.55 L57.60 143.82 L57.85 144.07 L58.10 144.29 L58.35 144.51 L58.60 144.72 L58.85 144.90 L59.10 145.04 L59.35 145.10 L59.60 144.89 L59.85 144.12 L60.10 142.95 L60.35 141.57 L60.60 140.13 L60.85 138.83 L61.10 137.70 L61.35 136.57 L61.60 135.44 L61.85 134.29 L62.10 133.13 L62.35 131.96 L62.60 130.79 L62.85 129.60 L63.10 128.40 L63.10 128.40 L63.24 127.66 L63.37 126.93 L63.51 126.20 L63.64 125.47 L63.77 124.75 L63.90 124.03 L64.03 123.32 L64.16 122.61 L64.29 121.90 L64.42 121.20 L64.54 120.50 L64.67 119.80 L64.79 119.10 L64.92 118.41 L65.04 117.72 L65.16 117.04 L65.28 116.35 L65.41 115.67 L65.53 114.99 L65.65 114.31 L65.77 113.64 L65.89 112.97 L66.01 112.29 L66.13 111.63 L66.26 110.96 L66.38 110.29 L66.50 109.63 L66.62 108.96 L66.74 108.30 L66.87 107.64 L66.99 106.98 L67.12 106.32 L67.24 105.66 L67.37 105.00 L67.49 104.34 L67.62 103.68 L67.75 103.02 L67.88 102.37 L68.01 101.71 L68.14 101.05 L68.27 100.39 L68.41 99.73 L68.54 99.07 L68.68 98.41 L68.82 97.75 L68.96 97.09 L69.10 96.43 L69.25 95.77 L69.39 95.10 L69.54 94.44 L69.69 93.77 L69.84 93.10 L69.99 92.43 L70.15 91.76 L70.30 91.08 L70.46 90.41 L70.63 89.73 L70.79 89.05 L70.96 88.37 L71.13 87.68 L71.30 87.00 L71.48 86.31 L71.65 85.61 L71.83 84.92 L72.02 84.22 L72.20 83.52 L72.39 82.82 L72.59 82.12 L72.78 81.41 L72.98 80.71 L73.18 80.00 L73.39 79.29 L73.60 78.59 L73.81 77.88 L74.03 77.17 L74.25 76.46 L74.48 75.76 L74.71 75.05 L74.94 74.35 L75.18 73.65 L75.42 72.94 L75.66 72.25 L75.91 71.55 L76.17 70.85 L76.43 70.16 L76.69 69.47 L76.96 68.78 L77.24 68.10 L77.52 67.42 L77.80 66.74 L78.09 66.07 L78.38 65.40 L78.68 64.74 L78.99 64.08 L79.30 63.43 L79.61 62.78 L79.94 62.14 L80.26 61.50 L80.60 60.87 L80.93 60.24 L81.28 59.62 L81.63 59.01 L81.99 58.40 L82.35 57.81 L82.72 57.21 L83.10 56.63 L83.48 56.06 L83.87 55.49 L84.26 54.93 L84.66 54.38 L85.07 53.84 L85.49 53.30 L85.91 52.78 L86.34 52.27 L86.78 51.76 L87.22 51.27 L87.67 50.78 L88.13 50.31 L88.60 49.85 L89.07 49.39 L89.56 48.95 L90.05 48.52 L90.54 48.11 L91.05 47.70 L91.56 47.31 L92.08 46.93 L92.61 46.56 L93.15 46.20 L93.69 45.85 L94.24 45.52 L94.80 45.19 L95.36 44.88 L95.94 44.58 L96.51 44.29 L97.10 44.01 L97.69 43.73 L98.29 43.47 L98.89 43.22 L99.50 42.98 L100.12 42.75 L100.74 42.53 L101.37 42.31 L102.00 42.11 L102.64 41.91 L103.28 41.73 L103.93 41.55 L104.59 41.38 L105.24 41.22 L105.91 41.06 L106.57 40.92 L107.24 40.78 L107.92 40.64 L108.60 40.52 L109.28 40.40 L109.97 40.29 L110.66 40.19 L111.35 40.09 L112.05 40.00 L112.75 39.91 L113.46 39.83 L114.16 39.76 L114.87 39.69 L115.58 39.63 L116.30 39.57 L117.02 39.51 L117.73 39.47 L118.46 39.42 L119.18 39.38 L119.90 39.35 L120.63 39.32 L121.36 39.29 L122.08 39.26 L122.81 39.24 L123.55 39.23 L124.28 39.21 L125.01 39.20 L125.74 39.20 L126.48 39.19 L127.21 39.19 L127.95 39.19 L128.68 39.19 L129.41 39.19 L130.15 39.20 L130.88 39.20 L131.61 39.21 L132.35 39.22 L133.08 39.23 L133.81 39.24 L134.54 39.25 L135.27 39.26 L135.99 39.27 L136.72 39.29 L137.44 39.30 L138.16 39.31 L138.88 39.32 L139.60 39.34 L140.32 39.35 L141.04 39.36 L141.75 39.37 L142.47 39.39 L143.18 39.40 L143.89 39.42 L144.60 39.43 L145.31 39.44 L146.02 39.46 L146.73 39.47 L147.43 39.49 L148.14 39.51 L148.84 39.52 L149.54 39.54 L150.24 39.56 L150.94 39.58 L151.64 39.60 L152.34 39.62 L153.04 39.64 L153.74 39.66 L154.43 39.68 L155.13 39.70 L155.82 39.73 L156.52 39.75 L157.21 39.78 L157.90 39.80 L158.59 39.83 L159.28 39.86 L159.97 39.89 L160.66 39.92 L161.35 39.95 L162.04 39.98 L162.73 40.01 L163.42 40.04 L164.10 40.08 L164.79 40.11 L165.47 40.15 L166.16 40.19 L166.85 40.23 L167.53 40.27 L168.22 40.31 L168.90 40.35 L169.58 40.40 L170.27 40.44 L170.95 40.49 L171.64 40.54 L172.32 40.59 L173.00 40.64 L173.68 40.69 L174.37 40.74 L175.05 40.80 L175.73 40.86 L176.42 40.91 L177.10 40.97 L177.78 41.04 L178.47 41.10 L179.15 41.16 L179.83 41.23 L180.52 41.30 L181.20 41.37 L181.89 41.44 L182.57 41.51 L183.25 41.59 L183.94 41.66 L184.62 41.74 L185.31 41.82 L186.00 41.90 L186.68 41.99 L187.37 42.07 L188.06 42.16 L188.74 42.25 L189.43 42.34 L190.12 42.43 L190.81 42.52 L191.49 42.62 L192.18 42.71 L192.87 42.81 L193.56 42.91 L194.25 43.01 L194.94 43.11 L195.63 43.21 L196.32 43.31 L197.01 43.42 L197.70 43.52 L198.39 43.63 L199.08 43.74 L199.77 43.85 L200.46 43.96 L201.16 44.07 L201.85 44.18 L202.54 44.29 L203.23 44.40 L203.92 44.52 L204.62 44.63 L205.31 44.75 L206.00 44.86 L206.70 44.98 L207.39 45.10 L208.08 45.21 L208.78 45.33 L209.47 45.45 L210.16 45.57 L210.86 45.69 L211.55 45.81 L212.25 45.93 L212.94 46.05 L213.64 46.17 L214.33 46.29 L215.03 46.41 L215.72 46.53 L216.42 46.66 L217.11 46.78 L217.81 46.90 L218.51 47.02 L219.20 47.14 L219.90 47.26 L220.59 47.38 L221.29 47.50 L221.99 47.62 L222.68 47.74 L223.38 47.86 L224.07 47.98 L224.77 48.10 L225.47 48.22 L226.16 48.34 L226.86 48.46 L227.56 48.58 L228.26 48.70 L228.95 48.81 L229.65 48.93 L230.35 49.04 L231.04 49.16 L231.74 49.27 L232.44 49.39 L233.14 49.50 L233.83 49.61 L234.53 49.72 L235.23 49.83 L235.92 49.94 L236.62 50.05 L237.32 50.15 L238.02 50.26 L238.71 50.37 L239.41 50.47 L240.11 50.57 L240.81 50.67 L241.50 50.77 L242.20 50.87 L242.90 50.97 L243.60 51.07 L244.29 51.16 L244.99 51.25 L245.69 51.35 L246.38 51.44 L247.08 51.53 L247.78 51.61 L248.47 51.70 L249.17 51.78 L249.87 51.87 L250.56 51.95 L251.26 52.03 L251.96 52.10 L252.65 52.18 L253.35 52.25 L254.05 52.32 L254.74 52.39 L255.44 52.46 L256.14 52.53 L256.83 52.59 L257.53 52.65 L258.22 52.71 L258.92 52.77 L259.61 52.82 L260.31 52.88 L261.00 52.93 L261.70 52.98 L262.39 53.02 L263.09 53.07 L263.78 53.11 L264.48 53.15 L265.17 53.18 L265.87 53.22 L266.56 53.25 L267.25 53.28 L267.95 53.30 L268.64 53.33 L269.33 53.35 L270.03 53.36 L270.72 53.38 L271.41 53.39 L272.10 53.40 L272.80 53.41 L273.49 53.41 L274.18 53.41 L274.87 53.41 L275.56 53.40 L276.25 53.39 L276.95 53.38 L277.64 53.37 L278.33 53.35 L279.02 53.33 L279.71 53.30 L280.40 53.27 L281.09 53.24 L281.77 53.20 L282.46 53.16 L283.15 53.11 L283.84 53.06 L284.52 52.99 L285.21 52.93 L285.89 52.85 L286.57 52.77 L287.25 52.68 L287.93 52.59 L288.61 52.48 L289.29 52.37 L289.97 52.24 L290.64 52.11 L291.32 51.97 L291.99 51.82 L292.66 51.66 L293.33 51.49 L294.00 51.31 L294.67 51.12 L295.33 50.93 L296.00 50.72 L296.66 50.52 L297.32 50.30 L297.98 50.08 L298.64 49.85 L299.30 49.62 L299.96 49.39 L300.62 49.15 L301.27 48.90 L301.93 48.66 L302.59 48.41 L303.24 48.15 L303.89 47.90 L304.55 47.64 L305.20 47.38 L305.85 47.12 L306.51 46.86 L307.16 46.59 L307.81 46.33 L308.46 46.06 L309.12 45.80 L309.77 45.53 L310.42 45.26 L311.07 45.00 L311.72 44.73 L312.38 44.46 L313.03 44.20 L313.68 43.94 L314.34 43.68 L314.99 43.42 L315.65 43.16 L316.30 42.90 L316.96 42.65 L317.62 42.40 L318.27 42.15 L318.93 41.91 L319.59 41.67 L320.25 41.43 L320.91 41.20 L321.58 40.97 L322.24 40.75 L322.90 40.53 L323.57 40.32 L324.24 40.11 L324.91 39.91 L325.58 39.71 L326.25 39.52 L326.92 39.33 L327.60 39.15 L328.28 38.97 L328.95 38.80 L329.63 38.64 L330.31 38.48 L330.99 38.32 L331.68 38.17 L332.36 38.02 L333.04 37.88 L333.73 37.74 L334.42 37.61 L335.10 37.48 L335.79 37.35 L336.48 37.22 L337.17 37.10 L337.86 36.99 L338.55 36.87 L339.24 36.76 L339.94 36.65 L340.63 36.54 L341.32 36.44 L342.02 36.34 L342.71 36.24 L343.41 36.14 L344.10 36.05 L344.80 35.95 L345.49 35.86 L346.19 35.77 L346.89 35.68 L347.58 35.59 L348.28 35.51 L348.98 35.42 L349.67 35.33 L350.37 35.25 L351.07 35.16 L351.77 35.08 L352.46 35.00 L353.16 34.91 L353.86 34.83 L354.55 34.74 L355.25 34.66 L355.94 34.57 L356.64 34.49 L357.33 34.40 L358.03 34.31 L358.72 34.22 L359.42 34.13 L360.11 34.04 L360.80 33.94 L361.49 33.85 L362.18 33.75 L362.88 33.65 L363.56 33.55 L364.25 33.44 L364.94 33.34 L365.63 33.23 L366.31 33.11 L367.00 33.00" fill="none" stroke="#00ff00" stroke-width="2.4" stroke-dasharray="4.5 2.0"/>
<path d="M55.50 87.80 L55.75 87.87 L56.00 87.96 L56.25 88.07 L56.50 88.20 L56.75 88.37 L57.00 88.59 L57.25 88.85 L57.50 89.13 L57.75 89.40 L58.00 89.65 L58.25 89.86 L58.50 90.00 L58.75 90.10 L59.00 90.20 L59.25 90.29 L59.50 90.36 L59.75 90.39 L60.00 90.38 L60.25 90.19 L60.50 89.86 L60.75 89.44 L61.00 89.00 L61.25 88.51 L61.50 87.92 L61.75 87.25 L62.00 86.52 L62.25 85.76 L62.50 84.99 L62.75 84.17 L63.00 83.30 L63.25 82.38 L63.50 81.41 L63.75 80.41 L63.80 80.20 L63.91 79.56 L64.02 78.92 L64.14 78.26 L64.27 77.60 L64.40 76.94 L64.53 76.26 L64.67 75.59 L64.81 74.90 L64.96 74.22 L65.12 73.53 L65.28 72.83 L65.44 72.14 L65.62 71.44 L65.80 70.73 L65.98 70.03 L66.17 69.32 L66.37 68.62 L66.57 67.91 L66.78 67.20 L66.99 66.49 L67.21 65.79 L67.44 65.08 L67.68 64.37 L67.92 63.67 L68.17 62.97 L68.42 62.27 L68.69 61.58 L68.96 60.89 L69.23 60.20 L69.52 59.52 L69.81 58.84 L70.11 58.17 L70.41 57.50 L70.73 56.84 L71.05 56.19 L71.38 55.54 L71.72 54.90 L72.06 54.27 L72.42 53.65 L72.78 53.03 L73.15 52.43 L73.53 51.83 L73.92 51.25 L74.31 50.67 L74.72 50.10 L75.13 49.55 L75.55 49.01 L75.98 48.48 L76.42 47.96 L76.87 47.46 L77.33 46.97 L77.80 46.49 L78.28 46.02 L78.76 45.57 L79.26 45.14 L79.76 44.71 L80.27 44.30 L80.80 43.91 L81.32 43.52 L81.86 43.15 L82.41 42.79 L82.96 42.44 L83.52 42.10 L84.08 41.77 L84.66 41.46 L85.24 41.15 L85.82 40.86 L86.42 40.57 L87.02 40.30 L87.62 40.03 L88.23 39.78 L88.85 39.53 L89.48 39.29 L90.10 39.07 L90.74 38.85 L91.38 38.64 L92.02 38.43 L92.67 38.24 L93.32 38.05 L93.97 37.87 L94.63 37.70 L95.30 37.53 L95.97 37.37 L96.64 37.22 L97.31 37.07 L97.99 36.93 L98.67 36.79 L99.35 36.66 L100.04 36.53 L100.73 36.41 L101.42 36.30 L102.11 36.19 L102.80 36.08 L103.50 35.98 L104.20 35.88 L104.89 35.78 L105.59 35.69 L106.29 35.60 L106.99 35.51 L107.70 35.43 L108.40 35.35 L109.10 35.26 L109.80 35.19 L110.50 35.11 L111.20 35.03 L111.90 34.96 L112.61 34.89 L113.31 34.82 L114.01 34.75 L114.71 34.69 L115.41 34.62 L116.11 34.56 L116.81 34.50 L117.52 34.44 L118.22 34.39 L118.92 34.33 L119.62 34.28 L120.32 34.22 L121.02 34.17 L121.72 34.13 L122.42 34.08 L123.13 34.03 L123.83 33.99 L124.53 33.95 L125.23 33.90 L125.93 33.87 L126.63 33.83 L127.33 33.79 L128.03 33.76 L128.73 33.72 L129.44 33.69 L130.14 33.66 L130.84 33.63 L131.54 33.60 L132.24 33.58 L132.94 33.55 L133.64 33.53 L134.34 33.51 L135.04 33.49 L135.74 33.47 L136.45 33.45 L137.15 33.43 L137.85 33.42 L138.55 33.40 L139.25 33.39 L139.95 33.38 L140.65 33.37 L141.35 33.36 L142.05 33.35 L142.75 33.35 L143.45 33.34 L144.15 33.34 L144.85 33.33 L145.55 33.33 L146.25 33.33 L146.96 33.33 L147.66 33.33 L148.36 33.34 L149.06 33.34 L149.76 33.34 L150.46 33.35 L151.16 33.36 L151.86 33.36 L152.56 33.37 L153.26 33.38 L153.96 33.39 L154.66 33.40 L155.36 33.42 L156.06 33.43 L156.76 33.44 L157.46 33.46 L158.16 33.48 L158.86 33.49 L159.56 33.51 L160.26 33.53 L160.96 33.55 L161.66 33.57 L162.36 33.59 L163.06 33.61 L163.76 33.64 L164.46 33.66 L165.16 33.68 L165.86 33.71 L166.56 33.73 L167.26 33.76 L167.96 33.79 L168.66 33.81 L169.36 33.84 L170.05 33.87 L170.75 33.90 L171.45 33.93 L172.15 33.96 L172.85 33.99 L173.55 34.03 L174.25 34.06 L174.95 34.09 L175.65 34.13 L176.35 34.16 L177.05 34.19 L177.75 34.23 L178.45 34.27 L179.14 34.30 L179.84 34.34 L180.54 34.38 L181.24 34.41 L181.94 34.45 L182.64 34.49 L183.34 34.53 L184.04 34.57 L184.73 34.61 L185.43 34.65 L186.13 34.68 L186.83 34.73 L187.53 34.77 L188.23 34.81 L188.93 34.85 L189.62 34.89 L190.32 34.93 L191.02 34.97 L191.72 35.01 L192.42 35.06 L193.12 35.10 L193.81 35.14 L194.51 35.18 L195.21 35.23 L195.91 35.27 L196.61 35.31 L197.30 35.35 L198.00 35.40 L198.70 35.44 L199.40 35.48 L200.09 35.53 L200.79 35.57 L201.49 35.61 L202.19 35.66 L202.88 35.70 L203.58 35.74 L204.28 35.79 L204.98 35.83 L205.67 35.88 L206.37 35.92 L207.07 35.96 L207.76 36.01 L208.46 36.05 L209.16 36.10 L209.86 36.14 L210.55 36.19 L211.25 36.23 L211.95 36.28 L212.64 36.32 L213.34 36.37 L214.04 36.42 L214.73 36.46 L215.43 36.51 L216.13 36.55 L216.82 36.60 L217.52 36.65 L218.22 36.69 L218.91 36.74 L219.61 36.79 L220.31 36.84 L221.00 36.88 L221.70 36.93 L222.40 36.98 L223.09 37.03 L223.79 37.08 L224.48 37.13 L225.18 37.18 L225.88 37.23 L226.57 37.28 L227.27 37.33 L227.97 37.38 L228.66 37.43 L229.36 37.48 L230.05 37.53 L230.75 37.58 L231.44 37.64 L232.14 37.69 L232.84 37.74 L233.53 37.80 L234.23 37.85 L234.92 37.90 L235.62 37.96 L236.32 38.01 L237.01 38.07 L237.71 38.12 L238.40 38.18 L239.10 38.24 L239.79 38.29 L240.49 38.35 L241.18 38.41 L241.88 38.46 L242.58 38.52 L243.27 38.58 L243.97 38.64 L244.66 38.70 L245.36 38.76 L246.05 38.82 L246.75 38.88 L247.44 38.94 L248.14 39.01 L248.83 39.07 L249.53 39.13 L250.22 39.19 L250.92 39.26 L251.61 39.32 L252.31 39.39 L253.00 39.45 L253.70 39.52 L254.39 39.59 L255.09 39.65 L255.78 39.72 L256.48 39.79 L257.17 39.86 L257.87 39.93 L258.56 40.00 L259.26 40.07 L259.95 40.14 L260.65 40.21 L261.34 40.28 L262.04 40.35 L262.73 40.43 L263.43 40.50 L264.12 40.57 L264.82 40.65 L265.51 40.72 L266.21 40.80 L266.90 40.88 L267.60 40.95 L268.29 41.03 L268.99 41.11 L269.68 41.19 L270.38 41.27 L271.07 41.35 L271.77 41.43 L272.46 41.52 L273.15 41.60 L273.85 41.68 L274.54 41.77 L275.24 41.85 L275.93 41.94 L276.63 42.02 L277.32 42.11 L278.02 42.20 L278.71 42.29 L279.41 42.38 L280.10 42.47 L280.80 42.56 L281.49 42.65 L282.18 42.74 L282.88 42.83 L283.57 42.93 L284.27 43.02 L284.96 43.12 L285.66 43.21 L286.35 43.31 L287.05 43.41 L287.74 43.50 L288.44 43.60 L289.13 43.70 L289.83 43.80 L290.52 43.89 L291.21 43.99 L291.91 44.09 L292.60 44.19 L293.30 44.28 L293.99 44.38 L294.69 44.47 L295.38 44.57 L296.08 44.66 L296.77 44.75 L297.46 44.84 L298.16 44.93 L298.85 45.02 L299.55 45.11 L300.24 45.19 L300.94 45.28 L301.63 45.36 L302.33 45.44 L303.02 45.52 L303.71 45.59 L304.41 45.66 L305.10 45.74 L305.80 45.80 L306.49 45.87 L307.19 45.93 L307.88 45.99 L308.58 46.05 L309.27 46.10 L309.96 46.16 L310.66 46.20 L311.35 46.25 L312.05 46.29 L312.74 46.33 L313.43 46.36 L314.13 46.39 L314.82 46.42 L315.52 46.44 L316.21 46.46 L316.91 46.47 L317.60 46.48 L318.29 46.48 L318.99 46.48 L319.68 46.48 L320.38 46.47 L321.07 46.46 L321.76 46.44 L322.46 46.41 L323.15 46.38 L323.85 46.35 L324.54 46.31 L325.23 46.26 L325.93 46.21 L326.62 46.15 L327.32 46.09 L328.01 46.02 L328.70 45.95 L329.40 45.87 L330.09 45.79 L330.78 45.70 L331.48 45.61 L332.17 45.52 L332.86 45.42 L333.56 45.31 L334.25 45.20 L334.94 45.09 L335.63 44.97 L336.33 44.85 L337.02 44.73 L337.71 44.60 L338.40 44.47 L339.09 44.33 L339.78 44.20 L340.47 44.06 L341.16 43.91 L341.85 43.77 L342.54 43.62 L343.23 43.47 L343.92 43.31 L344.61 43.16 L345.29 43.00 L345.98 42.84 L346.67 42.68 L347.35 42.51 L348.04 42.35 L348.73 42.18 L349.41 42.01 L350.10 41.84 L350.78 41.67 L351.46 41.50 L352.15 41.32 L352.83 41.15 L353.51 40.97 L354.19 40.80 L354.87 40.62 L355.55 40.44 L356.23 40.27 L356.91 40.09 L357.59 39.91 L358.26 39.74 L358.94 39.56 L359.62 39.38 L360.29 39.21 L360.97 39.03 L361.64 38.86 L362.31 38.68 L362.98 38.51 L363.66 38.34 L364.33 38.17 L365.00 38.00 L365.66 37.83 L366.33 37.66 L367.00 37.50" fill="none" stroke="#0000ff" stroke-width="2.4" stroke-dasharray="2.3 3.15"/>
<path d="M65.00 479.30 L65.65 479.21 L66.31 479.14 L66.97 479.07 L67.64 479.01 L68.31 478.95 L68.98 478.91 L69.65 478.87 L70.33 478.84 L71.01 478.82 L71.70 478.81 L72.38 478.80 L73.07 478.79 L73.77 478.79 L74.46 478.80 L75.16 478.81 L75.86 478.83 L76.56 478.85 L77.27 478.88 L77.97 478.91 L78.68 478.94 L79.39 478.97 L80.10 479.01 L80.82 479.05 L81.54 479.09 L82.25 479.14 L82.97 479.18 L83.69 479.23 L84.41 479.27 L85.14 479.32 L85.86 479.36 L86.59 479.41 L87.31 479.46 L88.04 479.50 L88.77 479.54 L89.50 479.58 L90.22 479.62 L90.95 479.66 L91.68 479.69 L92.41 479.73 L93.14 479.75 L93.87 479.78 L94.60 479.80 L95.33 479.81 L96.06 479.82 L96.79 479.83 L97.52 479.83 L98.25 479.83 L98.98 479.81 L99.71 479.80 L100.43 479.77 L101.16 479.74 L101.88 479.70 L102.60 479.66 L103.32 479.61 L104.03 479.54 L104.75 479.48 L105.45 479.40 L106.16 479.31 L106.86 479.21 L107.55 479.11 L108.24 478.99 L108.93 478.87 L109.60 478.73 L110.28 478.59 L110.94 478.43 L111.60 478.26 L112.26 478.08 L112.90 477.89 L113.54 477.69 L114.17 477.47 L114.79 477.24 L115.40 477.00 L116.01 476.75 L116.60 476.48 L117.18 476.20 L117.76 475.90 L118.32 475.59 L118.87 475.27 L119.42 474.93 L119.95 474.57 L120.46 474.20 L120.97 473.82 L121.46 473.41 L121.95 473.00 L122.41 472.56 L122.87 472.12 L123.32 471.65 L123.75 471.17 L124.17 470.68 L124.58 470.18 L124.98 469.66 L125.37 469.13 L125.75 468.59 L126.12 468.04 L126.48 467.47 L126.83 466.90 L127.17 466.32 L127.50 465.72 L127.83 465.12 L128.14 464.51 L128.45 463.89 L128.74 463.26 L129.03 462.63 L129.31 461.98 L129.59 461.34 L129.86 460.68 L130.12 460.02 L130.37 459.36 L130.62 458.69 L130.86 458.02 L131.09 457.34 L131.32 456.66 L131.55 455.98 L131.77 455.29 L131.98 454.61 L132.19 453.92 L132.39 453.23 L132.59 452.54 L132.79 451.85 L132.98 451.16 L133.17 450.47 L133.36 449.78 L133.54 449.09 L133.72 448.40 L133.89 447.71 L134.06 447.02 L134.23 446.33 L134.39 445.64 L134.55 444.95 L134.71 444.26 L134.87 443.56 L135.02 442.87 L135.17 442.18 L135.32 441.49 L135.46 440.80 L135.61 440.10 L135.75 439.41 L135.88 438.72 L136.02 438.03 L136.15 437.33 L136.29 436.64 L136.42 435.95 L136.55 435.26 L136.67 434.56 L136.80 433.87 L136.92 433.18 L137.04 432.49 L137.17 431.79 L137.29 431.10 L137.41 430.41 L137.52 429.71 L137.64 429.02 L137.76 428.33 L137.87 427.63 L137.99 426.94 L138.11 426.25 L138.22 425.55 L138.33 424.86 L138.45 424.17 L138.56 423.48 L138.67 422.78 L138.78 422.09 L138.89 421.40 L139.00 420.70 L139.11 420.01 L139.22 419.32 L139.33 418.63 L139.44 417.93 L139.54 417.24 L139.65 416.55 L139.76 415.86 L139.86 415.16 L139.97 414.47 L140.07 413.78 L140.18 413.08 L140.28 412.39 L140.38 411.70 L140.49 411.01 L140.59 410.31 L140.69 409.62 L140.79 408.93 L140.89 408.24 L141.00 407.54 L141.10 406.85 L141.20 406.16 L141.29 405.47 L141.39 404.77 L141.49 404.08 L141.59 403.39 L141.69 402.70 L141.79 402.00 L141.88 401.31 L141.98 400.62 L142.08 399.93 L142.17 399.23 L142.27 398.54 L142.37 397.85 L142.46 397.16 L142.56 396.46 L142.65 395.77 L142.75 395.08 L142.84 394.39 L142.93 393.69 L143.03 393.00 L143.12 392.31 L143.22 391.62 L143.31 390.93 L143.40 390.23 L143.49 389.54 L143.59 388.85 L143.68 388.16 L143.77 387.46 L143.86 386.77 L143.96 386.08 L144.05 385.39 L144.14 384.70 L144.23 384.00 L144.32 383.31 L144.41 382.62 L144.51 381.93 L144.60 381.23 L144.69 380.54 L144.78 379.85 L144.87 379.16 L144.96 378.47 L145.05 377.77 L145.14 377.08 L145.23 376.39 L145.32 375.70 L145.41 375.00 L145.51 374.31 L145.60 373.62 L145.69 372.93 L145.78 372.24 L145.87 371.54 L145.96 370.85 L146.05 370.16 L146.14 369.47 L146.23 368.78 L146.32 368.08 L146.41 367.39 L146.51 366.70 L146.60 366.01 L146.69 365.32 L146.78 364.62 L146.87 363.93 L146.96 363.24 L147.05 362.55 L147.15 361.86 L147.24 361.16 L147.33 360.47 L147.42 359.78 L147.52 359.09 L147.61 358.40 L147.70 357.70 L147.80 357.01 L147.89 356.32 L147.98 355.63 L148.08 354.94 L148.17 354.25 L148.27 353.55 L148.36 352.86 L148.46 352.17 L148.55 351.48 L148.65 350.79 L148.74 350.09 L148.84 349.40 L148.94 348.71 L149.03 348.02 L149.13 347.33 L149.23 346.63 L149.32 345.94 L149.42 345.25 L149.52 344.56 L149.62 343.87 L149.72 343.17 L149.82 342.48 L149.92 341.79 L150.02 341.10 L150.12 340.41 L150.22 339.72 L150.32 339.02 L150.43 338.33 L150.53 337.64 L150.63 336.95 L150.74 336.26 L150.84 335.56 L150.94 334.87 L151.05 334.18 L151.15 333.49 L151.26 332.80 L151.37 332.10 L151.47 331.41 L151.58 330.72 L151.69 330.03 L151.80 329.34 L151.91 328.65 L152.02 327.95 L152.13 327.26 L152.24 326.57 L152.35 325.88 L152.46 325.19 L152.57 324.49 L152.69 323.80 L152.80 323.11 L152.92 322.42 L153.03 321.73 L153.15 321.03 L153.26 320.34 L153.38 319.65 L153.50 318.96 L153.62 318.27 L153.74 317.58 L153.86 316.88 L153.98 316.19 L154.10 315.50 L154.10 315.50 L156.50 305.40 L159.90 302.80 L163.10 306.10 L166.10 316.70 L166.10 316.70 L166.30 317.38 L166.50 318.06 L166.69 318.74 L166.89 319.42 L167.08 320.11 L167.27 320.79 L167.46 321.47 L167.64 322.15 L167.83 322.83 L168.01 323.51 L168.19 324.19 L168.37 324.87 L168.55 325.55 L168.73 326.23 L168.90 326.91 L169.08 327.59 L169.25 328.27 L169.42 328.95 L169.59 329.63 L169.76 330.30 L169.93 330.98 L170.09 331.66 L170.26 332.34 L170.42 333.02 L170.58 333.70 L170.74 334.38 L170.90 335.06 L171.06 335.74 L171.22 336.42 L171.37 337.09 L171.53 337.77 L171.68 338.45 L171.84 339.13 L171.99 339.81 L172.14 340.49 L172.29 341.17 L172.44 341.85 L172.59 342.52 L172.74 343.20 L172.89 343.88 L173.04 344.56 L173.18 345.24 L173.33 345.92 L173.47 346.60 L173.62 347.28 L173.76 347.95 L173.91 348.63 L174.05 349.31 L174.20 349.99 L174.34 350.67 L174.48 351.35 L174.62 352.03 L174.77 352.71 L174.91 353.38 L175.05 354.06 L175.19 354.74 L175.34 355.42 L175.48 356.10 L175.62 356.78 L175.76 357.46 L175.90 358.14 L176.04 358.82 L176.19 359.50 L176.33 360.18 L176.47 360.86 L176.61 361.54 L176.76 362.22 L176.90 362.90 L177.04 363.58 L177.19 364.26 L177.33 364.94 L177.47 365.62 L177.62 366.30 L177.76 366.98 L177.91 367.66 L178.06 368.34 L178.20 369.02 L178.35 369.70 L178.50 370.38 L178.65 371.06 L178.80 371.74 L178.95 372.43 L179.10 373.11 L179.25 373.79 L179.41 374.47 L179.56 375.15 L179.71 375.84 L179.87 376.52 L180.03 377.20 L180.18 377.88 L180.34 378.57 L180.50 379.25 L180.66 379.93 L180.83 380.62 L180.99 381.30 L181.16 381.98 L181.32 382.67 L181.49 383.35 L181.66 384.04 L181.83 384.72 L182.00 385.41 L182.17 386.09 L182.35 386.78 L182.52 387.46 L182.70 388.15 L182.88 388.83 L183.06 389.52 L183.24 390.21 L183.42 390.89 L183.61 391.58 L183.80 392.27 L183.99 392.95 L184.18 393.64 L184.37 394.33 L184.57 395.01 L184.76 395.70 L184.96 396.39 L185.17 397.07 L185.37 397.76 L185.58 398.44 L185.79 399.12 L186.00 399.81 L186.21 400.49 L186.43 401.17 L186.65 401.85 L186.88 402.53 L187.10 403.20 L187.33 403.88 L187.57 404.55 L187.80 405.23 L188.05 405.90 L188.29 406.56 L188.54 407.23 L188.79 407.90 L189.04 408.56 L189.30 409.22 L189.56 409.88 L189.83 410.54 L190.10 411.19 L190.37 411.84 L190.65 412.49 L190.94 413.14 L191.22 413.78 L191.51 414.42 L191.81 415.06 L192.11 415.70 L192.42 416.33 L192.73 416.96 L193.04 417.58 L193.36 418.20 L193.69 418.82 L194.02 419.44 L194.36 420.05 L194.70 420.65 L195.04 421.26 L195.40 421.86 L195.75 422.45 L196.12 423.04 L196.48 423.63 L196.86 424.21 L197.24 424.79 L197.62 425.37 L198.02 425.93 L198.41 426.50 L198.82 427.06 L199.23 427.61 L199.65 428.16 L200.07 428.71 L200.50 429.25 L200.93 429.78 L201.37 430.31 L201.82 430.84 L202.27 431.36 L202.72 431.87 L203.19 432.38 L203.66 432.88 L204.13 433.38 L204.61 433.87 L205.10 434.35 L205.59 434.83 L206.08 435.30 L206.59 435.77 L207.10 436.23 L207.61 436.68 L208.13 437.13 L208.65 437.57 L209.18 438.00 L209.72 438.43 L210.26 438.85 L210.80 439.26 L211.35 439.67 L211.91 440.07 L212.47 440.47 L213.03 440.86 L213.60 441.24 L214.17 441.61 L214.75 441.98 L215.33 442.34 L215.92 442.70 L216.50 443.05 L217.10 443.39 L217.69 443.73 L218.29 444.06 L218.90 444.39 L219.50 444.70 L220.11 445.02 L220.73 445.32 L221.34 445.62 L221.96 445.92 L222.58 446.20 L223.21 446.48 L223.83 446.76 L224.46 447.03 L225.09 447.29 L225.72 447.55 L226.36 447.80 L227.00 448.05 L227.64 448.29 L228.28 448.52 L228.93 448.75 L229.57 448.97 L230.22 449.19 L230.87 449.40 L231.52 449.61 L232.18 449.81 L232.84 450.01 L233.49 450.20 L234.16 450.39 L234.82 450.57 L235.48 450.75 L236.15 450.92 L236.82 451.09 L237.49 451.25 L238.16 451.41 L238.83 451.56 L239.51 451.71 L240.18 451.86 L240.86 452.00 L241.54 452.13 L242.22 452.26 L242.90 452.39 L243.59 452.52 L244.27 452.64 L244.96 452.75 L245.65 452.87 L246.34 452.97 L247.03 453.08 L247.72 453.18 L248.42 453.28 L249.11 453.37 L249.81 453.46 L250.50 453.55 L251.20 453.64 L251.90 453.72 L252.60 453.80 L253.30 453.87 L254.01 453.94 L254.71 454.01 L255.41 454.08 L256.12 454.14 L256.82 454.20 L257.53 454.26 L258.24 454.32 L258.95 454.37 L259.65 454.42 L260.36 454.47 L261.07 454.52 L261.78 454.56 L262.50 454.61 L263.21 454.65 L263.92 454.68 L264.63 454.72 L265.35 454.75 L266.06 454.79 L266.78 454.82 L267.49 454.85 L268.21 454.87 L268.92 454.90 L269.64 454.92 L270.35 454.95 L271.07 454.97 L271.78 454.99 L272.50 455.01 L273.22 455.03 L273.93 455.05 L274.65 455.06 L275.37 455.08 L276.08 455.09 L276.80 455.11 L277.52 455.12 L278.23 455.14 L278.95 455.15 L279.67 455.16 L280.38 455.17 L281.10 455.18 L281.81 455.20 L282.53 455.21 L283.24 455.22 L283.96 455.23 L284.67 455.24 L285.38 455.25 L286.10 455.26 L286.81 455.27 L287.52 455.29 L288.23 455.30 L288.94 455.31 L289.65 455.32 L290.36 455.34 L291.07 455.35 L291.78 455.37 L292.48 455.38 L293.19 455.40 L293.90 455.42 L294.60 455.44 L295.31 455.46 L296.01 455.48 L296.71 455.50 L297.41 455.52 L298.11 455.55 L298.81 455.57 L299.51 455.60 L300.21 455.62 L300.91 455.65 L301.61 455.68 L302.30 455.71 L303.00 455.73 L303.69 455.76 L304.39 455.79 L305.08 455.82 L305.78 455.86 L306.47 455.89 L307.16 455.92 L307.86 455.95 L308.55 455.99 L309.24 456.02 L309.93 456.05 L310.62 456.09 L311.31 456.12 L312.00 456.16 L312.69 456.19 L313.38 456.23 L314.07 456.26 L314.76 456.30 L315.45 456.33 L316.13 456.37 L316.82 456.41 L317.51 456.44 L318.20 456.48 L318.88 456.52 L319.57 456.55 L320.26 456.59 L320.95 456.63 L321.63 456.66 L322.32 456.70 L323.01 456.73 L323.69 456.77 L324.38 456.81 L325.07 456.84 L325.75 456.88 L326.44 456.91 L327.13 456.95 L327.81 456.98 L328.50 457.01 L329.19 457.05 L329.87 457.08 L330.56 457.11 L331.25 457.14 L331.94 457.18 L332.62 457.21 L333.31 457.24 L334.00 457.27 L334.69 457.30 L335.38 457.33 L336.07 457.35 L336.76 457.38 L337.45 457.41 L338.14 457.43 L338.83 457.46 L339.52 457.48 L340.21 457.51 L340.90 457.53 L341.60 457.55 L342.29 457.57 L342.98 457.59 L343.68 457.61 L344.37 457.63 L345.07 457.64 L345.76 457.66 L346.46 457.67 L347.16 457.69 L347.85 457.70 L348.55 457.71 L349.25 457.72 L349.95 457.73 L350.65 457.74 L351.35 457.74 L352.05 457.75 L352.76 457.75 L353.46 457.75 L354.16 457.76 L354.87 457.75 L355.57 457.75 L356.28 457.75 L356.99 457.74 L357.70 457.74 L358.41 457.73 L359.12 457.72 L359.83 457.71 L360.54 457.69 L361.26 457.68 L361.97 457.66 L362.68 457.65 L363.40 457.63 L364.12 457.60 L364.84 457.58 L365.56 457.56 L366.28 457.53 L367.00 457.50" fill="none" stroke="#ff0000" stroke-width="1.8"/>
<path d="M65.00 479.30 L65.67 479.23 L66.34 479.17 L67.02 479.11 L67.69 479.06 L68.37 479.02 L69.05 478.98 L69.73 478.95 L70.41 478.92 L71.09 478.90 L71.78 478.89 L72.46 478.88 L73.15 478.88 L73.84 478.88 L74.53 478.88 L75.22 478.89 L75.92 478.90 L76.61 478.92 L77.31 478.93 L78.01 478.96 L78.71 478.98 L79.41 479.01 L80.11 479.03 L80.82 479.07 L81.52 479.10 L82.23 479.13 L82.94 479.17 L83.65 479.20 L84.36 479.24 L85.08 479.28 L85.79 479.31 L86.51 479.35 L87.22 479.39 L87.94 479.42 L88.66 479.46 L89.39 479.49 L90.11 479.52 L90.83 479.55 L91.56 479.58 L92.29 479.61 L93.01 479.63 L93.74 479.66 L94.47 479.68 L95.21 479.69 L95.94 479.70 L96.67 479.71 L97.41 479.71 L98.14 479.71 L98.87 479.71 L99.61 479.70 L100.34 479.68 L101.06 479.65 L101.79 479.62 L102.51 479.59 L103.24 479.54 L103.95 479.49 L104.67 479.43 L105.38 479.36 L106.08 479.28 L106.78 479.19 L107.48 479.09 L108.17 478.98 L108.86 478.86 L109.53 478.73 L110.21 478.59 L110.87 478.44 L111.53 478.28 L112.18 478.10 L112.82 477.91 L113.45 477.70 L114.08 477.49 L114.69 477.26 L115.30 477.01 L115.90 476.75 L116.48 476.47 L117.06 476.18 L117.62 475.88 L118.17 475.55 L118.72 475.21 L119.24 474.85 L119.76 474.48 L120.26 474.09 L120.76 473.68 L121.24 473.26 L121.71 472.82 L122.17 472.36 L122.61 471.89 L123.05 471.41 L123.47 470.92 L123.89 470.41 L124.29 469.89 L124.69 469.35 L125.07 468.81 L125.45 468.25 L125.81 467.69 L126.17 467.11 L126.51 466.52 L126.85 465.93 L127.18 465.33 L127.50 464.72 L127.82 464.10 L128.12 463.47 L128.42 462.84 L128.71 462.20 L128.99 461.55 L129.26 460.90 L129.53 460.25 L129.79 459.59 L130.05 458.93 L130.29 458.26 L130.54 457.59 L130.77 456.92 L131.00 456.25 L131.23 455.58 L131.45 454.90 L131.66 454.22 L131.87 453.55 L132.07 452.87 L132.27 452.19 L132.47 451.50 L132.65 450.82 L132.84 450.14 L133.02 449.45 L133.20 448.77 L133.37 448.08 L133.54 447.39 L133.71 446.71 L133.87 446.02 L134.03 445.33 L134.18 444.64 L134.33 443.95 L134.48 443.26 L134.63 442.56 L134.77 441.87 L134.91 441.18 L135.05 440.49 L135.19 439.79 L135.33 439.10 L135.46 438.41 L135.59 437.71 L135.72 437.02 L135.85 436.32 L135.97 435.63 L136.10 434.94 L136.22 434.24 L136.35 433.55 L136.47 432.85 L136.59 432.16 L136.71 431.47 L136.83 430.77 L136.95 430.08 L137.07 429.39 L137.19 428.69 L137.30 428.00 L137.42 427.31 L137.53 426.61 L137.64 425.92 L137.76 425.23 L137.87 424.53 L137.98 423.84 L138.09 423.15 L138.20 422.45 L138.31 421.76 L138.42 421.07 L138.52 420.38 L138.63 419.68 L138.74 418.99 L138.84 418.30 L138.95 417.61 L139.05 416.91 L139.16 416.22 L139.26 415.53 L139.36 414.84 L139.46 414.14 L139.57 413.45 L139.67 412.76 L139.77 412.07 L139.87 411.38 L139.97 410.69 L140.07 409.99 L140.17 409.30 L140.26 408.61 L140.36 407.92 L140.46 407.23 L140.56 406.54 L140.65 405.85 L140.75 405.15 L140.85 404.46 L140.94 403.77 L141.04 403.08 L141.13 402.39 L141.23 401.70 L141.32 401.01 L141.42 400.32 L141.51 399.63 L141.61 398.94 L141.70 398.25 L141.80 397.56 L141.89 396.86 L141.98 396.17 L142.08 395.48 L142.17 394.79 L142.27 394.10 L142.36 393.41 L142.45 392.72 L142.55 392.03 L142.64 391.34 L142.73 390.65 L142.83 389.96 L142.92 389.27 L143.02 388.58 L143.11 387.90 L143.20 387.21 L143.30 386.52 L143.39 385.83 L143.49 385.14 L143.58 384.45 L143.68 383.76 L143.77 383.07 L143.87 382.38 L143.96 381.69 L144.06 381.00 L144.16 380.31 L144.25 379.62 L144.35 378.94 L144.45 378.25 L144.54 377.56 L144.64 376.87 L144.74 376.18 L144.84 375.49 L144.94 374.80 L145.04 374.12 L145.14 373.43 L145.24 372.74 L145.34 372.05 L145.44 371.36 L145.54 370.67 L145.65 369.99 L145.75 369.30 L145.85 368.61 L145.96 367.92 L146.06 367.24 L146.17 366.55 L146.27 365.86 L146.38 365.17 L146.49 364.48 L146.60 363.80 L146.71 363.11 L146.82 362.42 L146.93 361.73 L147.04 361.05 L147.15 360.36 L147.26 359.67 L147.37 358.99 L147.49 358.30 L147.60 357.61 L147.72 356.92 L147.84 356.24 L147.96 355.55 L148.07 354.86 L148.19 354.18 L148.31 353.49 L148.44 352.80 L148.56 352.12 L148.68 351.43 L148.81 350.74 L148.93 350.06 L149.06 349.37 L149.19 348.69 L149.32 348.00 L149.44 347.31 L149.58 346.63 L149.71 345.94 L149.84 345.25 L149.98 344.57 L150.11 343.88 L150.25 343.20 L150.39 342.51 L150.53 341.82 L150.67 341.14 L150.81 340.45 L150.95 339.77 L151.09 339.08 L151.24 338.40 L151.39 337.71 L151.54 337.03 L151.69 336.34 L151.84 335.65 L151.99 334.97 L152.14 334.28 L152.30 333.60 L152.30 333.60 L154.70 328.10 L157.10 326.60 L160.10 326.90 L163.10 330.50 L163.10 330.50 L163.39 331.14 L163.68 331.78 L163.96 332.42 L164.25 333.07 L164.52 333.71 L164.80 334.35 L165.07 335.00 L165.34 335.64 L165.61 336.29 L165.87 336.94 L166.14 337.58 L166.39 338.23 L166.65 338.88 L166.91 339.53 L167.16 340.18 L167.41 340.83 L167.65 341.48 L167.90 342.13 L168.14 342.79 L168.38 343.44 L168.62 344.09 L168.85 344.75 L169.09 345.40 L169.32 346.05 L169.55 346.71 L169.78 347.37 L170.00 348.02 L170.23 348.68 L170.45 349.34 L170.67 349.99 L170.89 350.65 L171.10 351.31 L171.32 351.97 L171.53 352.63 L171.75 353.29 L171.96 353.95 L172.17 354.61 L172.38 355.27 L172.59 355.94 L172.79 356.60 L173.00 357.26 L173.20 357.92 L173.40 358.59 L173.61 359.25 L173.81 359.92 L174.01 360.58 L174.21 361.25 L174.40 361.91 L174.60 362.58 L174.80 363.24 L175.00 363.91 L175.19 364.58 L175.39 365.24 L175.58 365.91 L175.78 366.58 L175.97 367.24 L176.16 367.91 L176.36 368.58 L176.55 369.25 L176.74 369.92 L176.94 370.59 L177.13 371.26 L177.32 371.92 L177.51 372.59 L177.71 373.26 L177.90 373.93 L178.09 374.60 L178.29 375.27 L178.48 375.94 L178.67 376.61 L178.87 377.29 L179.06 377.96 L179.26 378.63 L179.45 379.30 L179.65 379.97 L179.84 380.64 L180.04 381.31 L180.24 381.98 L180.44 382.66 L180.64 383.33 L180.84 384.00 L181.04 384.67 L181.24 385.34 L181.45 386.01 L181.65 386.69 L181.86 387.36 L182.06 388.03 L182.27 388.70 L182.48 389.37 L182.69 390.05 L182.90 390.72 L183.12 391.39 L183.33 392.06 L183.55 392.73 L183.77 393.40 L183.99 394.08 L184.21 394.75 L184.43 395.42 L184.66 396.09 L184.88 396.76 L185.11 397.43 L185.34 398.11 L185.58 398.78 L185.81 399.45 L186.05 400.12 L186.29 400.79 L186.53 401.46 L186.77 402.13 L187.02 402.79 L187.27 403.46 L187.52 404.13 L187.77 404.79 L188.03 405.46 L188.29 406.12 L188.55 406.78 L188.82 407.44 L189.09 408.10 L189.36 408.76 L189.64 409.41 L189.92 410.06 L190.20 410.72 L190.49 411.36 L190.78 412.01 L191.07 412.65 L191.37 413.30 L191.67 413.93 L191.97 414.57 L192.28 415.20 L192.60 415.83 L192.92 416.46 L193.24 417.09 L193.57 417.71 L193.90 418.32 L194.23 418.94 L194.57 419.55 L194.92 420.15 L195.27 420.76 L195.63 421.36 L195.99 421.95 L196.35 422.54 L196.72 423.13 L197.10 423.71 L197.48 424.29 L197.87 424.86 L198.26 425.43 L198.66 425.99 L199.06 426.55 L199.47 427.10 L199.89 427.65 L200.31 428.20 L200.74 428.73 L201.17 429.27 L201.61 429.79 L202.05 430.31 L202.50 430.83 L202.96 431.34 L203.42 431.85 L203.89 432.34 L204.37 432.84 L204.85 433.32 L205.33 433.80 L205.82 434.28 L206.32 434.75 L206.82 435.21 L207.33 435.67 L207.84 436.12 L208.36 436.56 L208.88 437.00 L209.41 437.43 L209.95 437.85 L210.48 438.27 L211.03 438.68 L211.58 439.09 L212.13 439.48 L212.69 439.87 L213.26 440.26 L213.83 440.64 L214.40 441.01 L214.98 441.37 L215.56 441.73 L216.15 442.08 L216.74 442.43 L217.33 442.76 L217.93 443.10 L218.54 443.42 L219.14 443.74 L219.75 444.06 L220.36 444.37 L220.98 444.67 L221.60 444.96 L222.22 445.25 L222.85 445.54 L223.48 445.82 L224.11 446.09 L224.74 446.36 L225.37 446.62 L226.01 446.88 L226.65 447.13 L227.29 447.37 L227.94 447.61 L228.58 447.85 L229.23 448.08 L229.88 448.30 L230.53 448.52 L231.18 448.74 L231.84 448.95 L232.49 449.15 L233.15 449.35 L233.81 449.55 L234.47 449.74 L235.14 449.92 L235.80 450.10 L236.47 450.28 L237.14 450.45 L237.81 450.62 L238.48 450.78 L239.15 450.94 L239.83 451.10 L240.50 451.25 L241.18 451.39 L241.86 451.54 L242.54 451.68 L243.22 451.81 L243.90 451.94 L244.59 452.07 L245.27 452.19 L245.96 452.31 L246.65 452.43 L247.33 452.54 L248.02 452.65 L248.72 452.76 L249.41 452.86 L250.10 452.96 L250.80 453.06 L251.49 453.15 L252.19 453.24 L252.88 453.33 L253.58 453.41 L254.28 453.50 L254.98 453.57 L255.68 453.65 L256.38 453.72 L257.09 453.80 L257.79 453.86 L258.49 453.93 L259.20 453.99 L259.90 454.05 L260.61 454.11 L261.31 454.17 L262.02 454.22 L262.73 454.28 L263.44 454.33 L264.15 454.37 L264.85 454.42 L265.56 454.46 L266.27 454.51 L266.98 454.55 L267.69 454.59 L268.40 454.63 L269.12 454.66 L269.83 454.70 L270.54 454.73 L271.25 454.76 L271.96 454.79 L272.67 454.82 L273.39 454.85 L274.10 454.88 L274.81 454.90 L275.52 454.93 L276.24 454.95 L276.95 454.98 L277.66 455.00 L278.37 455.02 L279.09 455.04 L279.80 455.06 L280.51 455.08 L281.22 455.10 L281.93 455.12 L282.64 455.14 L283.35 455.16 L284.06 455.18 L284.78 455.20 L285.48 455.22 L286.19 455.24 L286.90 455.26 L287.61 455.27 L288.32 455.29 L289.03 455.31 L289.73 455.33 L290.44 455.35 L291.15 455.37 L291.85 455.39 L292.56 455.41 L293.26 455.44 L293.96 455.46 L294.67 455.48 L295.37 455.51 L296.07 455.53 L296.77 455.56 L297.47 455.58 L298.17 455.61 L298.87 455.64 L299.57 455.66 L300.26 455.69 L300.96 455.72 L301.66 455.75 L302.35 455.78 L303.05 455.81 L303.74 455.84 L304.44 455.87 L305.13 455.90 L305.83 455.94 L306.52 455.97 L307.21 456.00 L307.90 456.03 L308.59 456.07 L309.29 456.10 L309.98 456.13 L310.67 456.17 L311.36 456.20 L312.05 456.23 L312.74 456.27 L313.43 456.30 L314.12 456.34 L314.81 456.37 L315.50 456.41 L316.18 456.44 L316.87 456.47 L317.56 456.51 L318.25 456.54 L318.94 456.58 L319.62 456.61 L320.31 456.65 L321.00 456.68 L321.69 456.71 L322.38 456.75 L323.06 456.78 L323.75 456.81 L324.44 456.85 L325.12 456.88 L325.81 456.91 L326.50 456.94 L327.19 456.98 L327.88 457.01 L328.56 457.04 L329.25 457.07 L329.94 457.10 L330.63 457.13 L331.31 457.16 L332.00 457.19 L332.69 457.21 L333.38 457.24 L334.07 457.27 L334.76 457.30 L335.45 457.32 L336.14 457.35 L336.83 457.37 L337.52 457.40 L338.21 457.42 L338.90 457.44 L339.59 457.46 L340.28 457.48 L340.98 457.50 L341.67 457.52 L342.36 457.54 L343.05 457.56 L343.75 457.58 L344.44 457.59 L345.14 457.61 L345.83 457.62 L346.53 457.64 L347.22 457.65 L347.92 457.66 L348.62 457.67 L349.32 457.68 L350.02 457.69 L350.71 457.69 L351.41 457.70 L352.11 457.70 L352.82 457.71 L353.52 457.71 L354.22 457.71 L354.92 457.71 L355.63 457.71 L356.33 457.71 L357.04 457.70 L357.74 457.70 L358.45 457.69 L359.16 457.68 L359.87 457.67 L360.58 457.66 L361.29 457.65 L362.00 457.64 L362.71 457.62 L363.42 457.61 L364.14 457.59 L364.85 457.57 L365.57 457.55 L366.28 457.52 L367.00 457.50" fill="none" stroke="#00ff00" stroke-width="1.25" stroke-dasharray="4.4 2"/>
<path d="M65.30 479.20 L65.95 479.12 L66.60 479.05 L67.26 478.99 L67.93 478.94 L68.60 478.89 L69.27 478.86 L69.95 478.84 L70.63 478.82 L71.32 478.81 L72.00 478.80 L72.70 478.81 L73.39 478.81 L74.09 478.83 L74.79 478.85 L75.50 478.87 L76.21 478.90 L76.92 478.93 L77.63 478.96 L78.35 479.00 L79.06 479.04 L79.78 479.08 L80.50 479.12 L81.22 479.17 L81.95 479.21 L82.67 479.26 L83.40 479.30 L84.13 479.35 L84.85 479.39 L85.58 479.43 L86.31 479.47 L87.04 479.51 L87.77 479.54 L88.50 479.57 L89.23 479.60 L89.95 479.62 L90.68 479.63 L91.41 479.65 L92.13 479.65 L92.86 479.65 L93.58 479.65 L94.30 479.63 L95.02 479.61 L95.74 479.59 L96.46 479.55 L97.17 479.50 L97.89 479.45 L98.60 479.39 L99.30 479.32 L100.00 479.24 L100.70 479.15 L101.40 479.05 L102.09 478.94 L102.77 478.82 L103.46 478.69 L104.13 478.55 L104.80 478.40 L105.47 478.24 L106.13 478.07 L106.78 477.89 L107.43 477.69 L108.06 477.49 L108.70 477.27 L109.32 477.04 L109.94 476.80 L110.55 476.54 L111.15 476.27 L111.74 475.99 L112.33 475.70 L112.90 475.39 L113.47 475.07 L114.02 474.74 L114.57 474.39 L115.11 474.03 L115.63 473.65 L116.14 473.26 L116.65 472.85 L117.14 472.43 L117.62 471.99 L118.09 471.54 L118.55 471.08 L119.00 470.60 L119.43 470.11 L119.86 469.61 L120.28 469.09 L120.69 468.56 L121.09 468.02 L121.48 467.47 L121.86 466.91 L122.23 466.34 L122.60 465.76 L122.95 465.18 L123.30 464.58 L123.64 463.97 L123.98 463.36 L124.30 462.74 L124.63 462.11 L124.94 461.48 L125.25 460.84 L125.55 460.19 L125.85 459.54 L126.14 458.89 L126.43 458.23 L126.71 457.56 L126.99 456.90 L127.26 456.23 L127.53 455.56 L127.79 454.89 L128.06 454.21 L128.32 453.54 L128.57 452.86 L128.83 452.18 L129.08 451.51 L129.33 450.83 L129.57 450.16 L129.82 449.49 L130.06 448.81 L130.30 448.14 L130.54 447.47 L130.78 446.80 L131.01 446.13 L131.25 445.46 L131.48 444.79 L131.71 444.12 L131.93 443.45 L132.16 442.78 L132.38 442.11 L132.61 441.45 L132.83 440.78 L133.05 440.11 L133.26 439.44 L133.48 438.78 L133.69 438.11 L133.90 437.44 L134.11 436.78 L134.32 436.11 L134.53 435.44 L134.74 434.78 L134.94 434.11 L135.14 433.44 L135.34 432.77 L135.54 432.11 L135.74 431.44 L135.94 430.77 L136.14 430.10 L136.33 429.43 L136.52 428.76 L136.72 428.09 L136.91 427.42 L137.10 426.75 L137.28 426.08 L137.47 425.41 L137.66 424.74 L137.84 424.07 L138.02 423.40 L138.21 422.73 L138.39 422.05 L138.57 421.38 L138.75 420.71 L138.92 420.04 L139.10 419.36 L139.28 418.69 L139.45 418.01 L139.63 417.34 L139.80 416.66 L139.97 415.99 L140.14 415.31 L140.31 414.64 L140.48 413.96 L140.65 413.29 L140.82 412.61 L140.98 411.94 L141.15 411.26 L141.32 410.58 L141.48 409.91 L141.64 409.23 L141.81 408.55 L141.97 407.87 L142.13 407.20 L142.29 406.52 L142.45 405.84 L142.61 405.16 L142.77 404.48 L142.93 403.80 L143.09 403.13 L143.24 402.45 L143.40 401.77 L143.56 401.09 L143.71 400.41 L143.87 399.73 L144.03 399.05 L144.18 398.37 L144.33 397.69 L144.49 397.01 L144.64 396.33 L144.79 395.65 L144.95 394.97 L145.10 394.29 L145.25 393.61 L145.41 392.93 L145.56 392.24 L145.71 391.56 L145.86 390.88 L146.01 390.20 L146.16 389.52 L146.31 388.84 L146.46 388.16 L146.62 387.48 L146.77 386.79 L146.92 386.11 L147.07 385.43 L147.22 384.75 L147.37 384.07 L147.52 383.39 L147.67 382.70 L147.82 382.02 L147.97 381.34 L148.12 380.66 L148.28 379.98 L148.43 379.29 L148.58 378.61 L148.73 377.93 L148.88 377.25 L149.03 376.57 L149.19 375.89 L149.34 375.20 L149.49 374.52 L149.65 373.84 L149.80 373.16 L149.95 372.48 L150.11 371.79 L150.26 371.11 L150.42 370.43 L150.57 369.75 L150.73 369.07 L150.89 368.39 L151.04 367.71 L151.20 367.03 L151.36 366.34 L151.52 365.66 L151.68 364.98 L151.84 364.30 L152.00 363.62 L152.16 362.94 L152.32 362.26 L152.48 361.58 L152.64 360.90 L152.81 360.22 L152.97 359.54 L153.14 358.86 L153.30 358.18 L153.47 357.50 L153.64 356.82 L153.81 356.14 L153.98 355.46 L154.15 354.78 L154.32 354.10 L154.49 353.42 L154.66 352.74 L154.84 352.07 L155.01 351.39 L155.19 350.71 L155.36 350.03 L155.54 349.35 L155.72 348.68 L155.90 348.00 L155.90 348.00 L158.90 341.40 L162.50 338.10 L165.50 341.40 L168.60 346.80 L168.60 346.80 L168.88 347.43 L169.16 348.06 L169.44 348.69 L169.71 349.32 L169.97 349.96 L170.24 350.59 L170.50 351.23 L170.76 351.87 L171.01 352.51 L171.26 353.15 L171.51 353.80 L171.76 354.45 L172.00 355.09 L172.24 355.74 L172.47 356.39 L172.71 357.04 L172.94 357.70 L173.17 358.35 L173.40 359.01 L173.62 359.66 L173.84 360.32 L174.06 360.98 L174.28 361.64 L174.50 362.30 L174.71 362.96 L174.92 363.63 L175.13 364.29 L175.34 364.96 L175.55 365.62 L175.76 366.29 L175.96 366.96 L176.16 367.63 L176.37 368.30 L176.57 368.97 L176.77 369.64 L176.96 370.31 L177.16 370.98 L177.36 371.65 L177.55 372.33 L177.75 373.00 L177.95 373.68 L178.14 374.35 L178.33 375.03 L178.53 375.70 L178.72 376.38 L178.91 377.05 L179.11 377.73 L179.30 378.41 L179.49 379.08 L179.68 379.76 L179.88 380.44 L180.07 381.12 L180.27 381.79 L180.46 382.47 L180.66 383.15 L180.85 383.83 L181.05 384.50 L181.24 385.18 L181.44 385.86 L181.64 386.54 L181.84 387.21 L182.04 387.89 L182.24 388.57 L182.45 389.24 L182.65 389.92 L182.86 390.59 L183.07 391.27 L183.28 391.94 L183.49 392.62 L183.70 393.29 L183.92 393.96 L184.13 394.63 L184.35 395.31 L184.57 395.98 L184.80 396.65 L185.02 397.32 L185.25 397.99 L185.48 398.65 L185.71 399.32 L185.95 399.99 L186.18 400.65 L186.42 401.32 L186.67 401.98 L186.91 402.64 L187.16 403.30 L187.42 403.96 L187.67 404.62 L187.93 405.28 L188.19 405.94 L188.46 406.59 L188.73 407.25 L189.00 407.90 L189.28 408.55 L189.56 409.20 L189.84 409.85 L190.13 410.50 L190.42 411.14 L190.71 411.79 L191.01 412.43 L191.32 413.07 L191.62 413.70 L191.93 414.34 L192.25 414.97 L192.57 415.60 L192.89 416.22 L193.22 416.85 L193.55 417.47 L193.89 418.08 L194.23 418.70 L194.58 419.31 L194.93 419.91 L195.28 420.52 L195.64 421.11 L196.01 421.71 L196.38 422.30 L196.75 422.89 L197.13 423.47 L197.52 424.05 L197.91 424.62 L198.30 425.19 L198.70 425.76 L199.10 426.32 L199.51 426.87 L199.93 427.42 L200.35 427.96 L200.77 428.50 L201.21 429.04 L201.64 429.56 L202.09 430.09 L202.53 430.60 L202.99 431.11 L203.45 431.62 L203.91 432.11 L204.38 432.61 L204.86 433.09 L205.34 433.57 L205.83 434.04 L206.32 434.51 L206.82 434.97 L207.33 435.42 L207.84 435.86 L208.36 436.30 L208.89 436.73 L209.42 437.15 L209.95 437.57 L210.49 437.98 L211.04 438.39 L211.59 438.78 L212.14 439.18 L212.70 439.56 L213.27 439.94 L213.84 440.31 L214.41 440.68 L214.99 441.04 L215.58 441.39 L216.17 441.74 L216.76 442.08 L217.35 442.42 L217.95 442.75 L218.56 443.07 L219.17 443.39 L219.78 443.70 L220.39 444.01 L221.01 444.31 L221.63 444.61 L222.26 444.90 L222.88 445.18 L223.51 445.46 L224.15 445.73 L224.78 446.00 L225.42 446.26 L226.06 446.52 L226.71 446.77 L227.36 447.02 L228.00 447.26 L228.65 447.50 L229.31 447.73 L229.96 447.96 L230.62 448.18 L231.28 448.40 L231.94 448.61 L232.60 448.82 L233.26 449.03 L233.92 449.22 L234.59 449.42 L235.26 449.61 L235.92 449.79 L236.59 449.98 L237.26 450.15 L237.94 450.33 L238.61 450.49 L239.28 450.66 L239.96 450.82 L240.64 450.97 L241.31 451.13 L241.99 451.27 L242.67 451.42 L243.35 451.56 L244.04 451.70 L244.72 451.83 L245.40 451.96 L246.09 452.09 L246.78 452.21 L247.46 452.33 L248.15 452.44 L248.84 452.56 L249.53 452.66 L250.22 452.77 L250.92 452.87 L251.61 452.97 L252.30 453.07 L253.00 453.16 L253.69 453.25 L254.39 453.34 L255.08 453.43 L255.78 453.51 L256.48 453.59 L257.18 453.67 L257.88 453.74 L258.58 453.81 L259.28 453.88 L259.98 453.95 L260.68 454.01 L261.38 454.08 L262.09 454.14 L262.79 454.20 L263.49 454.25 L264.20 454.31 L264.90 454.36 L265.61 454.41 L266.31 454.46 L267.02 454.50 L267.73 454.55 L268.43 454.59 L269.14 454.63 L269.85 454.67 L270.55 454.71 L271.26 454.75 L271.97 454.78 L272.68 454.81 L273.39 454.85 L274.10 454.88 L274.80 454.91 L275.51 454.94 L276.22 454.97 L276.93 454.99 L277.64 455.02 L278.35 455.05 L279.06 455.07 L279.76 455.09 L280.47 455.12 L281.18 455.14 L281.89 455.16 L282.60 455.18 L283.31 455.20 L284.02 455.22 L284.72 455.24 L285.43 455.26 L286.14 455.28 L286.85 455.30 L287.55 455.32 L288.26 455.34 L288.97 455.36 L289.67 455.38 L290.38 455.40 L291.08 455.42 L291.79 455.44 L292.49 455.46 L293.20 455.48 L293.90 455.50 L294.60 455.52 L295.31 455.54 L296.01 455.56 L296.71 455.58 L297.41 455.61 L298.11 455.63 L298.81 455.66 L299.51 455.68 L300.21 455.71 L300.91 455.74 L301.61 455.76 L302.30 455.79 L303.00 455.82 L303.70 455.85 L304.39 455.88 L305.09 455.91 L305.79 455.94 L306.48 455.97 L307.17 456.00 L307.87 456.03 L308.56 456.06 L309.26 456.09 L309.95 456.12 L310.64 456.16 L311.33 456.19 L312.03 456.22 L312.72 456.26 L313.41 456.29 L314.10 456.32 L314.79 456.36 L315.48 456.39 L316.17 456.42 L316.86 456.46 L317.56 456.49 L318.25 456.52 L318.94 456.56 L319.63 456.59 L320.32 456.63 L321.01 456.66 L321.70 456.69 L322.38 456.73 L323.07 456.76 L323.76 456.79 L324.45 456.82 L325.14 456.86 L325.83 456.89 L326.52 456.92 L327.21 456.95 L327.90 456.98 L328.59 457.02 L329.28 457.05 L329.97 457.08 L330.66 457.11 L331.35 457.14 L332.04 457.16 L332.73 457.19 L333.42 457.22 L334.11 457.25 L334.80 457.28 L335.49 457.30 L336.18 457.33 L336.87 457.35 L337.57 457.38 L338.26 457.40 L338.95 457.42 L339.64 457.45 L340.33 457.47 L341.03 457.49 L341.72 457.51 L342.41 457.53 L343.11 457.55 L343.80 457.56 L344.50 457.58 L345.19 457.59 L345.89 457.61 L346.58 457.62 L347.28 457.64 L347.97 457.65 L348.67 457.66 L349.37 457.67 L350.07 457.68 L350.77 457.68 L351.46 457.69 L352.16 457.70 L352.86 457.70 L353.56 457.70 L354.27 457.70 L354.97 457.70 L355.67 457.70 L356.37 457.70 L357.08 457.70 L357.78 457.69 L358.49 457.69 L359.19 457.68 L359.90 457.67 L360.60 457.66 L361.31 457.65 L362.02 457.64 L362.73 457.62 L363.44 457.60 L364.15 457.59 L364.86 457.57 L365.57 457.55 L366.29 457.52 L367.00 457.50" fill="none" stroke="#0000ff" stroke-width="1.25" stroke-dasharray="2.5 3.2"/>
<path d="M65.30 479.00 L65.96 478.92 L66.62 478.85 L67.28 478.78 L67.96 478.72 L68.63 478.66 L69.31 478.60 L69.99 478.54 L70.68 478.49 L71.37 478.44 L72.07 478.39 L72.76 478.34 L73.46 478.30 L74.17 478.25 L74.87 478.21 L75.58 478.17 L76.29 478.13 L77.00 478.08 L77.71 478.04 L78.43 478.00 L79.14 477.95 L79.86 477.91 L80.58 477.86 L81.29 477.81 L82.01 477.76 L82.73 477.71 L83.45 477.66 L84.17 477.60 L84.88 477.54 L85.60 477.48 L86.31 477.41 L87.03 477.34 L87.74 477.26 L88.45 477.18 L89.16 477.10 L89.87 477.01 L90.57 476.92 L91.27 476.81 L91.97 476.71 L92.67 476.60 L93.36 476.48 L94.05 476.35 L94.73 476.22 L95.41 476.08 L96.09 475.94 L96.76 475.78 L97.43 475.62 L98.10 475.45 L98.76 475.27 L99.41 475.08 L100.06 474.88 L100.70 474.67 L101.34 474.46 L101.97 474.23 L102.59 473.99 L103.21 473.75 L103.82 473.49 L104.43 473.22 L105.02 472.94 L105.61 472.64 L106.19 472.34 L106.77 472.02 L107.33 471.69 L107.89 471.35 L108.44 470.99 L108.98 470.62 L109.51 470.24 L110.04 469.84 L110.55 469.43 L111.05 469.01 L111.55 468.57 L112.03 468.11 L112.51 467.64 L112.97 467.16 L113.42 466.66 L113.87 466.14 L114.30 465.61 L114.72 465.07 L115.14 464.51 L115.54 463.94 L115.94 463.37 L116.33 462.78 L116.71 462.18 L117.08 461.56 L117.44 460.95 L117.79 460.32 L118.14 459.68 L118.48 459.04 L118.82 458.39 L119.14 457.73 L119.46 457.07 L119.77 456.40 L120.08 455.73 L120.38 455.05 L120.68 454.37 L120.97 453.69 L121.25 453.01 L121.53 452.32 L121.80 451.63 L122.07 450.95 L122.34 450.26 L122.60 449.57 L122.85 448.89 L123.11 448.20 L123.36 447.52 L123.60 446.85 L123.84 446.17 L124.09 445.50 L124.33 444.84 L124.57 444.18 L124.82 443.52 L125.07 442.87 L125.32 442.23 L125.58 441.60 L125.85 440.98 L126.13 440.36 L126.42 439.75 L126.72 439.16 L127.03 438.57 L127.36 437.99 L127.70 437.43 L128.06 436.88 L128.43 436.34 L128.83 435.81 L129.24 435.30 L129.68 434.80 L130.14 434.31 L130.62 433.84 L131.12 433.38 L131.64 432.94 L132.18 432.50 L132.73 432.08 L133.29 431.66 L133.86 431.25 L134.45 430.84 L135.04 430.44 L135.63 430.04 L136.23 429.64 L136.84 429.25 L137.44 428.85 L138.04 428.45 L138.64 428.05 L139.23 427.65 L139.82 427.24 L140.40 426.83 L140.97 426.41 L141.54 425.98 L142.10 425.55 L142.64 425.11 L143.19 424.67 L143.72 424.22 L144.24 423.76 L144.76 423.30 L145.27 422.83 L145.77 422.36 L146.26 421.88 L146.74 421.39 L147.22 420.90 L147.68 420.40 L148.14 419.89 L148.59 419.38 L149.02 418.86 L149.45 418.34 L149.87 417.81 L150.29 417.27 L150.69 416.72 L151.08 416.17 L151.46 415.61 L151.83 415.05 L152.20 414.47 L152.55 413.89 L152.89 413.31 L153.23 412.71 L153.55 412.11 L153.86 411.50 L154.17 410.89 L154.46 410.27 L154.74 409.64 L155.01 409.00 L155.28 408.36 L155.53 407.71 L155.77 407.05 L156.01 406.39 L156.23 405.72 L156.45 405.05 L156.66 404.37 L156.87 403.69 L157.06 403.01 L157.26 402.32 L157.44 401.63 L157.62 400.93 L157.80 400.24 L157.97 399.54 L158.14 398.84 L158.31 398.14 L158.47 397.43 L158.63 396.73 L158.79 396.03 L158.94 395.33 L159.10 394.63 L159.25 393.93 L159.41 393.23 L159.56 392.53 L159.72 391.84 L159.88 391.15 L160.03 390.46 L160.19 389.78 L160.36 389.10 L160.52 388.42 L160.69 387.75 L160.86 387.08 L161.04 386.42 L161.22 385.76 L161.41 385.11 L161.60 384.47 L161.80 383.83 L162.00 383.20 L162.21 382.57 L162.43 381.95 L162.65 381.32 L162.88 380.69 L163.11 380.07 L163.35 379.43 L163.60 378.80 L163.86 378.16 L164.12 377.51 L164.38 376.86 L164.66 376.19 L164.94 375.52 L165.22 374.83 L165.52 374.13 L165.82 373.41 L166.13 372.69 L166.45 371.96 L166.77 371.24 L167.11 370.53 L167.46 369.84 L167.82 369.17 L168.19 368.53 L168.57 367.92 L168.97 367.36 L169.38 366.85 L169.81 366.39 L170.26 366.00 L170.72 365.67 L171.20 365.42 L171.70 365.26 L172.21 365.18 L172.75 365.19 L173.29 365.29 L173.83 365.47 L174.35 365.73 L174.86 366.06 L175.33 366.46 L175.75 366.92 L176.13 367.43 L176.46 367.99 L176.75 368.60 L177.01 369.24 L177.24 369.91 L177.45 370.61 L177.65 371.32 L177.84 372.04 L178.02 372.77 L178.21 373.50 L178.40 374.22 L178.60 374.95 L178.79 375.67 L178.99 376.39 L179.20 377.10 L179.40 377.82 L179.61 378.53 L179.82 379.23 L180.04 379.94 L180.25 380.63 L180.47 381.32 L180.69 382.01 L180.92 382.69 L181.15 383.37 L181.38 384.04 L181.61 384.70 L181.84 385.36 L182.08 386.01 L182.32 386.66 L182.56 387.30 L182.81 387.94 L183.05 388.57 L183.30 389.19 L183.55 389.82 L183.81 390.44 L184.06 391.06 L184.32 391.67 L184.57 392.29 L184.83 392.90 L185.10 393.51 L185.36 394.11 L185.62 394.72 L185.89 395.33 L186.16 395.93 L186.43 396.54 L186.70 397.15 L186.97 397.75 L187.24 398.36 L187.51 398.97 L187.79 399.58 L188.06 400.20 L188.34 400.82 L188.62 401.43 L188.90 402.06 L189.18 402.68 L189.45 403.31 L189.73 403.95 L190.02 404.59 L190.30 405.23 L190.58 405.88 L190.86 406.53 L191.14 407.19 L191.43 407.85 L191.72 408.51 L192.00 409.18 L192.29 409.84 L192.58 410.51 L192.88 411.18 L193.17 411.85 L193.47 412.53 L193.77 413.20 L194.07 413.87 L194.38 414.55 L194.68 415.22 L195.00 415.89 L195.31 416.56 L195.63 417.23 L195.95 417.90 L196.27 418.57 L196.60 419.23 L196.93 419.89 L197.27 420.55 L197.61 421.20 L197.96 421.85 L198.31 422.50 L198.66 423.14 L199.02 423.77 L199.39 424.40 L199.76 425.03 L200.13 425.65 L200.51 426.26 L200.90 426.87 L201.29 427.47 L201.69 428.06 L202.09 428.64 L202.50 429.22 L202.92 429.79 L203.34 430.35 L203.77 430.90 L204.21 431.44 L204.66 431.97 L205.11 432.49 L205.57 433.01 L206.03 433.51 L206.50 434.00 L206.98 434.49 L207.46 434.97 L207.96 435.43 L208.45 435.89 L208.96 436.34 L209.46 436.78 L209.98 437.22 L210.50 437.64 L211.03 438.06 L211.56 438.47 L212.10 438.87 L212.64 439.26 L213.19 439.64 L213.75 440.02 L214.31 440.39 L214.87 440.75 L215.44 441.11 L216.01 441.45 L216.59 441.79 L217.18 442.13 L217.77 442.45 L218.36 442.77 L218.96 443.08 L219.56 443.39 L220.17 443.69 L220.78 443.98 L221.39 444.27 L222.01 444.55 L222.63 444.82 L223.26 445.09 L223.89 445.35 L224.53 445.61 L225.16 445.86 L225.80 446.10 L226.45 446.34 L227.10 446.57 L227.75 446.80 L228.40 447.03 L229.06 447.24 L229.72 447.46 L230.38 447.66 L231.04 447.87 L231.71 448.07 L232.38 448.26 L233.05 448.45 L233.73 448.63 L234.40 448.82 L235.08 448.99 L235.76 449.16 L236.45 449.33 L237.13 449.50 L237.82 449.66 L238.50 449.82 L239.19 449.97 L239.89 450.12 L240.58 450.27 L241.27 450.41 L241.97 450.55 L242.66 450.69 L243.36 450.82 L244.06 450.95 L244.76 451.08 L245.45 451.21 L246.15 451.33 L246.86 451.45 L247.56 451.57 L248.26 451.69 L248.96 451.80 L249.66 451.91 L250.36 452.02 L251.06 452.13 L251.76 452.24 L252.47 452.35 L253.17 452.45 L253.87 452.55 L254.57 452.65 L255.27 452.75 L255.97 452.85 L256.67 452.94 L257.37 453.04 L258.07 453.13 L258.77 453.22 L259.47 453.31 L260.17 453.40 L260.87 453.48 L261.57 453.57 L262.27 453.65 L262.97 453.73 L263.67 453.81 L264.37 453.89 L265.07 453.97 L265.77 454.04 L266.46 454.12 L267.16 454.19 L267.86 454.26 L268.56 454.33 L269.26 454.40 L269.96 454.47 L270.66 454.53 L271.35 454.60 L272.05 454.66 L272.75 454.72 L273.45 454.78 L274.15 454.84 L274.84 454.90 L275.54 454.96 L276.24 455.01 L276.94 455.07 L277.63 455.12 L278.33 455.18 L279.03 455.23 L279.73 455.28 L280.42 455.33 L281.12 455.37 L281.82 455.42 L282.52 455.47 L283.21 455.51 L283.91 455.55 L284.61 455.60 L285.30 455.64 L286.00 455.68 L286.70 455.72 L287.39 455.76 L288.09 455.80 L288.79 455.83 L289.48 455.87 L290.18 455.90 L290.88 455.94 L291.57 455.97 L292.27 456.00 L292.97 456.03 L293.66 456.06 L294.36 456.09 L295.06 456.12 L295.75 456.15 L296.45 456.18 L297.15 456.21 L297.84 456.23 L298.54 456.26 L299.23 456.28 L299.93 456.30 L300.63 456.33 L301.32 456.35 L302.02 456.37 L302.72 456.39 L303.41 456.41 L304.11 456.43 L304.80 456.45 L305.50 456.47 L306.20 456.49 L306.89 456.51 L307.59 456.52 L308.29 456.54 L308.98 456.55 L309.68 456.57 L310.37 456.58 L311.07 456.60 L311.77 456.61 L312.46 456.63 L313.16 456.64 L313.86 456.65 L314.55 456.66 L315.25 456.68 L315.95 456.69 L316.64 456.70 L317.34 456.71 L318.04 456.72 L318.73 456.73 L319.43 456.74 L320.13 456.75 L320.82 456.76 L321.52 456.77 L322.22 456.77 L322.91 456.78 L323.61 456.79 L324.31 456.80 L325.01 456.81 L325.70 456.81 L326.40 456.82 L327.10 456.83 L327.79 456.84 L328.49 456.84 L329.19 456.85 L329.89 456.86 L330.58 456.87 L331.28 456.87 L331.98 456.88 L332.68 456.89 L333.38 456.89 L334.07 456.90 L334.77 456.91 L335.47 456.91 L336.17 456.92 L336.87 456.93 L337.56 456.93 L338.26 456.94 L338.96 456.95 L339.66 456.96 L340.36 456.96 L341.06 456.97 L341.76 456.98 L342.46 456.99 L343.16 457.00 L343.85 457.00 L344.55 457.01 L345.25 457.02 L345.95 457.03 L346.65 457.04 L347.35 457.05 L348.05 457.06 L348.75 457.07 L349.45 457.08 L350.15 457.09 L350.85 457.11 L351.55 457.12 L352.25 457.13 L352.96 457.14 L353.66 457.15 L354.36 457.17 L355.06 457.18 L355.76 457.20 L356.46 457.21 L357.16 457.23 L357.86 457.24 L358.57 457.26 L359.27 457.28 L359.97 457.29 L360.67 457.31 L361.38 457.33 L362.08 457.35 L362.78 457.37 L363.48 457.39 L364.19 457.41 L364.89 457.43 L365.59 457.45 L366.30 457.48 L367.00 457.50" fill="none" stroke="#ff00ff" stroke-width="1.25" stroke-dasharray="1.2 1.3"/>
<path d="M65.30 479.30 L66.05 479.58 L66.80 479.83 L67.54 480.07 L68.28 480.28 L69.02 480.47 L69.75 480.63 L70.47 480.78 L71.20 480.90 L71.92 481.01 L72.63 481.09 L73.34 481.15 L74.04 481.20 L74.74 481.22 L75.44 481.22 L76.13 481.21 L76.82 481.18 L77.50 481.12 L78.17 481.05 L78.84 480.96 L79.51 480.86 L80.17 480.73 L80.83 480.59 L81.48 480.43 L82.12 480.26 L82.76 480.07 L83.39 479.86 L84.02 479.64 L84.64 479.40 L85.25 479.14 L85.86 478.88 L86.47 478.59 L87.06 478.29 L87.65 477.98 L88.24 477.66 L88.81 477.32 L89.39 476.96 L89.95 476.60 L90.51 476.22 L91.06 475.83 L91.61 475.42 L92.14 475.01 L92.67 474.58 L93.20 474.14 L93.72 473.69 L94.22 473.23 L94.73 472.76 L95.22 472.28 L95.71 471.79 L96.19 471.29 L96.66 470.78 L97.13 470.26 L97.58 469.73 L98.03 469.19 L98.47 468.64 L98.91 468.09 L99.33 467.53 L99.75 466.96 L100.16 466.38 L100.56 465.80 L100.95 465.21 L101.34 464.61 L101.71 464.01 L102.08 463.40 L102.44 462.79 L102.79 462.17 L103.13 461.55 L103.46 460.92 L103.78 460.28 L104.09 459.65 L104.40 459.00 L104.69 458.36 L104.98 457.71 L105.25 457.06 L105.52 456.40 L105.78 455.75 L106.03 455.09 L106.27 454.43 L106.50 453.76 L106.72 453.10 L106.95 452.43 L107.16 451.77 L107.38 451.10 L107.60 450.44 L107.81 449.77 L108.03 449.11 L108.26 448.44 L108.48 447.78 L108.72 447.12 L108.96 446.46 L109.21 445.81 L109.47 445.16 L109.75 444.51 L110.03 443.86 L110.33 443.22 L110.65 442.58 L110.99 441.95 L111.34 441.32 L111.71 440.70 L112.10 440.09 L112.51 439.49 L112.94 438.90 L113.39 438.33 L113.85 437.77 L114.34 437.24 L114.84 436.73 L115.36 436.25 L115.90 435.79 L116.46 435.37 L117.03 434.97 L117.62 434.61 L118.23 434.29 L118.86 434.01 L119.50 433.77 L120.16 433.58 L120.83 433.43 L121.51 433.32 L122.20 433.25 L122.89 433.23 L123.57 433.25 L124.25 433.31 L124.92 433.41 L125.58 433.55 L126.23 433.73 L126.85 433.95 L127.45 434.21 L128.03 434.51 L128.58 434.84 L129.11 435.21 L129.63 435.60 L130.13 436.03 L130.61 436.48 L131.09 436.95 L131.55 437.44 L132.01 437.95 L132.47 438.47 L132.92 439.01 L133.37 439.55 L133.83 440.11 L134.29 440.66 L134.75 441.22 L135.23 441.78 L135.71 442.33 L136.21 442.88 L136.73 443.41 L137.26 443.94 L137.80 444.46 L138.36 444.96 L138.94 445.45 L139.52 445.93 L140.12 446.39 L140.73 446.84 L141.35 447.27 L141.98 447.68 L142.61 448.08 L143.25 448.46 L143.90 448.81 L144.55 449.15 L145.20 449.46 L145.86 449.75 L146.52 450.02 L147.18 450.27 L147.84 450.49 L148.51 450.68 L149.16 450.85 L149.82 450.99 L150.47 451.10 L151.12 451.18 L151.76 451.23 L152.39 451.25 L153.02 451.24 L153.64 451.20 L154.25 451.12 L154.85 451.01 L155.44 450.86 L156.01 450.68 L156.57 450.46 L157.12 450.20 L157.66 449.91 L158.18 449.59 L158.69 449.24 L159.19 448.85 L159.68 448.44 L160.15 447.99 L160.61 447.53 L161.06 447.03 L161.50 446.52 L161.93 445.98 L162.35 445.42 L162.76 444.83 L163.15 444.24 L163.54 443.62 L163.91 442.99 L164.28 442.34 L164.63 441.68 L164.98 441.01 L165.32 440.33 L165.64 439.63 L165.96 438.93 L166.27 438.23 L166.57 437.52 L166.86 436.80 L167.15 436.08 L167.42 435.36 L167.69 434.64 L167.95 433.93 L168.20 433.21 L168.45 432.50 L168.69 431.79 L168.92 431.09 L169.14 430.40 L169.36 429.72 L169.57 429.04 L169.78 428.38 L169.98 427.72 L170.18 427.07 L170.37 426.42 L170.56 425.78 L170.74 425.14 L170.92 424.51 L171.10 423.88 L171.27 423.26 L171.44 422.63 L171.61 422.01 L171.78 421.39 L171.94 420.78 L172.11 420.16 L172.28 419.54 L172.44 418.92 L172.61 418.30 L172.77 417.68 L172.94 417.06 L173.11 416.43 L173.27 415.80 L173.45 415.17 L173.62 414.53 L173.80 413.88 L173.98 413.23 L174.16 412.58 L174.35 411.91 L174.54 411.24 L174.74 410.56 L174.94 409.87 L175.14 409.18 L175.36 408.47 L175.57 407.75 L175.80 407.02 L176.03 406.28 L176.27 405.54 L176.52 404.78 L176.77 404.02 L177.03 403.26 L177.30 402.50 L177.57 401.74 L177.85 400.99 L178.14 400.25 L178.44 399.51 L178.75 398.79 L179.06 398.09 L179.38 397.40 L179.71 396.73 L180.05 396.08 L180.40 395.46 L180.75 394.87 L181.12 394.30 L181.49 393.77 L181.87 393.27 L182.26 392.81 L182.66 392.38 L183.06 392.00 L183.48 391.66 L183.91 391.37 L184.34 391.13 L184.79 390.94 L185.24 390.80 L185.70 390.71 L186.17 390.68 L186.64 390.71 L187.11 390.79 L187.58 390.94 L188.05 391.13 L188.52 391.39 L188.98 391.71 L189.43 392.08 L189.88 392.50 L190.32 392.96 L190.75 393.45 L191.17 393.98 L191.58 394.54 L191.98 395.11 L192.38 395.69 L192.76 396.29 L193.13 396.90 L193.49 397.52 L193.85 398.15 L194.20 398.78 L194.54 399.43 L194.87 400.08 L195.20 400.73 L195.52 401.39 L195.84 402.05 L196.16 402.72 L196.47 403.39 L196.79 404.05 L197.09 404.72 L197.40 405.39 L197.71 406.05 L198.02 406.71 L198.33 407.37 L198.64 408.02 L198.95 408.67 L199.26 409.31 L199.58 409.95 L199.89 410.59 L200.21 411.22 L200.52 411.85 L200.84 412.48 L201.17 413.10 L201.49 413.72 L201.82 414.34 L202.14 414.95 L202.48 415.56 L202.81 416.17 L203.14 416.77 L203.48 417.37 L203.82 417.97 L204.17 418.56 L204.52 419.15 L204.87 419.74 L205.22 420.32 L205.58 420.91 L205.94 421.49 L206.31 422.06 L206.68 422.64 L207.05 423.21 L207.43 423.78 L207.82 424.35 L208.20 424.91 L208.59 425.48 L208.99 426.04 L209.39 426.59 L209.80 427.15 L210.21 427.70 L210.63 428.26 L211.05 428.81 L211.48 429.35 L211.91 429.90 L212.35 430.44 L212.80 430.98 L213.25 431.52 L213.70 432.06 L214.16 432.59 L214.63 433.12 L215.10 433.65 L215.58 434.17 L216.07 434.69 L216.55 435.21 L217.05 435.72 L217.55 436.22 L218.05 436.72 L218.56 437.22 L219.08 437.71 L219.60 438.19 L220.12 438.67 L220.65 439.15 L221.19 439.61 L221.73 440.07 L222.28 440.52 L222.83 440.97 L223.38 441.41 L223.94 441.84 L224.51 442.26 L225.08 442.68 L225.65 443.08 L226.23 443.48 L226.81 443.87 L227.40 444.25 L227.99 444.62 L228.59 444.99 L229.19 445.34 L229.80 445.68 L230.41 446.01 L231.03 446.33 L231.65 446.64 L232.27 446.94 L232.90 447.23 L233.53 447.51 L234.17 447.77 L234.81 448.03 L235.46 448.28 L236.11 448.52 L236.76 448.74 L237.41 448.96 L238.07 449.17 L238.73 449.37 L239.40 449.57 L240.06 449.75 L240.73 449.93 L241.41 450.10 L242.08 450.26 L242.76 450.42 L243.44 450.57 L244.12 450.72 L244.81 450.86 L245.49 450.99 L246.18 451.12 L246.87 451.24 L247.56 451.36 L248.25 451.48 L248.94 451.59 L249.63 451.70 L250.33 451.80 L251.02 451.90 L251.72 452.00 L252.42 452.10 L253.11 452.19 L253.81 452.29 L254.51 452.38 L255.20 452.47 L255.90 452.56 L256.60 452.65 L257.29 452.73 L257.99 452.82 L258.69 452.90 L259.38 452.99 L260.08 453.07 L260.78 453.15 L261.48 453.23 L262.17 453.31 L262.87 453.38 L263.57 453.46 L264.26 453.53 L264.96 453.61 L265.66 453.68 L266.36 453.75 L267.05 453.82 L267.75 453.89 L268.45 453.96 L269.15 454.02 L269.84 454.09 L270.54 454.15 L271.24 454.22 L271.94 454.28 L272.63 454.34 L273.33 454.40 L274.03 454.46 L274.73 454.52 L275.42 454.57 L276.12 454.63 L276.82 454.69 L277.52 454.74 L278.22 454.79 L278.91 454.85 L279.61 454.90 L280.31 454.95 L281.01 455.00 L281.70 455.05 L282.40 455.09 L283.10 455.14 L283.80 455.19 L284.50 455.23 L285.19 455.28 L285.89 455.32 L286.59 455.36 L287.29 455.41 L287.99 455.45 L288.69 455.49 L289.38 455.53 L290.08 455.56 L290.78 455.60 L291.48 455.64 L292.18 455.68 L292.87 455.71 L293.57 455.75 L294.27 455.78 L294.97 455.82 L295.67 455.85 L296.37 455.88 L297.07 455.91 L297.76 455.94 L298.46 455.97 L299.16 456.00 L299.86 456.03 L300.56 456.06 L301.26 456.09 L301.96 456.11 L302.65 456.14 L303.35 456.17 L304.05 456.19 L304.75 456.22 L305.45 456.24 L306.15 456.27 L306.85 456.29 L307.55 456.31 L308.24 456.33 L308.94 456.36 L309.64 456.38 L310.34 456.40 L311.04 456.42 L311.74 456.44 L312.44 456.46 L313.14 456.48 L313.84 456.50 L314.53 456.51 L315.23 456.53 L315.93 456.55 L316.63 456.57 L317.33 456.58 L318.03 456.60 L318.73 456.62 L319.43 456.63 L320.13 456.65 L320.83 456.66 L321.53 456.68 L322.22 456.69 L322.92 456.70 L323.62 456.72 L324.32 456.73 L325.02 456.75 L325.72 456.76 L326.42 456.77 L327.12 456.78 L327.82 456.80 L328.52 456.81 L329.22 456.82 L329.92 456.83 L330.62 456.85 L331.32 456.86 L332.01 456.87 L332.71 456.88 L333.41 456.89 L334.11 456.90 L334.81 456.91 L335.51 456.92 L336.21 456.94 L336.91 456.95 L337.61 456.96 L338.31 456.97 L339.01 456.98 L339.71 456.99 L340.41 457.00 L341.11 457.01 L341.81 457.02 L342.51 457.03 L343.21 457.04 L343.91 457.05 L344.61 457.06 L345.31 457.08 L346.01 457.09 L346.71 457.10 L347.41 457.11 L348.10 457.12 L348.80 457.13 L349.50 457.14 L350.20 457.15 L350.90 457.17 L351.60 457.18 L352.30 457.19 L353.00 457.20 L353.70 457.21 L354.40 457.23 L355.10 457.24 L355.80 457.25 L356.50 457.27 L357.20 457.28 L357.90 457.29 L358.60 457.31 L359.30 457.32 L360.00 457.34 L360.70 457.35 L361.40 457.37 L362.10 457.38 L362.80 457.40 L363.50 457.41 L364.20 457.43 L364.90 457.45 L365.60 457.46 L366.30 457.48 L367.00 457.50" fill="none" stroke="#00ffff" stroke-width="1.25" stroke-dasharray="5.6 2.2 1.2 2"/>
<path d="M65.30 479.00 L65.99 479.11 L66.68 479.19 L67.38 479.25 L68.08 479.28 L68.78 479.29 L69.48 479.28 L70.18 479.24 L70.88 479.18 L71.58 479.10 L72.28 479.00 L72.97 478.87 L73.67 478.73 L74.36 478.57 L75.05 478.39 L75.73 478.18 L76.41 477.96 L77.08 477.73 L77.75 477.47 L78.41 477.20 L79.06 476.91 L79.71 476.60 L80.35 476.28 L80.98 475.95 L81.60 475.59 L82.21 475.23 L82.81 474.85 L83.40 474.46 L83.98 474.05 L84.55 473.64 L85.11 473.21 L85.65 472.77 L86.18 472.32 L86.70 471.85 L87.20 471.38 L87.68 470.90 L88.15 470.41 L88.61 469.91 L89.05 469.41 L89.47 468.89 L89.88 468.37 L90.28 467.84 L90.66 467.30 L91.03 466.75 L91.39 466.20 L91.74 465.64 L92.08 465.07 L92.41 464.49 L92.73 463.91 L93.04 463.32 L93.35 462.73 L93.64 462.12 L93.93 461.52 L94.22 460.90 L94.50 460.28 L94.78 459.66 L95.05 459.02 L95.32 458.39 L95.59 457.75 L95.85 457.10 L96.12 456.45 L96.38 455.79 L96.65 455.13 L96.91 454.46 L97.18 453.79 L97.45 453.11 L97.72 452.43 L97.99 451.75 L98.27 451.06 L98.56 450.37 L98.85 449.68 L99.14 448.98 L99.45 448.28 L99.76 447.58 L100.07 446.87 L100.40 446.17 L100.73 445.47 L101.07 444.77 L101.42 444.08 L101.77 443.40 L102.13 442.72 L102.50 442.05 L102.88 441.40 L103.26 440.76 L103.65 440.13 L104.05 439.53 L104.46 438.94 L104.87 438.37 L105.30 437.82 L105.73 437.29 L106.17 436.79 L106.61 436.32 L107.07 435.87 L107.53 435.46 L108.00 435.07 L108.47 434.72 L108.96 434.40 L109.45 434.12 L109.96 433.88 L110.47 433.67 L110.98 433.51 L111.51 433.39 L112.04 433.31 L112.59 433.28 L113.14 433.30 L113.69 433.37 L114.26 433.48 L114.83 433.64 L115.41 433.84 L115.99 434.08 L116.58 434.36 L117.16 434.67 L117.75 435.01 L118.34 435.38 L118.92 435.78 L119.51 436.20 L120.09 436.65 L120.66 437.11 L121.23 437.59 L121.79 438.08 L122.35 438.58 L122.89 439.10 L123.43 439.61 L123.96 440.14 L124.48 440.67 L124.99 441.20 L125.50 441.73 L126.01 442.27 L126.51 442.81 L127.01 443.34 L127.50 443.87 L128.00 444.40 L128.49 444.93 L128.99 445.45 L129.49 445.97 L129.99 446.47 L130.50 446.97 L131.00 447.46 L131.51 447.94 L132.03 448.42 L132.55 448.88 L133.07 449.34 L133.60 449.78 L134.13 450.22 L134.67 450.65 L135.21 451.07 L135.75 451.48 L136.30 451.89 L136.86 452.28 L137.42 452.66 L137.99 453.04 L138.56 453.40 L139.14 453.76 L139.72 454.11 L140.31 454.44 L140.91 454.77 L141.51 455.09 L142.12 455.40 L142.73 455.70 L143.36 455.99 L143.99 456.26 L144.62 456.53 L145.27 456.79 L145.92 457.04 L146.58 457.28 L147.24 457.51 L147.92 457.73 L148.60 457.93 L149.29 458.13 L149.99 458.32 L150.69 458.49 L151.40 458.65 L152.12 458.81 L152.84 458.94 L153.56 459.07 L154.28 459.18 L155.01 459.27 L155.73 459.35 L156.46 459.41 L157.18 459.46 L157.90 459.48 L158.62 459.49 L159.33 459.48 L160.03 459.46 L160.73 459.41 L161.42 459.34 L162.10 459.25 L162.77 459.14 L163.43 459.00 L164.08 458.85 L164.72 458.67 L165.34 458.46 L165.95 458.23 L166.54 457.98 L167.11 457.70 L167.67 457.39 L168.21 457.05 L168.73 456.69 L169.23 456.30 L169.71 455.88 L170.17 455.43 L170.60 454.95 L171.02 454.45 L171.42 453.93 L171.80 453.39 L172.17 452.82 L172.52 452.24 L172.86 451.63 L173.18 451.02 L173.49 450.39 L173.79 449.75 L174.09 449.10 L174.37 448.43 L174.64 447.77 L174.91 447.09 L175.17 446.42 L175.42 445.74 L175.67 445.06 L175.92 444.38 L176.17 443.70 L176.41 443.03 L176.66 442.36 L176.90 441.70 L177.15 441.05 L177.39 440.39 L177.63 439.75 L177.87 439.10 L178.11 438.46 L178.35 437.81 L178.58 437.17 L178.81 436.53 L179.04 435.88 L179.27 435.24 L179.49 434.59 L179.71 433.94 L179.92 433.28 L180.13 432.63 L180.33 431.96 L180.53 431.29 L180.72 430.62 L180.91 429.94 L181.10 429.26 L181.29 428.57 L181.48 427.89 L181.66 427.20 L181.85 426.51 L182.03 425.81 L182.22 425.12 L182.41 424.42 L182.60 423.73 L182.79 423.03 L182.98 422.34 L183.19 421.65 L183.39 420.95 L183.60 420.26 L183.82 419.58 L184.04 418.89 L184.27 418.21 L184.50 417.53 L184.75 416.85 L185.00 416.18 L185.26 415.51 L185.54 414.85 L185.82 414.19 L186.11 413.54 L186.42 412.89 L186.74 412.26 L187.07 411.62 L187.41 411.00 L187.77 410.38 L188.15 409.77 L188.54 409.17 L188.94 408.58 L189.36 408.00 L189.80 407.44 L190.25 406.89 L190.71 406.36 L191.18 405.85 L191.67 405.37 L192.17 404.92 L192.68 404.50 L193.19 404.12 L193.72 403.77 L194.25 403.47 L194.78 403.22 L195.32 403.02 L195.87 402.86 L196.42 402.77 L196.97 402.73 L197.52 402.75 L198.08 402.83 L198.63 402.96 L199.18 403.15 L199.73 403.38 L200.28 403.66 L200.82 403.97 L201.36 404.33 L201.89 404.72 L202.42 405.14 L202.94 405.59 L203.45 406.07 L203.95 406.56 L204.44 407.08 L204.92 407.61 L205.39 408.15 L205.85 408.70 L206.29 409.26 L206.72 409.83 L207.15 410.40 L207.56 410.98 L207.96 411.57 L208.35 412.16 L208.74 412.76 L209.12 413.37 L209.49 413.97 L209.85 414.59 L210.21 415.20 L210.56 415.82 L210.91 416.44 L211.26 417.06 L211.60 417.69 L211.94 418.32 L212.28 418.94 L212.61 419.57 L212.95 420.20 L213.29 420.83 L213.62 421.45 L213.96 422.08 L214.30 422.70 L214.64 423.32 L214.99 423.94 L215.34 424.55 L215.70 425.16 L216.06 425.77 L216.42 426.37 L216.80 426.97 L217.18 427.56 L217.56 428.15 L217.96 428.73 L218.36 429.30 L218.78 429.87 L219.20 430.43 L219.63 430.98 L220.08 431.52 L220.53 432.06 L220.98 432.59 L221.45 433.11 L221.92 433.63 L222.40 434.14 L222.89 434.64 L223.39 435.14 L223.89 435.62 L224.41 436.10 L224.92 436.58 L225.45 437.04 L225.98 437.50 L226.52 437.95 L227.06 438.39 L227.61 438.82 L228.17 439.25 L228.73 439.67 L229.30 440.08 L229.87 440.49 L230.45 440.88 L231.03 441.27 L231.62 441.65 L232.21 442.02 L232.81 442.39 L233.41 442.74 L234.02 443.09 L234.63 443.43 L235.25 443.76 L235.86 444.09 L236.49 444.40 L237.11 444.71 L237.74 445.01 L238.37 445.30 L239.00 445.58 L239.64 445.86 L240.28 446.13 L240.92 446.39 L241.57 446.64 L242.22 446.89 L242.87 447.12 L243.52 447.36 L244.18 447.58 L244.83 447.80 L245.49 448.01 L246.16 448.22 L246.82 448.42 L247.49 448.62 L248.15 448.80 L248.82 448.99 L249.50 449.17 L250.17 449.34 L250.84 449.51 L251.52 449.68 L252.20 449.84 L252.88 449.99 L253.56 450.15 L254.24 450.29 L254.92 450.44 L255.60 450.58 L256.29 450.72 L256.97 450.85 L257.66 450.99 L258.34 451.11 L259.03 451.24 L259.72 451.37 L260.40 451.49 L261.09 451.61 L261.78 451.73 L262.47 451.84 L263.16 451.96 L263.85 452.07 L264.54 452.18 L265.22 452.29 L265.91 452.40 L266.60 452.50 L267.29 452.61 L267.98 452.71 L268.67 452.81 L269.36 452.91 L270.06 453.01 L270.75 453.10 L271.44 453.20 L272.13 453.29 L272.82 453.38 L273.51 453.47 L274.20 453.56 L274.90 453.65 L275.59 453.73 L276.28 453.82 L276.97 453.90 L277.67 453.98 L278.36 454.06 L279.05 454.14 L279.74 454.21 L280.44 454.29 L281.13 454.36 L281.83 454.43 L282.52 454.50 L283.21 454.57 L283.91 454.64 L284.60 454.71 L285.30 454.77 L285.99 454.84 L286.69 454.90 L287.38 454.96 L288.08 455.02 L288.77 455.08 L289.47 455.14 L290.16 455.20 L290.86 455.25 L291.55 455.31 L292.25 455.36 L292.94 455.41 L293.64 455.47 L294.34 455.52 L295.03 455.56 L295.73 455.61 L296.43 455.66 L297.12 455.71 L297.82 455.75 L298.52 455.79 L299.21 455.84 L299.91 455.88 L300.61 455.92 L301.31 455.96 L302.00 456.00 L302.70 456.04 L303.40 456.07 L304.10 456.11 L304.79 456.14 L305.49 456.18 L306.19 456.21 L306.89 456.24 L307.59 456.28 L308.28 456.31 L308.98 456.34 L309.68 456.37 L310.38 456.39 L311.08 456.42 L311.78 456.45 L312.47 456.48 L313.17 456.50 L313.87 456.53 L314.57 456.55 L315.27 456.57 L315.97 456.60 L316.67 456.62 L317.37 456.64 L318.07 456.66 L318.77 456.68 L319.46 456.70 L320.16 456.72 L320.86 456.74 L321.56 456.76 L322.26 456.78 L322.96 456.79 L323.66 456.81 L324.36 456.83 L325.06 456.84 L325.76 456.86 L326.46 456.87 L327.16 456.89 L327.86 456.90 L328.56 456.92 L329.26 456.93 L329.96 456.94 L330.66 456.95 L331.36 456.97 L332.06 456.98 L332.76 456.99 L333.45 457.00 L334.15 457.01 L334.85 457.02 L335.55 457.03 L336.25 457.04 L336.95 457.05 L337.65 457.06 L338.35 457.07 L339.05 457.08 L339.75 457.09 L340.45 457.10 L341.15 457.11 L341.85 457.12 L342.55 457.13 L343.25 457.14 L343.95 457.15 L344.65 457.16 L345.35 457.17 L346.05 457.17 L346.75 457.18 L347.45 457.19 L348.14 457.20 L348.84 457.21 L349.54 457.22 L350.24 457.23 L350.94 457.24 L351.64 457.25 L352.34 457.25 L353.04 457.26 L353.74 457.27 L354.44 457.28 L355.13 457.29 L355.83 457.30 L356.53 457.31 L357.23 457.32 L357.93 457.33 L358.63 457.34 L359.32 457.36 L360.02 457.37 L360.72 457.38 L361.42 457.39 L362.12 457.40 L362.81 457.42 L363.51 457.43 L364.21 457.44 L364.91 457.46 L365.61 457.47 L366.30 457.48 L367.00 457.50" fill="none" stroke="#000000" stroke-width="1.25" stroke-dasharray="2.7 1.6 2.7 3.9"/>
<path d="M65.30 478.40 L66.00 478.16 L66.69 477.91 L67.35 477.63 L68.00 477.34 L68.64 477.04 L69.25 476.72 L69.85 476.38 L70.44 476.03 L71.01 475.66 L71.57 475.28 L72.11 474.88 L72.63 474.47 L73.14 474.05 L73.64 473.61 L74.13 473.16 L74.60 472.69 L75.05 472.22 L75.50 471.73 L75.93 471.22 L76.36 470.71 L76.77 470.18 L77.17 469.64 L77.55 469.09 L77.93 468.53 L78.30 467.96 L78.66 467.38 L79.00 466.79 L79.34 466.19 L79.67 465.58 L79.99 464.96 L80.31 464.33 L80.61 463.69 L80.91 463.05 L81.20 462.39 L81.48 461.73 L81.75 461.06 L82.02 460.38 L82.29 459.69 L82.55 459.00 L82.80 458.31 L83.05 457.61 L83.30 456.91 L83.55 456.20 L83.79 455.50 L84.04 454.79 L84.28 454.09 L84.53 453.38 L84.78 452.68 L85.03 451.98 L85.29 451.28 L85.55 450.59 L85.81 449.91 L86.08 449.23 L86.36 448.56 L86.65 447.89 L86.94 447.24 L87.24 446.60 L87.55 445.96 L87.88 445.34 L88.21 444.73 L88.56 444.14 L88.91 443.55 L89.29 442.99 L89.67 442.44 L90.07 441.91 L90.49 441.39 L90.93 440.89 L91.38 440.42 L91.85 439.96 L92.34 439.53 L92.84 439.11 L93.37 438.72 L93.92 438.36 L94.48 438.02 L95.05 437.71 L95.64 437.43 L96.24 437.18 L96.85 436.96 L97.46 436.77 L98.09 436.62 L98.71 436.50 L99.34 436.42 L99.97 436.38 L100.60 436.38 L101.23 436.42 L101.86 436.50 L102.48 436.62 L103.10 436.78 L103.71 436.98 L104.33 437.21 L104.93 437.48 L105.54 437.77 L106.14 438.10 L106.73 438.44 L107.32 438.82 L107.91 439.21 L108.49 439.62 L109.07 440.05 L109.64 440.50 L110.21 440.96 L110.78 441.43 L111.34 441.90 L111.89 442.39 L112.44 442.88 L112.99 443.38 L113.53 443.88 L114.07 444.38 L114.61 444.89 L115.14 445.40 L115.67 445.91 L116.20 446.42 L116.73 446.93 L117.26 447.44 L117.78 447.95 L118.31 448.45 L118.83 448.96 L119.35 449.46 L119.88 449.96 L120.40 450.45 L120.93 450.94 L121.46 451.42 L121.98 451.89 L122.52 452.36 L123.05 452.82 L123.59 453.27 L124.13 453.71 L124.67 454.14 L125.22 454.56 L125.77 454.97 L126.32 455.36 L126.88 455.75 L127.45 456.12 L128.02 456.48 L128.59 456.83 L129.17 457.17 L129.75 457.49 L130.34 457.81 L130.93 458.12 L131.53 458.42 L132.13 458.70 L132.73 458.98 L133.34 459.25 L133.95 459.51 L134.57 459.76 L135.19 460.01 L135.82 460.24 L136.45 460.47 L137.08 460.69 L137.72 460.90 L138.36 461.11 L139.00 461.31 L139.65 461.50 L140.31 461.69 L140.97 461.87 L141.63 462.04 L142.29 462.21 L142.96 462.38 L143.64 462.54 L144.32 462.69 L145.00 462.84 L145.68 462.99 L146.37 463.13 L147.06 463.27 L147.76 463.41 L148.46 463.54 L149.16 463.67 L149.87 463.80 L150.58 463.93 L151.29 464.05 L152.01 464.17 L152.73 464.29 L153.45 464.40 L154.18 464.51 L154.90 464.61 L155.63 464.71 L156.36 464.80 L157.08 464.89 L157.81 464.96 L158.54 465.04 L159.27 465.10 L160.00 465.16 L160.72 465.20 L161.45 465.24 L162.17 465.27 L162.89 465.29 L163.61 465.30 L164.32 465.30 L165.04 465.29 L165.75 465.26 L166.45 465.23 L167.15 465.18 L167.85 465.11 L168.54 465.04 L169.23 464.95 L169.91 464.85 L170.59 464.73 L171.26 464.59 L171.92 464.45 L172.58 464.28 L173.23 464.10 L173.88 463.91 L174.52 463.70 L175.15 463.47 L175.77 463.23 L176.39 462.98 L177.01 462.71 L177.61 462.43 L178.21 462.14 L178.80 461.83 L179.39 461.51 L179.97 461.18 L180.55 460.84 L181.11 460.48 L181.68 460.11 L182.23 459.74 L182.78 459.34 L183.32 458.94 L183.86 458.53 L184.39 458.11 L184.91 457.67 L185.43 457.23 L185.94 456.78 L186.45 456.32 L186.94 455.84 L187.44 455.36 L187.92 454.87 L188.40 454.38 L188.88 453.87 L189.34 453.36 L189.80 452.83 L190.26 452.30 L190.71 451.77 L191.15 451.22 L191.59 450.67 L192.02 450.12 L192.44 449.55 L192.86 448.98 L193.27 448.41 L193.68 447.83 L194.08 447.24 L194.47 446.65 L194.86 446.06 L195.24 445.46 L195.61 444.86 L195.98 444.25 L196.34 443.64 L196.70 443.02 L197.05 442.40 L197.40 441.78 L197.74 441.16 L198.07 440.53 L198.39 439.91 L198.71 439.28 L199.03 438.65 L199.34 438.01 L199.64 437.38 L199.94 436.74 L200.23 436.11 L200.51 435.47 L200.79 434.83 L201.07 434.20 L201.34 433.56 L201.61 432.92 L201.88 432.28 L202.14 431.64 L202.41 431.00 L202.68 430.36 L202.95 429.71 L203.22 429.07 L203.49 428.42 L203.77 427.78 L204.05 427.13 L204.34 426.48 L204.63 425.83 L204.94 425.18 L205.24 424.53 L205.56 423.87 L205.89 423.22 L206.23 422.56 L206.58 421.90 L206.93 421.24 L207.31 420.59 L207.69 419.94 L208.08 419.29 L208.48 418.66 L208.90 418.05 L209.32 417.44 L209.76 416.86 L210.20 416.30 L210.66 415.77 L211.12 415.26 L211.60 414.78 L212.08 414.33 L212.58 413.92 L213.08 413.55 L213.60 413.22 L214.12 412.93 L214.65 412.69 L215.19 412.50 L215.74 412.35 L216.30 412.26 L216.87 412.22 L217.44 412.23 L218.01 412.28 L218.59 412.37 L219.17 412.51 L219.75 412.68 L220.33 412.90 L220.91 413.15 L221.48 413.43 L222.05 413.75 L222.62 414.10 L223.18 414.48 L223.73 414.89 L224.27 415.32 L224.80 415.78 L225.32 416.27 L225.83 416.77 L226.33 417.29 L226.82 417.83 L227.30 418.38 L227.77 418.95 L228.23 419.52 L228.69 420.11 L229.14 420.70 L229.58 421.30 L230.02 421.90 L230.45 422.51 L230.88 423.11 L231.31 423.71 L231.73 424.31 L232.15 424.91 L232.56 425.51 L232.98 426.11 L233.39 426.71 L233.80 427.30 L234.22 427.89 L234.63 428.48 L235.04 429.06 L235.46 429.64 L235.87 430.21 L236.29 430.78 L236.71 431.34 L237.14 431.90 L237.56 432.45 L238.00 433.00 L238.43 433.54 L238.87 434.07 L239.32 434.59 L239.78 435.11 L240.24 435.61 L240.70 436.11 L241.18 436.60 L241.66 437.08 L242.16 437.55 L242.66 438.01 L243.17 438.46 L243.69 438.89 L244.22 439.32 L244.75 439.74 L245.30 440.15 L245.85 440.54 L246.42 440.93 L246.98 441.31 L247.56 441.68 L248.15 442.05 L248.74 442.40 L249.33 442.74 L249.94 443.08 L250.54 443.41 L251.16 443.73 L251.78 444.05 L252.40 444.35 L253.04 444.65 L253.67 444.94 L254.31 445.23 L254.95 445.51 L255.60 445.78 L256.25 446.05 L256.91 446.31 L257.56 446.57 L258.22 446.82 L258.89 447.06 L259.55 447.30 L260.22 447.53 L260.89 447.76 L261.56 447.99 L262.23 448.21 L262.90 448.43 L263.57 448.64 L264.25 448.85 L264.92 449.06 L265.60 449.26 L266.27 449.46 L266.95 449.65 L267.62 449.84 L268.30 450.03 L268.98 450.21 L269.66 450.40 L270.33 450.57 L271.01 450.75 L271.69 450.92 L272.37 451.09 L273.05 451.25 L273.73 451.41 L274.41 451.57 L275.09 451.72 L275.78 451.87 L276.46 452.02 L277.14 452.17 L277.83 452.31 L278.51 452.45 L279.19 452.58 L279.88 452.72 L280.56 452.85 L281.25 452.97 L281.93 453.10 L282.62 453.22 L283.31 453.34 L283.99 453.46 L284.68 453.57 L285.37 453.68 L286.06 453.79 L286.75 453.89 L287.43 454.00 L288.12 454.10 L288.81 454.19 L289.50 454.29 L290.19 454.38 L290.88 454.47 L291.58 454.56 L292.27 454.65 L292.96 454.73 L293.65 454.81 L294.34 454.89 L295.03 454.97 L295.73 455.04 L296.42 455.11 L297.11 455.18 L297.81 455.25 L298.50 455.32 L299.20 455.38 L299.89 455.44 L300.59 455.50 L301.28 455.56 L301.98 455.62 L302.67 455.67 L303.37 455.72 L304.06 455.78 L304.76 455.82 L305.46 455.87 L306.15 455.92 L306.85 455.96 L307.55 456.00 L308.24 456.05 L308.94 456.08 L309.64 456.12 L310.34 456.16 L311.03 456.19 L311.73 456.23 L312.43 456.26 L313.13 456.29 L313.83 456.32 L314.53 456.35 L315.23 456.38 L315.93 456.40 L316.62 456.43 L317.32 456.45 L318.02 456.47 L318.72 456.49 L319.42 456.51 L320.12 456.53 L320.82 456.55 L321.52 456.57 L322.22 456.59 L322.92 456.60 L323.62 456.62 L324.32 456.63 L325.03 456.64 L325.73 456.66 L326.43 456.67 L327.13 456.68 L327.83 456.69 L328.53 456.70 L329.23 456.71 L329.93 456.72 L330.63 456.72 L331.33 456.73 L332.03 456.74 L332.73 456.75 L333.44 456.75 L334.14 456.76 L334.84 456.77 L335.54 456.77 L336.24 456.78 L336.94 456.78 L337.64 456.79 L338.34 456.79 L339.04 456.80 L339.75 456.80 L340.45 456.81 L341.15 456.81 L341.85 456.82 L342.55 456.82 L343.25 456.83 L343.95 456.83 L344.65 456.84 L345.35 456.84 L346.05 456.85 L346.75 456.85 L347.45 456.86 L348.15 456.87 L348.85 456.87 L349.55 456.88 L350.25 456.89 L350.95 456.90 L351.65 456.91 L352.35 456.92 L353.05 456.93 L353.75 456.94 L354.45 456.95 L355.15 456.96 L355.85 456.97 L356.54 456.99 L357.24 457.00 L357.94 457.02 L358.64 457.03 L359.34 457.05 L360.03 457.07 L360.73 457.08 L361.43 457.10 L362.13 457.12 L362.82 457.15 L363.52 457.17 L364.22 457.19 L364.91 457.22 L365.61 457.24 L366.30 457.27 L367.00 457.30" fill="none" stroke="#ff4500" stroke-width="1.25" stroke-dasharray="2.4 2 2.4 2 2.4 4.1"/>
<path d="M55.50 476.50 L56.15 476.09 L56.77 475.67 L57.37 475.24 L57.94 474.81 L58.49 474.36 L59.02 473.90 L59.53 473.44 L60.02 472.96 L60.49 472.48 L60.94 471.98 L61.37 471.48 L61.79 470.97 L62.20 470.44 L62.59 469.91 L62.96 469.37 L63.33 468.82 L63.69 468.26 L64.03 467.69 L64.37 467.11 L64.70 466.52 L65.02 465.93 L65.34 465.32 L65.65 464.71 L65.96 464.08 L66.26 463.45 L66.57 462.81 L66.87 462.16 L67.18 461.50 L67.48 460.83 L67.79 460.15 L68.10 459.46 L68.41 458.77 L68.73 458.06 L69.05 457.36 L69.38 456.65 L69.71 455.95 L70.05 455.24 L70.39 454.54 L70.74 453.84 L71.09 453.14 L71.45 452.46 L71.81 451.78 L72.18 451.12 L72.56 450.47 L72.95 449.84 L73.34 449.22 L73.74 448.62 L74.15 448.04 L74.56 447.48 L74.99 446.94 L75.42 446.43 L75.86 445.95 L76.31 445.50 L76.77 445.07 L77.24 444.68 L77.72 444.32 L78.20 444.00 L78.70 443.72 L79.21 443.47 L79.73 443.27 L80.26 443.11 L80.80 442.98 L81.36 442.90 L81.92 442.86 L82.49 442.86 L83.07 442.88 L83.65 442.95 L84.25 443.04 L84.85 443.16 L85.46 443.31 L86.08 443.49 L86.70 443.69 L87.33 443.91 L87.96 444.15 L88.60 444.42 L89.24 444.70 L89.88 444.99 L90.53 445.30 L91.17 445.62 L91.83 445.95 L92.48 446.29 L93.13 446.63 L93.78 446.98 L94.44 447.33 L95.09 447.69 L95.74 448.04 L96.39 448.39 L97.04 448.74 L97.68 449.08 L98.33 449.42 L98.97 449.75 L99.61 450.08 L100.25 450.41 L100.89 450.73 L101.53 451.05 L102.16 451.36 L102.80 451.67 L103.43 451.98 L104.07 452.28 L104.70 452.57 L105.34 452.87 L105.97 453.15 L106.60 453.44 L107.24 453.72 L107.87 453.99 L108.50 454.26 L109.14 454.53 L109.77 454.79 L110.41 455.04 L111.05 455.30 L111.68 455.54 L112.32 455.79 L112.96 456.03 L113.60 456.26 L114.25 456.49 L114.89 456.71 L115.54 456.93 L116.19 457.15 L116.84 457.36 L117.49 457.57 L118.15 457.77 L118.81 457.97 L119.47 458.16 L120.13 458.35 L120.79 458.53 L121.46 458.71 L122.13 458.89 L122.80 459.06 L123.47 459.23 L124.14 459.39 L124.82 459.55 L125.49 459.71 L126.17 459.86 L126.85 460.01 L127.53 460.15 L128.21 460.29 L128.90 460.43 L129.58 460.57 L130.27 460.70 L130.96 460.82 L131.65 460.95 L132.34 461.07 L133.03 461.19 L133.72 461.30 L134.41 461.42 L135.11 461.53 L135.81 461.63 L136.50 461.74 L137.20 461.84 L137.90 461.94 L138.60 462.04 L139.30 462.13 L140.00 462.22 L140.70 462.31 L141.40 462.40 L142.10 462.48 L142.80 462.57 L143.51 462.65 L144.21 462.73 L144.91 462.80 L145.62 462.88 L146.32 462.95 L147.02 463.02 L147.73 463.10 L148.43 463.16 L149.14 463.23 L149.84 463.30 L150.55 463.36 L151.25 463.43 L151.96 463.49 L152.66 463.55 L153.36 463.61 L154.07 463.67 L154.77 463.73 L155.47 463.78 L156.18 463.84 L156.88 463.90 L157.58 463.95 L158.28 464.01 L158.98 464.06 L159.68 464.12 L160.38 464.17 L161.08 464.22 L161.77 464.28 L162.47 464.33 L163.17 464.38 L163.86 464.43 L164.55 464.49 L165.25 464.54 L165.94 464.59 L166.63 464.65 L167.32 464.70 L168.01 464.75 L168.69 464.81 L169.38 464.86 L170.07 464.92 L170.76 464.97 L171.44 465.02 L172.13 465.08 L172.81 465.13 L173.50 465.18 L174.18 465.24 L174.87 465.29 L175.55 465.34 L176.24 465.40 L176.93 465.45 L177.61 465.50 L178.30 465.55 L178.99 465.61 L179.68 465.66 L180.37 465.71 L181.06 465.76 L181.75 465.81 L182.44 465.86 L183.14 465.91 L183.83 465.95 L184.53 466.00 L185.23 466.05 L185.93 466.09 L186.63 466.14 L187.33 466.18 L188.04 466.23 L188.74 466.27 L189.45 466.31 L190.16 466.36 L190.88 466.40 L191.59 466.43 L192.31 466.47 L193.03 466.51 L193.74 466.54 L194.46 466.56 L195.18 466.59 L195.90 466.61 L196.62 466.62 L197.34 466.63 L198.06 466.63 L198.77 466.63 L199.49 466.62 L200.20 466.60 L200.91 466.57 L201.62 466.54 L202.33 466.49 L203.03 466.44 L203.73 466.38 L204.43 466.30 L205.12 466.22 L205.81 466.12 L206.49 466.01 L207.17 465.89 L207.84 465.76 L208.51 465.61 L209.18 465.45 L209.83 465.28 L210.48 465.09 L211.13 464.88 L211.76 464.66 L212.39 464.42 L213.02 464.17 L213.63 463.90 L214.24 463.61 L214.84 463.31 L215.44 463.00 L216.03 462.67 L216.61 462.33 L217.18 461.97 L217.75 461.61 L218.31 461.23 L218.87 460.83 L219.41 460.43 L219.96 460.01 L220.49 459.58 L221.02 459.14 L221.54 458.69 L222.06 458.23 L222.57 457.76 L223.07 457.29 L223.57 456.80 L224.06 456.30 L224.55 455.80 L225.03 455.28 L225.50 454.76 L225.97 454.24 L226.43 453.70 L226.89 453.16 L227.34 452.61 L227.78 452.06 L228.22 451.50 L228.66 450.94 L229.08 450.37 L229.51 449.79 L229.93 449.22 L230.34 448.64 L230.75 448.06 L231.16 447.47 L231.57 446.88 L231.98 446.30 L232.39 445.71 L232.79 445.12 L233.20 444.53 L233.61 443.94 L234.02 443.35 L234.43 442.77 L234.84 442.18 L235.26 441.60 L235.69 441.02 L236.11 440.45 L236.54 439.88 L236.98 439.31 L237.43 438.75 L237.88 438.19 L238.33 437.64 L238.80 437.10 L239.28 436.56 L239.76 436.03 L240.25 435.51 L240.76 435.00 L241.27 434.50 L241.79 434.00 L242.33 433.53 L242.87 433.06 L243.41 432.61 L243.97 432.18 L244.53 431.77 L245.10 431.37 L245.68 431.00 L246.26 430.64 L246.85 430.32 L247.45 430.01 L248.05 429.73 L248.66 429.48 L249.27 429.26 L249.88 429.07 L250.50 428.90 L251.13 428.77 L251.75 428.68 L252.38 428.61 L253.01 428.57 L253.64 428.56 L254.27 428.59 L254.89 428.64 L255.52 428.72 L256.14 428.83 L256.75 428.96 L257.37 429.13 L257.97 429.32 L258.58 429.53 L259.18 429.77 L259.77 430.03 L260.36 430.31 L260.95 430.61 L261.54 430.94 L262.12 431.27 L262.70 431.63 L263.28 432.00 L263.85 432.39 L264.43 432.79 L265.00 433.20 L265.57 433.62 L266.14 434.06 L266.71 434.50 L267.27 434.95 L267.84 435.40 L268.41 435.86 L268.98 436.33 L269.55 436.79 L270.12 437.26 L270.69 437.73 L271.26 438.20 L271.83 438.67 L272.40 439.13 L272.98 439.59 L273.56 440.05 L274.14 440.50 L274.72 440.94 L275.31 441.37 L275.90 441.79 L276.49 442.20 L277.09 442.61 L277.69 443.00 L278.29 443.39 L278.89 443.76 L279.50 444.13 L280.11 444.49 L280.72 444.84 L281.34 445.19 L281.96 445.52 L282.58 445.85 L283.20 446.17 L283.83 446.48 L284.46 446.78 L285.09 447.07 L285.72 447.36 L286.36 447.64 L287.00 447.92 L287.64 448.18 L288.28 448.44 L288.93 448.69 L289.57 448.94 L290.22 449.18 L290.87 449.41 L291.53 449.64 L292.18 449.85 L292.84 450.07 L293.50 450.28 L294.16 450.48 L294.82 450.67 L295.49 450.86 L296.15 451.05 L296.82 451.22 L297.49 451.40 L298.16 451.57 L298.83 451.73 L299.51 451.89 L300.18 452.04 L300.86 452.19 L301.54 452.33 L302.22 452.47 L302.90 452.61 L303.58 452.74 L304.26 452.87 L304.95 452.99 L305.63 453.11 L306.32 453.22 L307.01 453.33 L307.69 453.44 L308.38 453.55 L309.07 453.65 L309.77 453.75 L310.46 453.84 L311.15 453.93 L311.84 454.02 L312.54 454.11 L313.23 454.19 L313.93 454.27 L314.62 454.35 L315.32 454.43 L316.02 454.51 L316.71 454.58 L317.41 454.65 L318.11 454.72 L318.81 454.79 L319.50 454.85 L320.20 454.92 L320.90 454.98 L321.60 455.05 L322.30 455.11 L323.00 455.17 L323.69 455.23 L324.39 455.29 L325.09 455.35 L325.79 455.40 L326.49 455.46 L327.19 455.52 L327.89 455.57 L328.58 455.62 L329.28 455.68 L329.98 455.73 L330.68 455.78 L331.38 455.83 L332.08 455.88 L332.77 455.93 L333.47 455.98 L334.17 456.03 L334.87 456.07 L335.57 456.12 L336.27 456.16 L336.97 456.21 L337.66 456.25 L338.36 456.29 L339.06 456.34 L339.76 456.38 L340.46 456.42 L341.16 456.46 L341.85 456.49 L342.55 456.53 L343.25 456.57 L343.95 456.60 L344.65 456.64 L345.35 456.67 L346.05 456.70 L346.74 456.74 L347.44 456.77 L348.14 456.80 L348.84 456.83 L349.54 456.86 L350.24 456.89 L350.93 456.91 L351.63 456.94 L352.33 456.96 L353.03 456.99 L353.73 457.01 L354.43 457.03 L355.12 457.06 L355.82 457.08 L356.52 457.10 L357.22 457.12 L357.92 457.14 L358.62 457.15 L359.32 457.17 L360.01 457.19 L360.71 457.20 L361.41 457.22 L362.11 457.23 L362.81 457.24 L363.51 457.25 L364.21 457.27 L364.90 457.28 L365.60 457.28 L366.30 457.29 L367.00 457.30" fill="none" stroke="#808080" stroke-width="1.2" stroke-dasharray="2.4 2 2.4 2 2.4 2 2.4 4.15"/>
<path d="M55.50 470.00 L55.71 469.17 L55.93 468.35 L56.17 467.56 L56.43 466.78 L56.70 466.02 L56.99 465.29 L57.30 464.57 L57.61 463.87 L57.95 463.19 L58.30 462.53 L58.66 461.90 L59.03 461.28 L59.42 460.68 L59.82 460.11 L60.24 459.55 L60.66 459.02 L61.10 458.50 L61.56 458.01 L62.02 457.54 L62.49 457.09 L62.98 456.66 L63.48 456.25 L63.99 455.87 L64.50 455.50 L65.03 455.16 L65.57 454.84 L66.12 454.54 L66.67 454.27 L67.24 454.02 L67.81 453.79 L68.39 453.58 L68.98 453.39 L69.58 453.23 L70.18 453.09 L70.80 452.98 L71.42 452.88 L72.04 452.81 L72.67 452.75 L73.31 452.72 L73.95 452.70 L74.60 452.70 L75.26 452.71 L75.92 452.74 L76.58 452.78 L77.25 452.84 L77.92 452.90 L78.59 452.98 L79.27 453.07 L79.96 453.16 L80.64 453.27 L81.33 453.38 L82.02 453.50 L82.71 453.62 L83.40 453.75 L84.10 453.87 L84.80 454.01 L85.49 454.14 L86.19 454.27 L86.89 454.40 L87.59 454.53 L88.29 454.66 L88.99 454.79 L89.68 454.91 L90.38 455.04 L91.08 455.16 L91.78 455.28 L92.48 455.39 L93.18 455.51 L93.88 455.62 L94.57 455.74 L95.27 455.85 L95.97 455.96 L96.67 456.07 L97.37 456.17 L98.07 456.28 L98.77 456.38 L99.47 456.48 L100.17 456.58 L100.86 456.68 L101.56 456.78 L102.26 456.87 L102.96 456.97 L103.66 457.06 L104.36 457.15 L105.06 457.24 L105.76 457.33 L106.46 457.42 L107.15 457.50 L107.85 457.59 L108.55 457.67 L109.25 457.75 L109.95 457.83 L110.65 457.91 L111.35 457.99 L112.05 458.06 L112.74 458.14 L113.44 458.21 L114.14 458.29 L114.84 458.36 L115.54 458.43 L116.24 458.50 L116.94 458.57 L117.63 458.63 L118.33 458.70 L119.03 458.76 L119.73 458.83 L120.43 458.89 L121.13 458.95 L121.82 459.01 L122.52 459.07 L123.22 459.13 L123.92 459.19 L124.62 459.25 L125.31 459.30 L126.01 459.36 L126.71 459.41 L127.41 459.46 L128.11 459.52 L128.80 459.57 L129.50 459.62 L130.20 459.67 L130.90 459.72 L131.59 459.77 L132.29 459.81 L132.99 459.86 L133.68 459.90 L134.38 459.95 L135.08 459.99 L135.77 460.04 L136.47 460.08 L137.17 460.12 L137.86 460.16 L138.56 460.21 L139.26 460.25 L139.95 460.29 L140.65 460.33 L141.35 460.36 L142.04 460.40 L142.74 460.44 L143.44 460.48 L144.13 460.51 L144.83 460.55 L145.52 460.58 L146.22 460.62 L146.92 460.65 L147.61 460.69 L148.31 460.72 L149.01 460.75 L149.70 460.78 L150.40 460.82 L151.09 460.85 L151.79 460.88 L152.49 460.91 L153.18 460.94 L153.88 460.97 L154.57 461.00 L155.27 461.03 L155.97 461.06 L156.66 461.09 L157.36 461.12 L158.05 461.15 L158.75 461.17 L159.45 461.20 L160.14 461.23 L160.84 461.26 L161.53 461.29 L162.23 461.31 L162.93 461.34 L163.62 461.37 L164.32 461.39 L165.02 461.42 L165.71 461.45 L166.41 461.47 L167.11 461.50 L167.80 461.53 L168.50 461.55 L169.20 461.58 L169.89 461.61 L170.59 461.63 L171.29 461.66 L171.98 461.68 L172.68 461.71 L173.38 461.74 L174.07 461.76 L174.77 461.79 L175.47 461.82 L176.16 461.84 L176.86 461.87 L177.56 461.90 L178.26 461.93 L178.95 461.95 L179.65 461.98 L180.35 462.01 L181.05 462.04 L181.74 462.06 L182.44 462.09 L183.14 462.12 L183.84 462.15 L184.54 462.18 L185.24 462.21 L185.93 462.24 L186.63 462.27 L187.33 462.30 L188.03 462.33 L188.73 462.36 L189.43 462.39 L190.13 462.43 L190.83 462.46 L191.53 462.49 L192.22 462.53 L192.92 462.56 L193.62 462.59 L194.32 462.63 L195.02 462.66 L195.72 462.70 L196.42 462.74 L197.12 462.77 L197.83 462.81 L198.53 462.85 L199.23 462.89 L199.93 462.93 L200.63 462.97 L201.33 463.01 L202.03 463.05 L202.73 463.09 L203.44 463.13 L204.14 463.18 L204.84 463.22 L205.54 463.26 L206.24 463.31 L206.95 463.36 L207.65 463.40 L208.35 463.45 L209.06 463.50 L209.76 463.55 L210.46 463.60 L211.17 463.65 L211.87 463.70 L212.58 463.75 L213.28 463.80 L213.98 463.86 L214.69 463.91 L215.39 463.97 L216.10 464.03 L216.80 464.08 L217.51 464.14 L218.22 464.20 L218.92 464.26 L219.63 464.32 L220.33 464.39 L221.04 464.45 L221.75 464.51 L222.45 464.57 L223.16 464.63 L223.86 464.69 L224.57 464.76 L225.28 464.82 L225.98 464.88 L226.69 464.94 L227.40 465.00 L228.10 465.05 L228.81 465.11 L229.51 465.17 L230.22 465.22 L230.92 465.27 L231.63 465.33 L232.33 465.38 L233.04 465.42 L233.74 465.47 L234.44 465.52 L235.15 465.56 L235.85 465.60 L236.55 465.64 L237.26 465.67 L237.96 465.70 L238.66 465.73 L239.36 465.76 L240.06 465.78 L240.76 465.80 L241.46 465.82 L242.16 465.84 L242.85 465.85 L243.55 465.85 L244.25 465.86 L244.94 465.86 L245.64 465.85 L246.33 465.84 L247.03 465.83 L247.72 465.82 L248.41 465.79 L249.10 465.77 L249.79 465.74 L250.48 465.70 L251.17 465.66 L251.86 465.62 L252.55 465.56 L253.23 465.51 L253.92 465.45 L254.60 465.38 L255.28 465.31 L255.96 465.23 L256.64 465.14 L257.32 465.05 L258.00 464.96 L258.68 464.85 L259.36 464.74 L260.03 464.63 L260.71 464.50 L261.38 464.38 L262.05 464.24 L262.72 464.10 L263.39 463.94 L264.06 463.79 L264.72 463.62 L265.38 463.45 L266.04 463.26 L266.70 463.07 L267.36 462.87 L268.01 462.67 L268.66 462.45 L269.31 462.22 L269.96 461.98 L270.60 461.74 L271.23 461.48 L271.87 461.21 L272.49 460.93 L273.12 460.64 L273.74 460.34 L274.35 460.03 L274.96 459.71 L275.57 459.37 L276.17 459.02 L276.76 458.66 L277.35 458.29 L277.94 457.90 L278.51 457.50 L279.09 457.09 L279.65 456.67 L280.22 456.24 L280.78 455.80 L281.33 455.35 L281.89 454.90 L282.44 454.44 L282.99 453.97 L283.53 453.51 L284.08 453.03 L284.62 452.56 L285.16 452.09 L285.71 451.61 L286.25 451.14 L286.79 450.67 L287.34 450.20 L287.88 449.73 L288.43 449.27 L288.98 448.81 L289.53 448.36 L290.09 447.92 L290.65 447.48 L291.21 447.06 L291.78 446.64 L292.35 446.23 L292.93 445.84 L293.51 445.46 L294.10 445.09 L294.69 444.73 L295.29 444.39 L295.89 444.06 L296.49 443.75 L297.11 443.45 L297.72 443.16 L298.34 442.88 L298.97 442.62 L299.60 442.38 L300.23 442.15 L300.87 441.93 L301.51 441.73 L302.15 441.54 L302.79 441.37 L303.44 441.21 L304.10 441.07 L304.75 440.95 L305.41 440.84 L306.07 440.74 L306.73 440.66 L307.40 440.60 L308.06 440.55 L308.73 440.52 L309.40 440.51 L310.07 440.51 L310.75 440.53 L311.42 440.57 L312.10 440.62 L312.77 440.69 L313.45 440.78 L314.13 440.88 L314.81 441.00 L315.49 441.13 L316.17 441.27 L316.85 441.43 L317.53 441.60 L318.21 441.78 L318.89 441.97 L319.57 442.17 L320.25 442.38 L320.93 442.59 L321.61 442.82 L322.29 443.05 L322.97 443.28 L323.65 443.52 L324.33 443.77 L325.01 444.01 L325.69 444.26 L326.36 444.51 L327.04 444.77 L327.71 445.02 L328.39 445.27 L329.06 445.52 L329.73 445.77 L330.41 446.01 L331.08 446.26 L331.75 446.50 L332.41 446.74 L333.08 446.98 L333.75 447.22 L334.42 447.46 L335.08 447.69 L335.75 447.92 L336.42 448.15 L337.08 448.38 L337.75 448.60 L338.41 448.82 L339.07 449.04 L339.74 449.26 L340.40 449.47 L341.07 449.68 L341.73 449.89 L342.40 450.09 L343.06 450.30 L343.73 450.49 L344.40 450.69 L345.06 450.88 L345.73 451.07 L346.40 451.26 L347.06 451.44 L347.73 451.62 L348.40 451.79 L349.07 451.97 L349.74 452.13 L350.42 452.30 L351.09 452.46 L351.76 452.61 L352.44 452.77 L353.12 452.91 L353.79 453.06 L354.47 453.20 L355.15 453.33 L355.84 453.46 L356.52 453.59 L357.21 453.71 L357.89 453.83 L358.58 453.94 L359.27 454.05 L359.96 454.15 L360.66 454.25 L361.35 454.34 L362.05 454.43 L362.75 454.51 L363.45 454.59 L364.16 454.66 L364.87 454.73 L365.57 454.79 L366.29 454.85 L367.00 454.90" fill="none" stroke="#00ff00" stroke-width="2.4" stroke-dasharray="4.5 2.0"/>
<path d="M55.50 465.50 L55.97 464.83 L56.46 464.19 L56.95 463.58 L57.45 463.01 L57.96 462.46 L58.48 461.94 L59.01 461.45 L59.54 460.98 L60.09 460.54 L60.64 460.13 L61.19 459.75 L61.76 459.38 L62.33 459.05 L62.91 458.73 L63.50 458.44 L64.09 458.17 L64.69 457.92 L65.29 457.69 L65.90 457.48 L66.52 457.30 L67.14 457.12 L67.77 456.97 L68.40 456.84 L69.04 456.72 L69.68 456.61 L70.33 456.53 L70.98 456.45 L71.64 456.39 L72.30 456.35 L72.96 456.31 L73.63 456.29 L74.30 456.28 L74.98 456.28 L75.65 456.28 L76.33 456.30 L77.02 456.33 L77.70 456.36 L78.39 456.40 L79.08 456.45 L79.77 456.50 L80.47 456.56 L81.17 456.62 L81.86 456.69 L82.56 456.76 L83.26 456.83 L83.96 456.90 L84.66 456.97 L85.36 457.05 L86.07 457.12 L86.77 457.19 L87.47 457.26 L88.17 457.33 L88.87 457.40 L89.58 457.46 L90.28 457.53 L90.98 457.59 L91.68 457.65 L92.38 457.70 L93.08 457.76 L93.78 457.81 L94.49 457.87 L95.19 457.92 L95.89 457.96 L96.59 458.01 L97.29 458.06 L97.99 458.10 L98.69 458.15 L99.39 458.19 L100.09 458.23 L100.79 458.27 L101.49 458.30 L102.19 458.34 L102.89 458.37 L103.59 458.41 L104.29 458.44 L104.99 458.47 L105.69 458.50 L106.39 458.53 L107.09 458.56 L107.79 458.58 L108.49 458.61 L109.19 458.63 L109.89 458.66 L110.59 458.68 L111.29 458.70 L111.99 458.72 L112.69 458.74 L113.39 458.76 L114.08 458.78 L114.78 458.80 L115.48 458.81 L116.18 458.83 L116.88 458.85 L117.58 458.86 L118.28 458.88 L118.98 458.89 L119.68 458.90 L120.38 458.92 L121.08 458.93 L121.78 458.94 L122.48 458.95 L123.18 458.96 L123.88 458.98 L124.58 458.99 L125.28 459.00 L125.97 459.01 L126.67 459.02 L127.37 459.03 L128.07 459.04 L128.77 459.05 L129.47 459.06 L130.17 459.07 L130.87 459.08 L131.57 459.09 L132.27 459.10 L132.97 459.11 L133.67 459.12 L134.37 459.13 L135.07 459.14 L135.77 459.15 L136.47 459.16 L137.17 459.17 L137.87 459.18 L138.57 459.19 L139.28 459.20 L139.98 459.21 L140.68 459.22 L141.38 459.23 L142.08 459.24 L142.78 459.25 L143.48 459.26 L144.18 459.27 L144.88 459.28 L145.58 459.29 L146.28 459.30 L146.98 459.31 L147.68 459.33 L148.38 459.34 L149.08 459.35 L149.79 459.36 L150.49 459.37 L151.19 459.38 L151.89 459.39 L152.59 459.40 L153.29 459.41 L153.99 459.42 L154.69 459.44 L155.39 459.45 L156.09 459.46 L156.80 459.47 L157.50 459.48 L158.20 459.49 L158.90 459.51 L159.60 459.52 L160.30 459.53 L161.00 459.54 L161.70 459.55 L162.40 459.56 L163.10 459.58 L163.81 459.59 L164.51 459.60 L165.21 459.61 L165.91 459.62 L166.61 459.64 L167.31 459.65 L168.01 459.66 L168.71 459.67 L169.41 459.69 L170.11 459.70 L170.81 459.71 L171.51 459.72 L172.22 459.74 L172.92 459.75 L173.62 459.76 L174.32 459.78 L175.02 459.79 L175.72 459.80 L176.42 459.81 L177.12 459.83 L177.82 459.84 L178.52 459.85 L179.22 459.87 L179.92 459.88 L180.62 459.89 L181.32 459.91 L182.02 459.92 L182.72 459.94 L183.42 459.95 L184.12 459.96 L184.82 459.98 L185.52 459.99 L186.22 460.00 L186.92 460.02 L187.62 460.03 L188.32 460.05 L189.02 460.06 L189.72 460.08 L190.42 460.09 L191.12 460.10 L191.82 460.12 L192.52 460.13 L193.22 460.15 L193.92 460.16 L194.62 460.18 L195.32 460.19 L196.02 460.21 L196.71 460.22 L197.41 460.24 L198.11 460.25 L198.81 460.27 L199.51 460.28 L200.21 460.30 L200.91 460.32 L201.60 460.33 L202.30 460.35 L203.00 460.36 L203.70 460.38 L204.40 460.39 L205.09 460.41 L205.79 460.43 L206.49 460.44 L207.19 460.46 L207.89 460.48 L208.58 460.49 L209.28 460.51 L209.98 460.52 L210.67 460.54 L211.37 460.56 L212.07 460.57 L212.77 460.59 L213.46 460.61 L214.16 460.63 L214.86 460.64 L215.55 460.66 L216.25 460.68 L216.94 460.70 L217.64 460.71 L218.34 460.73 L219.03 460.75 L219.73 460.77 L220.42 460.78 L221.12 460.80 L221.81 460.82 L222.51 460.84 L223.20 460.86 L223.90 460.88 L224.60 460.90 L225.29 460.92 L225.99 460.94 L226.68 460.96 L227.38 460.98 L228.07 461.00 L228.77 461.03 L229.46 461.05 L230.16 461.07 L230.85 461.10 L231.55 461.12 L232.24 461.15 L232.94 461.17 L233.64 461.20 L234.33 461.23 L235.03 461.26 L235.72 461.28 L236.42 461.31 L237.12 461.35 L237.81 461.38 L238.51 461.41 L239.21 461.44 L239.90 461.48 L240.60 461.51 L241.30 461.55 L242.00 461.59 L242.69 461.63 L243.39 461.67 L244.09 461.71 L244.79 461.75 L245.49 461.79 L246.19 461.84 L246.89 461.88 L247.59 461.93 L248.29 461.98 L248.99 462.03 L249.69 462.08 L250.39 462.13 L251.09 462.18 L251.79 462.24 L252.49 462.30 L253.19 462.35 L253.90 462.41 L254.60 462.47 L255.30 462.54 L256.01 462.60 L256.71 462.67 L257.41 462.73 L258.12 462.80 L258.82 462.87 L259.53 462.95 L260.24 463.02 L260.94 463.10 L261.65 463.18 L262.36 463.25 L263.07 463.33 L263.77 463.42 L264.48 463.50 L265.19 463.58 L265.90 463.66 L266.61 463.75 L267.32 463.83 L268.03 463.91 L268.74 464.00 L269.44 464.08 L270.15 464.16 L270.86 464.24 L271.57 464.32 L272.28 464.40 L272.99 464.48 L273.70 464.56 L274.40 464.63 L275.11 464.70 L275.82 464.78 L276.53 464.84 L277.23 464.91 L277.94 464.97 L278.65 465.03 L279.35 465.09 L280.06 465.15 L280.76 465.20 L281.46 465.25 L282.17 465.29 L282.87 465.33 L283.57 465.37 L284.27 465.40 L284.97 465.43 L285.67 465.45 L286.37 465.47 L287.06 465.48 L287.76 465.49 L288.46 465.49 L289.15 465.49 L289.84 465.48 L290.54 465.47 L291.23 465.45 L291.92 465.43 L292.61 465.39 L293.29 465.36 L293.98 465.31 L294.66 465.26 L295.35 465.20 L296.03 465.13 L296.71 465.06 L297.39 464.98 L298.07 464.89 L298.74 464.79 L299.42 464.68 L300.09 464.57 L300.76 464.45 L301.43 464.32 L302.10 464.18 L302.77 464.03 L303.43 463.87 L304.09 463.71 L304.75 463.53 L305.41 463.35 L306.07 463.16 L306.73 462.97 L307.38 462.76 L308.04 462.55 L308.69 462.34 L309.34 462.11 L309.99 461.88 L310.64 461.65 L311.29 461.41 L311.94 461.16 L312.58 460.91 L313.23 460.65 L313.87 460.39 L314.51 460.12 L315.16 459.85 L315.80 459.57 L316.44 459.29 L317.08 459.01 L317.72 458.72 L318.35 458.43 L318.99 458.14 L319.63 457.84 L320.26 457.54 L320.90 457.24 L321.53 456.94 L322.17 456.63 L322.80 456.32 L323.44 456.01 L324.07 455.70 L324.70 455.39 L325.34 455.08 L325.97 454.77 L326.60 454.45 L327.23 454.14 L327.87 453.83 L328.50 453.51 L329.13 453.20 L329.76 452.89 L330.40 452.58 L331.03 452.27 L331.66 451.96 L332.30 451.66 L332.93 451.35 L333.56 451.05 L334.20 450.75 L334.83 450.45 L335.47 450.16 L336.10 449.86 L336.74 449.58 L337.37 449.29 L338.01 449.01 L338.65 448.74 L339.29 448.47 L339.93 448.20 L340.57 447.94 L341.21 447.69 L341.85 447.45 L342.50 447.21 L343.14 446.98 L343.79 446.75 L344.44 446.54 L345.09 446.33 L345.74 446.14 L346.39 445.95 L347.04 445.78 L347.70 445.61 L348.35 445.46 L349.01 445.32 L349.67 445.18 L350.34 445.07 L351.00 444.96 L351.67 444.87 L352.34 444.79 L353.01 444.72 L353.68 444.67 L354.36 444.64 L355.04 444.61 L355.72 444.61 L356.40 444.62 L357.09 444.65 L357.77 444.69 L358.47 444.75 L359.16 444.83 L359.86 444.93 L360.56 445.05 L361.26 445.18 L361.97 445.34 L362.68 445.51 L363.39 445.71 L364.10 445.92 L364.82 446.16 L365.55 446.42 L366.27 446.70 L367.00 447.00" fill="none" stroke="#0000ff" stroke-width="2.4" stroke-dasharray="2.3 3.15"/>
</g>
<path d="M55.1 18.2H367.5V489.4H55.1Z M55.1 275.2H367.5" fill="none" stroke="#000" stroke-width="1.3"/>
<path d="M107.5 18.2v6.8 M107.5 268.4v13.6 M107.5 489.4v-6.8 M159.5 18.2v6.8 M159.5 268.4v13.6 M159.5 489.4v-6.8 M211.5 18.2v6.8 M211.5 268.4v13.6 M211.5 489.4v-6.8 M263.5 18.2v6.8 M263.5 268.4v13.6 M263.5 489.4v-6.8 M315.5 18.2v6.8 M315.5 268.4v13.6 M315.5 489.4v-6.8 M55.1 263.50h6.8 M367.5 263.50h-6.8 M55.1 216.78h6.8 M367.5 216.78h-6.8 M55.1 170.06h6.8 M367.5 170.06h-6.8 M55.1 123.34h6.8 M367.5 123.34h-6.8 M55.1 76.62h6.8 M367.5 76.62h-6.8 M55.1 29.90h6.8 M367.5 29.90h-6.8 M55.1 479.40h6.8 M367.5 479.40h-6.8 M55.1 438.20h6.8 M367.5 438.20h-6.8 M55.1 397.00h6.8 M367.5 397.00h-6.8 M55.1 355.80h6.8 M367.5 355.80h-6.8 M55.1 314.60h6.8 M367.5 314.60h-6.8" fill="none" stroke="#000" stroke-width="1.3"/>
<g fill="#000" style="will-change:transform">
<text x="45.6" y="268.50" text-anchor="end" font-family="Liberation Serif, serif" font-size="15">0</text>
<text x="45.6" y="221.78" text-anchor="end" font-family="Liberation Serif, serif" font-size="15">0.2</text>
<text x="45.6" y="175.06" text-anchor="end" font-family="Liberation Serif, serif" font-size="15">0.4</text>
<text x="45.6" y="128.34" text-anchor="end" font-family="Liberation Serif, serif" font-size="15">0.6</text>
<text x="45.6" y="81.62" text-anchor="end" font-family="Liberation Serif, serif" font-size="15">0.8</text>
<text x="45.6" y="34.90" text-anchor="end" font-family="Liberation Serif, serif" font-size="15">1</text>
<text x="45.6" y="484.40" text-anchor="end" font-family="Liberation Serif, serif" font-size="15">0</text>
<text x="45.6" y="443.20" text-anchor="end" font-family="Liberation Serif, serif" font-size="15">2</text>
<text x="45.6" y="402.00" text-anchor="end" font-family="Liberation Serif, serif" font-size="15">4</text>
<text x="45.6" y="360.80" text-anchor="end" font-family="Liberation Serif, serif" font-size="15">6</text>
<text x="45.6" y="319.60" text-anchor="end" font-family="Liberation Serif, serif" font-size="15">8</text>
<text x="55.0" y="510.2" text-anchor="middle" font-family="Liberation Serif, serif" font-size="15">0</text>
<text x="107.0" y="510.2" text-anchor="middle" font-family="Liberation Serif, serif" font-size="15">0.5</text>
<text x="159.0" y="510.2" text-anchor="middle" font-family="Liberation Serif, serif" font-size="15">1</text>
<text x="211.0" y="510.2" text-anchor="middle" font-family="Liberation Serif, serif" font-size="15">1.5</text>
<text x="263.0" y="510.2" text-anchor="middle" font-family="Liberation Serif, serif" font-size="15">2</text>
<text x="315.0" y="510.2" text-anchor="middle" font-family="Liberation Serif, serif" font-size="15">2.5</text>
<text x="367.0" y="510.2" text-anchor="middle" font-family="Liberation Serif, serif" font-size="15">3</text>
<text x="13.7" y="34.6" font-family="Liberation Sans, sans-serif" font-size="15.2">(a)</text>
<text x="13.7" y="298.8" font-family="Liberation Sans, sans-serif" font-size="15.2">(b)</text>
<text x="186.2" y="532.8" font-family="Liberation Serif, serif" font-size="19.5"><tspan font-style="italic">F</tspan> / <tspan font-style="italic" dx="-0.8">F</tspan><tspan font-size="15.6" dy="4.6" dx="-0.4">cr</tspan></text>
<text transform="translate(14.2 170.3) rotate(-90)" font-family="Liberation Sans, sans-serif" font-size="19.2"><tspan x="0">μ</tspan><tspan x="16.6">/</tspan><tspan x="25.3">μ</tspan><tspan x="36.3" font-size="15.6" dy="5.5">0</tspan></text>
<text transform="translate(26.6 411.6) rotate(-90)" font-family="Liberation Serif, serif" font-size="19.5"><tspan font-style="italic">D</tspan> / <tspan font-style="italic">D</tspan><tspan font-size="17" dy="-0.1" font-family="Liberation Sans, sans-serif">∞</tspan></text>
<path d="M315.2 294.00H340.6" stroke="#ff0000" stroke-width="1.8" fill="none"/>
<text x="305.9" y="298.80" text-anchor="end" font-family="Liberation Serif, serif" font-size="15">monomer</text>
<path d="M315.2 307.75H340.6" stroke="#00ff00" stroke-width="1.25" stroke-dasharray="4.4 2" fill="none"/>
<text x="305.9" y="312.55" text-anchor="end" font-family="Liberation Serif, serif" font-size="15"><tspan font-style="italic">K</tspan> = 0.01</text>
<path d="M315.2 321.50H340.6" stroke="#0000ff" stroke-width="1.25" stroke-dasharray="2.5 3.2" fill="none"/>
<text x="305.9" y="326.30" text-anchor="end" font-family="Liberation Serif, serif" font-size="15">0.05</text>
<path d="M315.2 335.25H340.6" stroke="#ff00ff" stroke-width="1.25" stroke-dasharray="1.2 1.3" fill="none"/>
<text x="278.9" y="340.05" font-family="Liberation Serif, serif" font-size="15">0.1</text>
<path d="M315.2 349.00H340.6" stroke="#00ffff" stroke-width="1.25" stroke-dasharray="5.6 2.2 1.2 2" fill="none"/>
<text x="278.9" y="353.80" font-family="Liberation Serif, serif" font-size="15">0.2</text>
<path d="M315.2 362.75H340.6" stroke="#000000" stroke-width="1.25" stroke-dasharray="2.7 1.6 2.7 3.9" fill="none"/>
<text x="278.9" y="367.55" font-family="Liberation Serif, serif" font-size="15">0.3</text>
<path d="M315.2 376.50H340.6" stroke="#ff4500" stroke-width="1.25" stroke-dasharray="2.4 2 2.4 2 2.4 4.1" fill="none"/>
<text x="278.9" y="381.30" font-family="Liberation Serif, serif" font-size="15">0.5</text>
<path d="M315.2 390.25H340.6" stroke="#808080" stroke-width="1.2" stroke-dasharray="2.4 2 2.4 2 2.4 2 2.4 4.15" fill="none"/>
<text x="278.9" y="395.05" font-family="Liberation Serif, serif" font-size="15">1</text>
<path d="M315.2 404.00H340.6" stroke="#00ff00" stroke-width="2.4" stroke-dasharray="4.5 2.0" fill="none"/>
<text x="278.9" y="408.80" font-family="Liberation Serif, serif" font-size="15">2</text>
<path d="M315.2 417.75H340.6" stroke="#0000ff" stroke-width="2.4" stroke-dasharray="2.3 3.15" fill="none"/>
<text x="278.9" y="422.55" font-family="Liberation Serif, serif" font-size="15">3</text>
</g>
</svg>
</body></html>
